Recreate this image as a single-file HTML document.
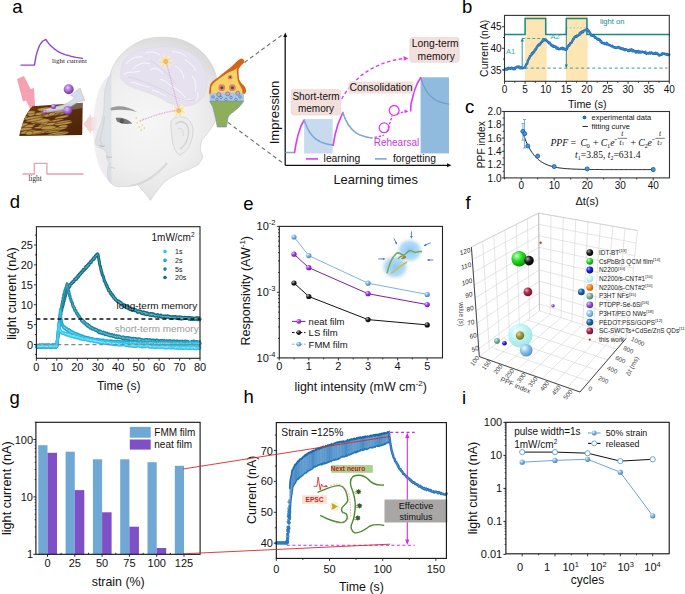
<!DOCTYPE html>
<html><head><meta charset="utf-8"><style>
html,body{margin:0;padding:0;background:#fff;}
body{width:685px;height:594px;overflow:hidden;}
svg{display:block;font-family:"Liberation Sans",sans-serif;}
</style></head><body>
<svg width="685" height="594" viewBox="0 0 685 594">

<defs>
<radialGradient id="gHead" gradientUnits="userSpaceOnUse" cx="148" cy="122" r="88">
 <stop offset="0" stop-color="#f6f6f6"/><stop offset="0.55" stop-color="#efefef"/><stop offset="0.8" stop-color="#e6e6e6"/><stop offset="1" stop-color="#d9d9d9"/>
</radialGradient>
<linearGradient id="gLens" x1="0" x2="1" y1="0" y2="0"><stop offset="0" stop-color="#f4eef0"/><stop offset="0.4" stop-color="#ebebf0"/><stop offset="1" stop-color="#dfe5ec"/></linearGradient>
<linearGradient id="gPinkFade" x1="0" x2="1"><stop offset="0" stop-color="#f3d6d6"/><stop offset="1" stop-color="#f3d6d6" stop-opacity="0"/></linearGradient>
<linearGradient id="gFilm" x1="0" x2="1" y1="0" y2="1"><stop offset="0" stop-color="#6a3a12"/><stop offset="0.6" stop-color="#5a2c0c"/><stop offset="1" stop-color="#4a2208"/></linearGradient>
<radialGradient id="gGlow"><stop offset="0" stop-color="#fff3c0"/><stop offset="0.5" stop-color="#fbe9a8" stop-opacity="0.6"/><stop offset="1" stop-color="#fff" stop-opacity="0"/></radialGradient>
<radialGradient id="gGlowBlue"><stop offset="0" stop-color="#8cc8f8"/><stop offset="0.65" stop-color="#a6d4fa" stop-opacity="0.85"/><stop offset="1" stop-color="#cfe6fa" stop-opacity="0"/></radialGradient>
<radialGradient id="gPurple" cx="0.4" cy="0.35" r="0.7"><stop offset="0" stop-color="#e6c8f5"/><stop offset="0.5" stop-color="#a468d0"/><stop offset="1" stop-color="#6a2e9a"/></radialGradient>
<radialGradient id="gBall1" cx="0.35" cy="0.32" r="0.75"><stop offset="0" stop-color="#e8f2fb"/><stop offset="0.45" stop-color="#7eb3df"/><stop offset="1" stop-color="#3f7fb8"/></radialGradient><radialGradient id="gBall2" cx="0.35" cy="0.32" r="0.75"><stop offset="0" stop-color="#f0d8ff"/><stop offset="0.45" stop-color="#a030f0"/><stop offset="1" stop-color="#6a10b0"/></radialGradient><radialGradient id="gBall3" cx="0.35" cy="0.32" r="0.75"><stop offset="0" stop-color="#bbbbbb"/><stop offset="0.45" stop-color="#222222"/><stop offset="1" stop-color="#000000"/></radialGradient><radialGradient id="gCyanBig" cx="0.35" cy="0.32" r="0.75"><stop offset="0" stop-color="#f4ffff"/><stop offset="0.45" stop-color="#aef2f2"/><stop offset="1" stop-color="#86dede"/></radialGradient><radialGradient id="gCyan" cx="0.35" cy="0.32" r="0.75"><stop offset="0" stop-color="#f4ffff"/><stop offset="0.45" stop-color="#bff5f7"/><stop offset="1" stop-color="#98e4e8"/></radialGradient><radialGradient id="gOlive" cx="0.35" cy="0.32" r="0.75"><stop offset="0" stop-color="#e0d890"/><stop offset="0.45" stop-color="#a39a3a"/><stop offset="1" stop-color="#6a6420"/></radialGradient><radialGradient id="gTeal" cx="0.35" cy="0.32" r="0.75"><stop offset="0" stop-color="#d8eee8"/><stop offset="0.45" stop-color="#7ab0a8"/><stop offset="1" stop-color="#3f7a72"/></radialGradient><radialGradient id="gBlue" cx="0.35" cy="0.32" r="0.75"><stop offset="0" stop-color="#a8a8ff"/><stop offset="0.45" stop-color="#1818e0"/><stop offset="1" stop-color="#0a0a90"/></radialGradient><radialGradient id="gLightBlue" cx="0.35" cy="0.32" r="0.75"><stop offset="0" stop-color="#f2faff"/><stop offset="0.45" stop-color="#8cc4ea"/><stop offset="1" stop-color="#4f8fbf"/></radialGradient><radialGradient id="gGreen" cx="0.35" cy="0.32" r="0.75"><stop offset="0" stop-color="#c8ffc8"/><stop offset="0.45" stop-color="#22dd22"/><stop offset="1" stop-color="#0a8a0a"/></radialGradient><radialGradient id="gBlack" cx="0.35" cy="0.32" r="0.75"><stop offset="0" stop-color="#aaaaaa"/><stop offset="0.45" stop-color="#1a1a1a"/><stop offset="1" stop-color="#000000"/></radialGradient><radialGradient id="gMaroon" cx="0.35" cy="0.32" r="0.75"><stop offset="0" stop-color="#f0a0b0"/><stop offset="0.45" stop-color="#a8284a"/><stop offset="1" stop-color="#6a1028"/></radialGradient><radialGradient id="gNavy" cx="0.35" cy="0.32" r="0.75"><stop offset="0" stop-color="#9ac8ee"/><stop offset="0.45" stop-color="#1f6aa8"/><stop offset="1" stop-color="#0a3a70"/></radialGradient><radialGradient id="gPurple2" cx="0.35" cy="0.32" r="0.75"><stop offset="0" stop-color="#e0c8f8"/><stop offset="0.45" stop-color="#8a58d0"/><stop offset="1" stop-color="#5a2a98"/></radialGradient><radialGradient id="gOrange" cx="0.35" cy="0.32" r="0.75"><stop offset="0" stop-color="#ffd0a0"/><stop offset="0.45" stop-color="#f88a20"/><stop offset="1" stop-color="#c05a00"/></radialGradient></defs>
<rect width="685" height="594" fill="#fff"/>
<text x="12.2" y="12.8" font-size="18.5" text-anchor="start" fill="#000" font-family="Liberation Sans" >a</text>
<polyline points="21,65.1 34.5,65.1 35.3,60 36.2,55.4 37.8,50 39.6,45.3 41.3,42.8 42.9,41 45.8,39.4 47.2,41.5 48.8,43.6 51,46 53.9,48.6 57,50.8 60.6,52.8 65,54.6 70.7,56.2 76,57.4 82.5,58.4" fill="none" stroke="#8e44d0" stroke-width="1.4" stroke-linejoin="round" stroke-linecap="round" />
<text x="52" y="62.8" font-size="7.1" text-anchor="start" fill="#222" font-family="Liberation Serif" >light current</text>
<polyline points="23,174 34.3,174 34.3,163.3 46.9,163.3 46.9,174 83,174" fill="none" stroke="#e6a0b0" stroke-width="1.3" stroke-linejoin="round" stroke-linecap="round" />
<text x="28.5" y="180.7" font-size="7.2" text-anchor="start" fill="#222" font-family="Liberation Serif" >light</text>
<polygon points="17,79 24,76 30.5,89 34,88 35.5,113 33,114 26,100.5 23,101.5" fill="#f38a9e" opacity="0.8"/>
<clipPath id="cFilm"><path d="M32.5,106.3 L82.7,102.8 L82.2,134.9 L19.1,136 C21,129 23,122 24.3,118.5 C26.5,113.5 29.5,109.5 32.5,106.3 Z"/></clipPath>
<path d="M32.5,106.3 L82.7,102.8 L82.2,134.9 L19.1,136 C21,129 23,122 24.3,118.5 C26.5,113.5 29.5,109.5 32.5,106.3 Z" fill="url(#gFilm)"/>
<g clip-path="url(#cFilm)" fill="#c29c4e" stroke="#4a260c" stroke-width="0.45" opacity="0.92"><ellipse cx="28.3" cy="125.9" rx="7.6" ry="1.6" transform="rotate(-9.8 28.3 125.9)"/><ellipse cx="55.9" cy="129" rx="6.8" ry="1.6" transform="rotate(-9.6 55.9 129)"/><ellipse cx="21.1" cy="117.6" rx="7.3" ry="1.1" transform="rotate(-4.1 21.1 117.6)"/><ellipse cx="31.2" cy="114.1" rx="3.8" ry="2.2" transform="rotate(-4.6 31.2 114.1)"/><ellipse cx="59.5" cy="124" rx="3.7" ry="1.4" transform="rotate(-7 59.5 124)"/><ellipse cx="26.1" cy="132.8" rx="5.9" ry="1.2" transform="rotate(-3.8 26.1 132.8)"/><ellipse cx="26.5" cy="132.1" rx="6.4" ry="1.7" transform="rotate(-8.6 26.5 132.1)"/><ellipse cx="42.3" cy="112.9" rx="3.7" ry="2" transform="rotate(-9.7 42.3 112.9)"/><ellipse cx="55.3" cy="113.4" rx="9.8" ry="2.1" transform="rotate(-4.5 55.3 113.4)"/><ellipse cx="54.6" cy="123.1" rx="8.2" ry="1.1" transform="rotate(-7.2 54.6 123.1)"/><ellipse cx="57.4" cy="113.2" rx="9.5" ry="2.1" transform="rotate(-7.9 57.4 113.2)"/><ellipse cx="37.1" cy="119.7" rx="6" ry="2.2" transform="rotate(-8.1 37.1 119.7)"/><ellipse cx="22.2" cy="110.4" rx="8.2" ry="2.2" transform="rotate(-7 22.2 110.4)"/><ellipse cx="42.6" cy="122.3" rx="8.4" ry="1.3" transform="rotate(-5.9 42.6 122.3)"/><ellipse cx="45.5" cy="124.2" rx="4.7" ry="1.2" transform="rotate(-8.5 45.5 124.2)"/><ellipse cx="61.8" cy="117" rx="7.4" ry="1.4" transform="rotate(-11 61.8 117)"/><ellipse cx="23.9" cy="129.2" rx="8.6" ry="1.4" transform="rotate(-5.2 23.9 129.2)"/><ellipse cx="50.7" cy="131.4" rx="9.7" ry="1.5" transform="rotate(-2.1 50.7 131.4)"/><ellipse cx="63.3" cy="123.4" rx="9.2" ry="1.6" transform="rotate(-8.2 63.3 123.4)"/><ellipse cx="31.9" cy="130.8" rx="4.6" ry="1.1" transform="rotate(-3.9 31.9 130.8)"/><ellipse cx="55.1" cy="120.6" rx="8.9" ry="1.1" transform="rotate(-9.4 55.1 120.6)"/><ellipse cx="33.8" cy="118.9" rx="4.6" ry="1.1" transform="rotate(-8.6 33.8 118.9)"/><ellipse cx="60.6" cy="133.6" rx="8.3" ry="1.6" transform="rotate(-9.5 60.6 133.6)"/><ellipse cx="63.2" cy="121.7" rx="8.2" ry="1" transform="rotate(-9.9 63.2 121.7)"/><ellipse cx="57.9" cy="128.7" rx="9.2" ry="1.7" transform="rotate(-7.7 57.9 128.7)"/><ellipse cx="46.6" cy="130.1" rx="5.5" ry="1.6" transform="rotate(-9.2 46.6 130.1)"/><ellipse cx="54.8" cy="108.3" rx="8" ry="2.1" transform="rotate(-11.8 54.8 108.3)"/><ellipse cx="47.1" cy="124.7" rx="9" ry="1.7" transform="rotate(-9.4 47.1 124.7)"/><ellipse cx="38.8" cy="132.9" rx="9.4" ry="1.2" transform="rotate(-11.1 38.8 132.9)"/><ellipse cx="25.1" cy="108.7" rx="6.4" ry="1.2" transform="rotate(-3.3 25.1 108.7)"/><ellipse cx="49.8" cy="111.3" rx="7" ry="1.4" transform="rotate(-7.1 49.8 111.3)"/><ellipse cx="30.7" cy="112.3" rx="4.7" ry="1.5" transform="rotate(-4.9 30.7 112.3)"/><ellipse cx="45.2" cy="109.2" rx="8.1" ry="2" transform="rotate(-4.3 45.2 109.2)"/><ellipse cx="55.8" cy="108.2" rx="6.5" ry="1.1" transform="rotate(-4.4 55.8 108.2)"/><ellipse cx="28.7" cy="126.5" rx="5.1" ry="1.8" transform="rotate(-8.9 28.7 126.5)"/><ellipse cx="22.8" cy="118.1" rx="5.5" ry="2.1" transform="rotate(-9 22.8 118.1)"/><ellipse cx="43.1" cy="122.3" rx="9.7" ry="1.1" transform="rotate(-6 43.1 122.3)"/><ellipse cx="43.4" cy="127.1" rx="9.8" ry="1.4" transform="rotate(-5 43.4 127.1)"/><ellipse cx="44.1" cy="122.6" rx="3.9" ry="2" transform="rotate(-2.2 44.1 122.6)"/><ellipse cx="36.6" cy="116.3" rx="10" ry="1.1" transform="rotate(-11.2 36.6 116.3)"/><ellipse cx="24.2" cy="129.2" rx="8.4" ry="1.5" transform="rotate(-5.8 24.2 129.2)"/><ellipse cx="21.9" cy="124.8" rx="6.4" ry="1.6" transform="rotate(-8.1 21.9 124.8)"/><ellipse cx="38.7" cy="113.9" rx="3.8" ry="1.5" transform="rotate(-9.5 38.7 113.9)"/><ellipse cx="52" cy="129.2" rx="8.2" ry="1.5" transform="rotate(-9.6 52 129.2)"/><ellipse cx="38" cy="120.7" rx="7.6" ry="2.2" transform="rotate(-11.1 38 120.7)"/><ellipse cx="42.1" cy="120.8" rx="8.2" ry="2.1" transform="rotate(-4.2 42.1 120.8)"/><ellipse cx="48.6" cy="127.7" rx="7.8" ry="2" transform="rotate(-5 48.6 127.7)"/><ellipse cx="51.1" cy="114.4" rx="9.5" ry="1.5" transform="rotate(-5.9 51.1 114.4)"/><ellipse cx="57.3" cy="133.1" rx="9.9" ry="1" transform="rotate(-8.9 57.3 133.1)"/><ellipse cx="34.7" cy="118.2" rx="4.4" ry="1.7" transform="rotate(-11.2 34.7 118.2)"/><ellipse cx="34.3" cy="132.5" rx="8.3" ry="1.6" transform="rotate(-10.9 34.3 132.5)"/><ellipse cx="63.1" cy="126.3" rx="4.8" ry="1.4" transform="rotate(-5.6 63.1 126.3)"/><ellipse cx="51" cy="114.8" rx="9.7" ry="1.4" transform="rotate(-9.5 51 114.8)"/><ellipse cx="58.2" cy="112" rx="7.9" ry="1.2" transform="rotate(-6 58.2 112)"/><ellipse cx="33.2" cy="117.9" rx="9.6" ry="1.6" transform="rotate(-7.6 33.2 117.9)"/><ellipse cx="48.2" cy="115.3" rx="4.6" ry="1.5" transform="rotate(-9.3 48.2 115.3)"/><ellipse cx="29.3" cy="133" rx="3.7" ry="2" transform="rotate(-2.7 29.3 133)"/><ellipse cx="52" cy="108.5" rx="6.8" ry="1" transform="rotate(-5.9 52 108.5)"/><ellipse cx="51.8" cy="114.2" rx="3.5" ry="1.7" transform="rotate(-11.1 51.8 114.2)"/><ellipse cx="34.6" cy="119.8" rx="9.3" ry="1.4" transform="rotate(-10.7 34.6 119.8)"/></g>
<path d="M44,112.5 C52,111.5 60,110.5 66,108.8 C71,107 75,104.5 78,101.5 L84.8,100.8 L80,88 L70.5,95.5 L75,97 C72.5,100.5 68,103 63,104.8 C57,106.5 50,108 44,109.5 Z" fill="#cfdcf0" stroke="#d9a585" stroke-width="0.5" opacity="0.95"/>
<path d="M44,112.5 C52,111.5 60,110.5 66,108.8 C71,107 75,104.5 78,101.5 L82.5,102.8 L82.5,108 C76,109 70,110 64,111 C57,112 50,112.5 44,112.5 Z" fill="#9aa0b0" opacity="0.45" clip-path="url(#cFilm)"/>
<circle cx="68.7" cy="89.2" r="5" fill="url(#gPurple)"/>
<circle cx="67.7" cy="110.4" r="4.4" fill="url(#gPurple)"/>
<circle cx="53.5" cy="106.4" r="2.5" fill="url(#gPurple)"/>
<circle cx="44.8" cy="111.8" r="2" fill="url(#gPurple)"/>
<line x1="45" y1="111.5" x2="67" y2="109.5" stroke="#b8a8c8" stroke-width="1.2" />
<ellipse cx="113" cy="128" rx="20" ry="53" fill="url(#gLens)"/>
<path d="M83.4,124 L91,114 L91,134 Z" fill="#f3d4d4"/>
<rect x="91" y="117" width="6" height="14" fill="url(#gPinkFade)"/>
<path d="M110.5,73.8 C114,60 124,48 143.8,39.6 C156,36 176,36 187.6,42.3 C200,48 212,60 216,75 C219,92 218,110 214.9,121.9 C212,128 209,131 207.3,133.7 C204,137 201.5,140 201.4,142.1 C200.5,146 200.4,148 200.4,150.5 C201,153 203,155 203,157.5 C201,161 199,163 198.6,164.5 C195,166.5 191,168.5 188.1,169.8 C182,172 176,174.5 172.3,176.8 C167,179.5 163,183 160,187.3 C156,192 153,196.5 150.4,200.4 C148.5,197 146,194 142.6,190.8 C140,187.5 139,185.5 137.3,184.7 C133,186 130,186.4 128.5,186.4 C124,186.6 120,186.6 116.3,186.4 C112,184.5 109.5,182.5 108.4,180.3 C107.5,177 107.3,174 107.2,172 C107.8,169.5 108,168 108.2,166.5 C108.6,165 109,163.5 109.2,162 C107.5,161.5 107,159 107,157.5 C107,155.5 106.8,154 106.5,152.5 C105.5,151 104.5,150 103.5,149.3 C101,148.3 99,147.5 97.5,146.5 C95.8,145.5 95.1,143.5 95.3,141.4 C95.8,138.5 96.8,136 97.6,133.4 C98,130.5 99.8,127.5 100.9,124.5 C102.3,120 103.4,115 103.8,110.4 C104,106 104.2,103 104.3,101 C104.4,96 104.6,92.5 105,90 C106.3,84 108,79 110.5,73.8 Z" fill="url(#gHead)" stroke="#d2d2d2" stroke-width="0.7"/>
<clipPath id="cHead"><path d="M110.5,73.8 C114,60 124,48 143.8,39.6 C156,36 176,36 187.6,42.3 C200,48 212,60 216,75 C219,92 218,110 214.9,121.9 C212,128 209,131 207.3,133.7 C204,137 201.5,140 201.4,142.1 C200.5,146 200.4,148 200.4,150.5 C201,153 203,155 203,157.5 C201,161 199,163 198.6,164.5 C195,166.5 191,168.5 188.1,169.8 C182,172 176,174.5 172.3,176.8 C167,179.5 163,183 160,187.3 C156,192 153,196.5 150.4,200.4 C148.5,197 146,194 142.6,190.8 C140,187.5 139,185.5 137.3,184.7 C133,186 130,186.4 128.5,186.4 C124,186.6 120,186.6 116.3,186.4 C112,184.5 109.5,182.5 108.4,180.3 C107.5,177 107.3,174 107.2,172 C107.8,169.5 108,168 108.2,166.5 C108.6,165 109,163.5 109.2,162 C107.5,161.5 107,159 107,157.5 C107,155.5 106.8,154 106.5,152.5 C105.5,151 104.5,150 103.5,149.3 C101,148.3 99,147.5 97.5,146.5 C95.8,145.5 95.1,143.5 95.3,141.4 C95.8,138.5 96.8,136 97.6,133.4 C98,130.5 99.8,127.5 100.9,124.5 C102.3,120 103.4,115 103.8,110.4 C104,106 104.2,103 104.3,101 C104.4,96 104.6,92.5 105,90 C106.3,84 108,79 110.5,73.8 Z"/></clipPath>
<rect x="90" y="68" width="21.5" height="130" fill="#c8d2de" opacity="0.45" clip-path="url(#cHead)"/>
<path d="M130,186 C137,185 145,182 152,177 C158,172.5 163,168 167,162.8" fill="none" stroke="#d0d0d0" stroke-width="2.2" opacity="0.7" clip-path="url(#cHead)"/>
<path d="M137.3,184.7 C141,189 146,195 150.4,200.4" fill="none" stroke="#d4d4d4" stroke-width="1.5" opacity="0.7" clip-path="url(#cHead)"/>
<path d="M121,70.3 C122,63 125,59 128,56.3 C134,51 140,49.5 143.8,49.3 C152,47 160,46.6 166.6,46.6 C176,47 183,49 187.6,51 C194,55 199,59 201.6,63.3 C205,69 207,74 206.9,79 C207,86 206,92 203.4,96.6 C199,102 195,104 191,105.3 C186,106.5 180,106 175.3,105.3 C169,103 165,101 161.3,98.3 C154,95 149,93 143.8,91.3 C137,89 131,87 126.3,84.3 C122,81 120,78 120.1,75.5 Z" fill="#e6e1ee" stroke="#ddd6e6" stroke-width="0.6"/>
<path d="M126,64 C131,58 137,56 142,57" fill="none" stroke="#faf8fc" stroke-width="1"/>
<path d="M133,69 C138,63 145,62 150,64" fill="none" stroke="#faf8fc" stroke-width="1"/>
<path d="M124,74 C130,71 134,73 140,71" fill="none" stroke="#faf8fc" stroke-width="1"/>
<path d="M145,53 C151,51 156,52 160,55" fill="none" stroke="#faf8fc" stroke-width="1"/>
<path d="M172,52 C177,51 182,53 186,57" fill="none" stroke="#faf8fc" stroke-width="1"/>
<path d="M185,60 C190,62 194,66 196,71" fill="none" stroke="#faf8fc" stroke-width="1"/>
<path d="M150,70 C156,67 160,69 163,74" fill="none" stroke="#faf8fc" stroke-width="1"/>
<path d="M175,66 C180,68 183,73 184,79" fill="none" stroke="#faf8fc" stroke-width="1"/>
<path d="M192,76 C196,80 197,86 195,91" fill="none" stroke="#faf8fc" stroke-width="1"/>
<path d="M131,82 C137,83 143,86 149,87" fill="none" stroke="#faf8fc" stroke-width="1"/>
<path d="M152,90 C157,91 161,94 166,96" fill="none" stroke="#faf8fc" stroke-width="1"/>
<path d="M170,85 C176,88 181,92 186,98" fill="none" stroke="#faf8fc" stroke-width="1"/>
<path d="M160,79 C164,80 168,83 171,86" fill="none" stroke="#faf8fc" stroke-width="1"/>
<path d="M197,92 C199,96 198,99 195,101" fill="none" stroke="#faf8fc" stroke-width="1"/>
<path d="M180,99 C184,100 188,100 191,99" fill="none" stroke="#faf8fc" stroke-width="1"/>
<path d="M128,77 C140,80 152,84 166,92 C176,98 186,102 196,100" fill="none" stroke="#d6cfe0" stroke-width="0.7"/>
<path d="M150,60 C160,66 168,74 176,84" fill="none" stroke="#d6cfe0" stroke-width="0.7"/>
<path d="M104.5,116 C104,124 102.5,131 100.5,137 C100,140 100.5,143 102.5,144.5" fill="none" stroke="#d2d2d2" stroke-width="1.4" opacity="0.8"/>
<path d="M99.5,145.2 C101,146.5 103,146.6 104.5,145.8" fill="none" stroke="#a8a8a8" stroke-width="0.9"/>
<path d="M106,156.6 C108,157.2 110,157.4 112,157" fill="none" stroke="#b8b8b8" stroke-width="0.8"/>
<path d="M108.5,168 C111,167 113,167.5 115,168.5" fill="none" stroke="#d6d6d6" stroke-width="1.2"/>
<path d="M110.5,108 C118,105 128,106 137,112 C128,109.5 120,109 111,110.5 Z" fill="#9a9a9a"/>
<path d="M115.6,118 C120,117 127,118 132.2,123.5 C126,124.5 121,124 117,121.5 Z" fill="#777"/>
<circle cx="122" cy="121" r="2.2" fill="#555"/>
<path d="M171,121 C178,113 193,116 193,131 C192.5,143 187,152 180,155 C175,153 173,146 172,138 C171.5,132 170.5,126 171,121 Z" fill="#ececec" stroke="#cfcfcf" stroke-width="0.8"/>
<path d="M175.5,124 C182,119 189,123 188.5,133 C188,141 184,147 180,149" fill="none" stroke="#d2d2d2" stroke-width="1.4"/>
<path d="M178,129 C181,127 184,130 183,136" fill="none" stroke="#d6d6d6" stroke-width="1"/>
<circle cx="165.7" cy="61.5" r="8" fill="url(#gGlow)"/>
<circle cx="165.7" cy="61.5" r="2.4" fill="#f2a23a"/>
<line x1="165.7" y1="61.5" x2="171.9" y2="63.4" stroke="#f5d470" stroke-width="0.6"/>
<line x1="165.7" y1="61.5" x2="168.1" y2="67.6" stroke="#f5d470" stroke-width="0.6"/>
<line x1="165.7" y1="61.5" x2="162.4" y2="67.1" stroke="#f5d470" stroke-width="0.6"/>
<line x1="165.7" y1="61.5" x2="159.3" y2="62.4" stroke="#f5d470" stroke-width="0.6"/>
<line x1="165.7" y1="61.5" x2="161" y2="57" stroke="#f5d470" stroke-width="0.6"/>
<line x1="165.7" y1="61.5" x2="166.3" y2="55" stroke="#f5d470" stroke-width="0.6"/>
<line x1="165.7" y1="61.5" x2="171.1" y2="57.9" stroke="#f5d470" stroke-width="0.6"/>
<circle cx="178.8" cy="110.6" r="8" fill="url(#gGlow)"/>
<circle cx="178.8" cy="110.6" r="2.4" fill="#f2a23a"/>
<line x1="178.8" y1="110.6" x2="185" y2="112.5" stroke="#f5d470" stroke-width="0.6"/>
<line x1="178.8" y1="110.6" x2="181.2" y2="116.7" stroke="#f5d470" stroke-width="0.6"/>
<line x1="178.8" y1="110.6" x2="175.5" y2="116.2" stroke="#f5d470" stroke-width="0.6"/>
<line x1="178.8" y1="110.6" x2="172.4" y2="111.5" stroke="#f5d470" stroke-width="0.6"/>
<line x1="178.8" y1="110.6" x2="174.1" y2="106.1" stroke="#f5d470" stroke-width="0.6"/>
<line x1="178.8" y1="110.6" x2="179.4" y2="104.1" stroke="#f5d470" stroke-width="0.6"/>
<line x1="178.8" y1="110.6" x2="184.2" y2="107" stroke="#f5d470" stroke-width="0.6"/>
<circle cx="140.3" cy="121.1" r="0.8" fill="#f2cf50"/>
<circle cx="137.3" cy="123.1" r="0.8" fill="#f2cf50"/>
<circle cx="142.3" cy="125.1" r="0.8" fill="#f2cf50"/>
<circle cx="139.3" cy="127.1" r="0.8" fill="#f2cf50"/>
<circle cx="143.3" cy="119.1" r="0.8" fill="#f2cf50"/>
<circle cx="136.3" cy="118.1" r="0.8" fill="#f2cf50"/>
<circle cx="141.3" cy="130.1" r="0.8" fill="#f2cf50"/>
<circle cx="144.3" cy="128.1" r="0.8" fill="#f2cf50"/>
<path d="M140,121 C150,117 160,113 178,110 M166,62 C170,75 174,92 178.8,110" fill="none" stroke="#dcaee0" stroke-width="1.3" stroke-dasharray="1 0.7"/>
<path d="M241.5,58.5 C243.5,58.8 245,60.5 244,62.7 C241,65.5 238.5,68 238.5,70.3 C238.6,74 238.8,77 239.2,79.4 C240.5,82.5 242.5,84 243.8,85.5 C245.5,87.5 246.3,89.5 246,91.5 C245.6,93 244.8,94 243.8,94.5 L209.5,94.5 C209,92 209,91 209.4,90 C209.6,87 210,85.5 210.5,83.9 C212.5,81 214.5,79.5 217.3,77.9 C221,75 224.5,72 227.9,69.5 C231,67 233.5,64.8 235.5,62.7 C237.5,60.8 239.5,58.5 241.5,58.5 Z" fill="#d2641e"/>
<path d="M240,65 C237,67.5 236,69 237,72.6 C237.3,77 237.5,80 238.5,82.4 C239.8,85.5 241.5,87.5 242.3,90 L242.5,94.5 L211,94.5 L211.2,87 C212,85 213,83.5 214.2,82.4 C218,79.5 221.5,77 224.8,74.8 C228,72.5 231,71.2 234,70.3 C236.5,68.5 238.5,66.5 240,65 Z" fill="#f8d262"/>
<circle cx="221.8" cy="87.7" r="3.4" fill="#e8806a"/><circle cx="221.8" cy="87.7" r="1.5" fill="#2a5a78"/>
<circle cx="232.4" cy="87.7" r="3.4" fill="#e8806a"/><circle cx="232.4" cy="87.7" r="1.5" fill="#2a5a78"/>
<circle cx="230.2" cy="77.3" r="2.3" fill="#e8806a"/><circle cx="230.2" cy="77.3" r="1.0" fill="#2a5a78"/>
<path d="M209.7,93.5 C216,92 238,92 244,93.5 L243.8,101.5 L209.7,101.5 Z" fill="#a9c8e8"/>
<circle cx="213" cy="97" r="1.3" fill="none" stroke="#3a6aa8" stroke-width="0.6"/>
<circle cx="217" cy="99.5" r="1.3" fill="none" stroke="#3a6aa8" stroke-width="0.6"/>
<circle cx="221" cy="97.5" r="1.3" fill="none" stroke="#3a6aa8" stroke-width="0.6"/>
<circle cx="226" cy="99.5" r="1.3" fill="none" stroke="#3a6aa8" stroke-width="0.6"/>
<circle cx="231" cy="97.5" r="1.3" fill="none" stroke="#3a6aa8" stroke-width="0.6"/>
<circle cx="236" cy="99.5" r="1.3" fill="none" stroke="#3a6aa8" stroke-width="0.6"/>
<circle cx="240" cy="97" r="1.3" fill="none" stroke="#3a6aa8" stroke-width="0.6"/>
<circle cx="218.8" cy="94.6" r="2" fill="#e8a0b8" stroke="#3a6aa8" stroke-width="0.6"/>
<circle cx="227.8" cy="93.9" r="2" fill="#e8a0b8" stroke="#3a6aa8" stroke-width="0.6"/>
<circle cx="237.7" cy="93.3" r="2" fill="#e8a0b8" stroke="#3a6aa8" stroke-width="0.6"/>
<path d="M209.7,101 L243.8,101 C241,106 236,110 230.5,114 C228.5,116 227.8,118 227.9,118.8 L226.4,127 L217.3,127 C216.8,124 216,121 215.8,118.8 C214.5,114 213.5,110 212.7,106.7 C211.5,104.5 210.5,103 209.7,101 Z" fill="#8fae5a" stroke="#6a8ec0" stroke-width="0.6"/>
<line x1="244.5" y1="62.5" x2="284" y2="33.5" stroke="#777" stroke-width="1.2" stroke-dasharray="4 3"/>
<line x1="228" y1="122.5" x2="283.5" y2="163.5" stroke="#777" stroke-width="1.2" stroke-dasharray="4 3"/>
<line x1="285.2" y1="165.3" x2="285.2" y2="36" stroke="#111" stroke-width="1.3" />
<polygon points="283.25,37 287.25,37 285.25,32.5" fill="#111"/>
<line x1="285.2" y1="165.3" x2="448" y2="165.3" stroke="#111" stroke-width="1.3" />
<polygon points="447,163.3 447,167.3 451.5,165.3" fill="#111"/>
<rect x="304.1" y="118.9" width="28.6" height="34.6" fill="#c8dbee" />
<rect x="420.6" y="77.3" width="28.4" height="76.1" fill="#91badf" />
<polyline points="286,152.5 294.5,152.5" fill="none" stroke="#78aad6" stroke-width="1.4" stroke-linejoin="round" stroke-linecap="round" />
<polyline points="294.5,152.5 296,144 298,135 301,126 304.1,120.2" fill="none" stroke="#d93cf0" stroke-width="1.6" stroke-linejoin="round" stroke-linecap="round" />
<polyline points="304.1,120.2 305.6,124.1 307,127.3 308.5,130.1 309.9,132.5 311.4,134.5 312.8,136.2 314.3,137.7 315.7,138.9 317.2,139.9 318.7,140.8 320.1,141.6 321.6,142.3 323,142.8 324.5,143.3 325.9,143.7 327.4,144.1 328.8,144.4 330.3,144.7 331.7,144.9 333.2,145.1" fill="none" stroke="#78aad6" stroke-width="1.6" stroke-linejoin="round" stroke-linecap="round" />
<polyline points="333.2,145.1 335,135 338,124 342.8,112.6" fill="none" stroke="#d93cf0" stroke-width="1.6" stroke-linejoin="round" stroke-linecap="round" />
<polyline points="342.8,112.6 344.3,116.5 345.7,119.9 347.2,122.7 348.6,125.1 350.1,127.1 351.6,128.9 353,130.3 354.5,131.6 355.9,132.7 357.4,133.6 358.9,134.4 360.3,135 361.8,135.6 363.2,136.1 364.7,136.5 366.2,136.9 367.6,137.2 369.1,137.5 370.5,137.7 372,137.9" fill="none" stroke="#78aad6" stroke-width="1.6" stroke-linejoin="round" stroke-linecap="round" />
<polyline points="420.6,77.7 422,81.8 423.4,85.2 424.9,88.2 426.3,90.7 427.7,92.8 429.1,94.6 430.5,96.1 432,97.4 433.4,98.6 434.8,99.5 436.2,100.3 437.6,101 439.1,101.6 440.5,102.1 441.9,102.5 443.3,102.9 444.7,103.3 446.2,103.5 447.6,103.8 449,104" fill="none" stroke="#6d9ccc" stroke-width="1.2" stroke-linejoin="round" stroke-linecap="round" />
<path d="M374.5,137.4 C378,136.8 381,136 383.8,135.4" fill="none" stroke="#d93cf0" stroke-width="1.4" stroke-dasharray="2.5 1.5"/>
<circle cx="384.1" cy="127.8" r="4.9" fill="none" stroke="#d93cf0" stroke-width="1.3"/>
<path d="M387,132 C389,126 391,120 392,115.5" fill="none" stroke="#d93cf0" stroke-width="1.4" stroke-dasharray="2.5 1.5"/>
<circle cx="394.2" cy="110.4" r="4.9" fill="none" stroke="#d93cf0" stroke-width="1.3"/>
<path d="M397,114 C400,113 403,112 407,111.4" fill="none" stroke="#d93cf0" stroke-width="1.4" stroke-dasharray="2.5 1.5"/>
<polygon points="404.5,109.6 408.5,111.3 404.8,113" fill="#d93cf0"/>
<polyline points="410.7,110.9 411,104 414,92 417,84 420.6,77.7" fill="none" stroke="#d93cf0" stroke-width="1.6" stroke-linejoin="round" stroke-linecap="round" />
<path d="M341.7,99 C352,80 372,62 405,58.4" fill="none" stroke="#d93cf0" stroke-width="1.4" stroke-dasharray="3.5 2.5"/>
<polygon points="403.5,56 408.5,58.4 403.8,60.8" fill="#d93cf0"/>
<rect x="291.1" y="89.4" width="49.7" height="25.7" rx="3" fill="#f3dfdc" stroke="#ead2d0" stroke-width="0.6"/>
<text x="316" y="99.6" font-size="10" text-anchor="middle" fill="#111" font-family="Liberation Sans" >Short-term</text>
<text x="316" y="111.7" font-size="10" text-anchor="middle" fill="#111" font-family="Liberation Sans" >memory</text>
<rect x="348.4" y="81.4" width="65.3" height="12.2" rx="2" fill="#f3dfdc"/>
<text x="381" y="90.5" font-size="10.4" text-anchor="middle" fill="#111" font-family="Liberation Sans" >Consolidation</text>
<rect x="409.9" y="37.4" width="49.3" height="24.9" rx="3" fill="#f3dfdc" stroke="#d8d4dc" stroke-width="0.6"/>
<text x="435.2" y="47.4" font-size="10.3" text-anchor="middle" fill="#111" font-family="Liberation Sans" >Long-term</text>
<text x="436.2" y="59.6" font-size="10.3" text-anchor="middle" fill="#111" font-family="Liberation Sans" >memory</text>
<text x="373.7" y="146.3" font-size="10" text-anchor="start" fill="#c43ad6" font-family="Liberation Sans" >Rehearsal</text>
<line x1="305.8" y1="158.9" x2="318.1" y2="158.9" stroke="#d93cf0" stroke-width="1.6" />
<text x="323.6" y="162" font-size="10.3" text-anchor="start" fill="#111" font-family="Liberation Sans" >learning</text>
<line x1="375" y1="158.9" x2="386.8" y2="158.9" stroke="#78aad6" stroke-width="1.6" />
<text x="393" y="162" font-size="10.3" text-anchor="start" fill="#111" font-family="Liberation Sans" >forgetting</text>
<text x="333.4" y="183.8" font-size="12.9" text-anchor="start" fill="#111" font-family="Liberation Sans" >Learning times</text>
<text x="0" y="0" font-size="13" text-anchor="middle" fill="#111" dominant-baseline="central" transform="translate(274.4,112.5) rotate(-90)" >Impression</text>
<text x="461.9" y="12.9" font-size="18.5" text-anchor="start" fill="#000" font-family="Liberation Sans" >b</text>
<rect x="524.9" y="15.4" width="21.8" height="65.9" fill="#fde6b4" />
<rect x="566" y="15.4" width="21.6" height="65.9" fill="#fde6b4" />
<line x1="525.1" y1="68.1" x2="667.3" y2="68.1" stroke="#5caea4" stroke-width="1.1" stroke-dasharray="3 2.6"/>
<line x1="522.2" y1="38.5" x2="545.7" y2="38.5" stroke="#3a9a9a" stroke-width="0.9" stroke-dasharray="3 2"/>
<line x1="566.3" y1="27.8" x2="586.9" y2="27.8" stroke="#7cc" stroke-width="0.9" stroke-dasharray="1.5 2"/>
<polyline points="504.5,34.5 525.1,34.5 525.1,18.6 545.7,18.6 545.7,34.5 566.3,34.5 566.3,18.6 586.9,18.6 586.9,34.5 669.3,34.5" fill="none" stroke="#15898c" stroke-width="1.5" stroke-linejoin="round" stroke-linecap="round" />
<line x1="522.2" y1="68" x2="522.2" y2="40.5" stroke="#15898c" stroke-width="0.9" />
<polygon points="520.6,41.5 523.8,41.5 522.2,37.8" fill="#15898c"/>
<line x1="566.3" y1="29" x2="566.3" y2="65.5" stroke="#15898c" stroke-width="0.9" />
<polygon points="564.7,64.5 567.9,64.5 566.3,68.2" fill="#15898c"/>
<polyline points="504.5,70.1 504.9,69.3 505.3,69.3 505.7,68.8 506.1,68.6 506.6,69.6 507,69.6 507.4,68.2 507.8,69.2 508.2,69.2 508.6,67.8 509,68.7 509.4,68 509.9,68.5 510.3,68.1 510.7,68.9 511.1,68 511.5,67.7 511.9,68.3 512.3,68 512.7,68.2 513.2,69.3 513.6,68.2 514,68.5 514.4,68.9 514.8,69.3 515.2,67.7 515.6,68.1 516,67.5 516.4,67 516.9,67 517.3,66.5 517.7,67.3 518.1,66.6 518.5,67.2 518.9,66.5 519.3,66.7 519.7,68.2 520.2,68.3 520.6,68.3 521,67.1 521.4,68.1 521.8,67.7 522.2,68.3 522.6,67.9 523,68 523.5,68 523.9,67.6 524.3,67.6 524.7,67.1 525.1,67.5 525.5,66.1 525.9,65.3 526.3,64.2 526.7,63.8 527.2,63.8 527.6,61.6 528,60.4 528.4,59.5 528.8,59.1 529.2,57.9 529.6,57.9 530,56 530.5,55.8 530.9,55.6 531.3,55.5 531.7,53.6 532.1,52.9 532.5,54.1 532.9,52.4 533.3,52.6 533.8,52.5 534.2,51.7 534.6,50.3 535,49.5 535.4,50.2 535.8,48.6 536.2,49 536.6,47.2 537,47.4 537.5,45.9 537.9,45.3 538.3,45.7 538.7,44.4 539.1,45.1 539.5,45.1 539.9,43.7 540.3,44.2 540.8,43.4 541.2,42.5 541.6,41.7 542,42 542.4,41.8 542.8,40.1 543.2,40.8 543.6,39.5 544.1,39.5 544.5,40.3 544.9,40 545.3,39.8 545.7,39.4 546.1,40.2 546.5,40.8 546.9,41.1 547.3,41 547.8,42 548.2,42.4 548.6,42.2 549,43.3 549.4,43.4 549.8,42.6 550.2,43.7 550.6,44 551.1,45.3 551.5,44.9 551.9,45 552.3,46.2 552.7,45.4 553.1,45.6 553.5,46.8 553.9,46 554.4,46.4 554.8,46.2 555.2,47 555.6,46.6 556,46.8 556.4,48.4 556.8,48.6 557.2,47.8 557.6,47.6 558.1,49.1 558.5,48.9 558.9,48.7 559.3,49.2 559.7,49 560.1,49 560.5,48.8 560.9,48.3 561.4,48.7 561.8,48.5 562.2,47.8 562.6,49.2 563,48.3 563.4,48.2 563.8,49.1 564.2,49.4 564.7,48.6 565.1,49.7 565.5,49.9 565.9,49.5 566.3,49.1 566.7,49.4 567.1,48.3 567.5,47.6 567.9,46.1 568.4,46.2 568.8,45 569.2,45.7 569.6,44.9 570,43.9 570.4,43 570.8,43.2 571.2,43 571.7,42.6 572.1,41.2 572.5,41.1 572.9,39.4 573.3,38.6 573.7,39.2 574.1,38.4 574.5,37 575,36.9 575.4,36.3 575.8,36.9 576.2,37 576.6,36.6 577,35.5 577.4,36.2 577.8,35.9 578.2,35.5 578.7,35.1 579.1,34.8 579.5,33.5 579.9,34.5 580.3,34.4 580.7,32.4 581.1,32.2 581.5,31.8 582,32.5 582.4,31.4 582.8,31.2 583.2,32.2 583.6,31 584,30.5 584.4,30.5 584.8,30.4 585.3,30.4 585.7,29.9 586.1,29.8 586.5,29.8 586.9,28.7 587.3,29.7 587.7,29.4 588.1,31.4 588.5,30.6 589,31.6 589.4,31.9 589.8,32.5 590.2,33.1 590.6,34.1 591,35.5 591.4,34.5 591.8,35.8 592.3,35.8 592.7,35.4 593.1,35.9 593.5,36.3 593.9,35.7 594.3,36.5 594.7,37.3 595.1,37.8 595.6,37.1 596,38.1 596.4,37.9 596.8,38.8 597.2,39.3 597.6,38.9 598,38.6 598.4,39.9 598.8,39.1 599.3,39.1 599.7,39.6 600.1,39.9 600.5,41.7 600.9,41.1 601.3,41.1 601.7,42.9 602.1,42.9 602.6,43.2 603,43 603.4,43.4 603.8,43.4 604.2,42.9 604.6,44.2 605,44.1 605.4,44 605.9,44 606.3,44.2 606.7,42.8 607.1,43.1 607.5,44.7 607.9,44.2 608.3,44.8 608.7,45 609.1,45.2 609.6,44.8 610,45.1 610.4,45.6 610.8,46 611.2,45.9 611.6,46.4 612,45.8 612.4,45.7 612.9,46.6 613.3,47.3 613.7,47.4 614.1,47.4 614.5,47.2 614.9,47.1 615.3,47.9 615.7,47.3 616.2,47.5 616.6,47.8 617,47.8 617.4,47.5 617.8,47 618.2,47.5 618.6,47 619,47.5 619.4,48 619.9,47.7 620.3,47.6 620.7,48.9 621.1,48.6 621.5,48.8 621.9,48.2 622.3,48.3 622.7,49.4 623.2,48.6 623.6,48.8 624,49.8 624.4,49.5 624.8,50.2 625.2,49.1 625.6,49.5 626,49.2 626.5,49.6 626.9,49.9 627.3,49.9 627.7,50.3 628.1,51.1 628.5,50.2 628.9,51.1 629.3,50.8 629.7,49.6 630.2,50.7 630.6,50.6 631,50.6 631.4,49.3 631.8,50.6 632.2,51.1 632.6,49.9 633,51.4 633.5,50.4 633.9,51 634.3,50.9 634.7,50.9 635.1,51.6 635.5,51.3 635.9,52.6 636.3,51.3 636.8,51.7 637.2,51.3 637.6,52.4 638,51.3 638.4,51 638.8,52.6 639.2,52.2 639.6,51.9 640,51.5 640.5,52.5 640.9,52.6 641.3,52.5 641.7,51.8 642.1,51.5 642.5,52 642.9,52 643.3,52 643.8,52.1 644.2,52.1 644.6,52.9 645,52.4 645.4,51.8 645.8,53.1 646.2,52.7 646.6,54 647.1,53.2 647.5,53.1 647.9,53.3 648.3,53.5 648.7,53.5 649.1,53.1 649.5,52.5 649.9,53.7 650.3,53.7 650.8,52.6 651.2,52.3 651.6,53 652,53.2 652.4,52.9 652.8,53.9 653.2,53.8 653.6,53.9 654.1,53.3 654.5,53.7 654.9,53.8 655.3,53 655.7,52.6 656.1,53.8 656.5,53.2 656.9,53.8 657.4,53.3 657.8,53.9 658.2,54.7 658.6,55 659,55.5 659.4,54.8 659.8,55 660.2,55.3 660.6,54.9 661.1,54.8 661.5,53.9 661.9,54.8 662.3,53.2 662.7,53.9 663.1,53.7 663.5,53.9 663.9,53.3 664.4,53.5 664.8,54.1 665.2,54.3 665.6,54.1 666,53.9 666.4,54.8 666.8,54.3 667.2,53.9 667.7,54.8 668.1,55.2 668.5,55.2 668.9,54.4 669.3,54.6" fill="none" stroke="#1f6fb6" stroke-width="2.3" stroke-linejoin="round" stroke-linecap="round" />
<polyline points="504.5,70.1 504.9,69.3 505.3,69.3 505.7,68.8 506.1,68.6 506.6,69.6 507,69.6 507.4,68.2 507.8,69.2 508.2,69.2 508.6,67.8 509,68.7 509.4,68 509.9,68.5 510.3,68.1 510.7,68.9 511.1,68 511.5,67.7 511.9,68.3 512.3,68 512.7,68.2 513.2,69.3 513.6,68.2 514,68.5 514.4,68.9 514.8,69.3 515.2,67.7 515.6,68.1 516,67.5 516.4,67 516.9,67 517.3,66.5 517.7,67.3 518.1,66.6 518.5,67.2 518.9,66.5 519.3,66.7 519.7,68.2 520.2,68.3 520.6,68.3 521,67.1 521.4,68.1 521.8,67.7 522.2,68.3 522.6,67.9 523,68 523.5,68 523.9,67.6 524.3,67.6 524.7,67.1 525.1,67.5 525.5,66.1 525.9,65.3 526.3,64.2 526.7,63.8 527.2,63.8 527.6,61.6 528,60.4 528.4,59.5 528.8,59.1 529.2,57.9 529.6,57.9 530,56 530.5,55.8 530.9,55.6 531.3,55.5 531.7,53.6 532.1,52.9 532.5,54.1 532.9,52.4 533.3,52.6 533.8,52.5 534.2,51.7 534.6,50.3 535,49.5 535.4,50.2 535.8,48.6 536.2,49 536.6,47.2 537,47.4 537.5,45.9 537.9,45.3 538.3,45.7 538.7,44.4 539.1,45.1 539.5,45.1 539.9,43.7 540.3,44.2 540.8,43.4 541.2,42.5 541.6,41.7 542,42 542.4,41.8 542.8,40.1 543.2,40.8 543.6,39.5 544.1,39.5 544.5,40.3 544.9,40 545.3,39.8 545.7,39.4 546.1,40.2 546.5,40.8 546.9,41.1 547.3,41 547.8,42 548.2,42.4 548.6,42.2 549,43.3 549.4,43.4 549.8,42.6 550.2,43.7 550.6,44 551.1,45.3 551.5,44.9 551.9,45 552.3,46.2 552.7,45.4 553.1,45.6 553.5,46.8 553.9,46 554.4,46.4 554.8,46.2 555.2,47 555.6,46.6 556,46.8 556.4,48.4 556.8,48.6 557.2,47.8 557.6,47.6 558.1,49.1 558.5,48.9 558.9,48.7 559.3,49.2 559.7,49 560.1,49 560.5,48.8 560.9,48.3 561.4,48.7 561.8,48.5 562.2,47.8 562.6,49.2 563,48.3 563.4,48.2 563.8,49.1 564.2,49.4 564.7,48.6 565.1,49.7 565.5,49.9 565.9,49.5 566.3,49.1 566.7,49.4 567.1,48.3 567.5,47.6 567.9,46.1 568.4,46.2 568.8,45 569.2,45.7 569.6,44.9 570,43.9 570.4,43 570.8,43.2 571.2,43 571.7,42.6 572.1,41.2 572.5,41.1 572.9,39.4 573.3,38.6 573.7,39.2 574.1,38.4 574.5,37 575,36.9 575.4,36.3 575.8,36.9 576.2,37 576.6,36.6 577,35.5 577.4,36.2 577.8,35.9 578.2,35.5 578.7,35.1 579.1,34.8 579.5,33.5 579.9,34.5 580.3,34.4 580.7,32.4 581.1,32.2 581.5,31.8 582,32.5 582.4,31.4 582.8,31.2 583.2,32.2 583.6,31 584,30.5 584.4,30.5 584.8,30.4 585.3,30.4 585.7,29.9 586.1,29.8 586.5,29.8 586.9,28.7 587.3,29.7 587.7,29.4 588.1,31.4 588.5,30.6 589,31.6 589.4,31.9 589.8,32.5 590.2,33.1 590.6,34.1 591,35.5 591.4,34.5 591.8,35.8 592.3,35.8 592.7,35.4 593.1,35.9 593.5,36.3 593.9,35.7 594.3,36.5 594.7,37.3 595.1,37.8 595.6,37.1 596,38.1 596.4,37.9 596.8,38.8 597.2,39.3 597.6,38.9 598,38.6 598.4,39.9 598.8,39.1 599.3,39.1 599.7,39.6 600.1,39.9 600.5,41.7 600.9,41.1 601.3,41.1 601.7,42.9 602.1,42.9 602.6,43.2 603,43 603.4,43.4 603.8,43.4 604.2,42.9 604.6,44.2 605,44.1 605.4,44 605.9,44 606.3,44.2 606.7,42.8 607.1,43.1 607.5,44.7 607.9,44.2 608.3,44.8 608.7,45 609.1,45.2 609.6,44.8 610,45.1 610.4,45.6 610.8,46 611.2,45.9 611.6,46.4 612,45.8 612.4,45.7 612.9,46.6 613.3,47.3 613.7,47.4 614.1,47.4 614.5,47.2 614.9,47.1 615.3,47.9 615.7,47.3 616.2,47.5 616.6,47.8 617,47.8 617.4,47.5 617.8,47 618.2,47.5 618.6,47 619,47.5 619.4,48 619.9,47.7 620.3,47.6 620.7,48.9 621.1,48.6 621.5,48.8 621.9,48.2 622.3,48.3 622.7,49.4 623.2,48.6 623.6,48.8 624,49.8 624.4,49.5 624.8,50.2 625.2,49.1 625.6,49.5 626,49.2 626.5,49.6 626.9,49.9 627.3,49.9 627.7,50.3 628.1,51.1 628.5,50.2 628.9,51.1 629.3,50.8 629.7,49.6 630.2,50.7 630.6,50.6 631,50.6 631.4,49.3 631.8,50.6 632.2,51.1 632.6,49.9 633,51.4 633.5,50.4 633.9,51 634.3,50.9 634.7,50.9 635.1,51.6 635.5,51.3 635.9,52.6 636.3,51.3 636.8,51.7 637.2,51.3 637.6,52.4 638,51.3 638.4,51 638.8,52.6 639.2,52.2 639.6,51.9 640,51.5 640.5,52.5 640.9,52.6 641.3,52.5 641.7,51.8 642.1,51.5 642.5,52 642.9,52 643.3,52 643.8,52.1 644.2,52.1 644.6,52.9 645,52.4 645.4,51.8 645.8,53.1 646.2,52.7 646.6,54 647.1,53.2 647.5,53.1 647.9,53.3 648.3,53.5 648.7,53.5 649.1,53.1 649.5,52.5 649.9,53.7 650.3,53.7 650.8,52.6 651.2,52.3 651.6,53 652,53.2 652.4,52.9 652.8,53.9 653.2,53.8 653.6,53.9 654.1,53.3 654.5,53.7 654.9,53.8 655.3,53 655.7,52.6 656.1,53.8 656.5,53.2 656.9,53.8 657.4,53.3 657.8,53.9 658.2,54.7 658.6,55 659,55.5 659.4,54.8 659.8,55 660.2,55.3 660.6,54.9 661.1,54.8 661.5,53.9 661.9,54.8 662.3,53.2 662.7,53.9 663.1,53.7 663.5,53.9 663.9,53.3 664.4,53.5 664.8,54.1 665.2,54.3 665.6,54.1 666,53.9 666.4,54.8 666.8,54.3 667.2,53.9 667.7,54.8 668.1,55.2 668.5,55.2 668.9,54.4 669.3,54.6" fill="none" stroke="#4a93d2" stroke-width="0.6" stroke-linejoin="round" stroke-linecap="round" />
<text x="600" y="24.4" font-size="7.6" text-anchor="start" fill="#15898c" font-family="Liberation Sans" >light on</text>
<text x="506" y="54" font-size="7.5" text-anchor="start" fill="#3aa8a8" font-family="Liberation Sans" >A1</text>
<text x="550.5" y="39.4" font-size="7.5" text-anchor="start" fill="#3aa8a8" font-family="Liberation Sans" >A2</text>
<rect x="504.5" y="15.4" width="164.8" height="65.9" fill="none" stroke="#333" stroke-width="1.1"/>
<line x1="504.5" y1="81.3" x2="504.5" y2="83.8" stroke="#222" stroke-width="0.9" />
<line x1="525.1" y1="81.3" x2="525.1" y2="83.8" stroke="#222" stroke-width="0.9" />
<line x1="545.7" y1="81.3" x2="545.7" y2="83.8" stroke="#222" stroke-width="0.9" />
<line x1="566.3" y1="81.3" x2="566.3" y2="83.8" stroke="#222" stroke-width="0.9" />
<line x1="586.9" y1="81.3" x2="586.9" y2="83.8" stroke="#222" stroke-width="0.9" />
<line x1="607.5" y1="81.3" x2="607.5" y2="83.8" stroke="#222" stroke-width="0.9" />
<line x1="628.1" y1="81.3" x2="628.1" y2="83.8" stroke="#222" stroke-width="0.9" />
<line x1="648.7" y1="81.3" x2="648.7" y2="83.8" stroke="#222" stroke-width="0.9" />
<line x1="669.3" y1="81.3" x2="669.3" y2="83.8" stroke="#222" stroke-width="0.9" />
<line x1="514.8" y1="81.3" x2="514.8" y2="82.8" stroke="#222" stroke-width="0.9" />
<line x1="535.4" y1="81.3" x2="535.4" y2="82.8" stroke="#222" stroke-width="0.9" />
<line x1="556" y1="81.3" x2="556" y2="82.8" stroke="#222" stroke-width="0.9" />
<line x1="576.6" y1="81.3" x2="576.6" y2="82.8" stroke="#222" stroke-width="0.9" />
<line x1="597.2" y1="81.3" x2="597.2" y2="82.8" stroke="#222" stroke-width="0.9" />
<line x1="617.8" y1="81.3" x2="617.8" y2="82.8" stroke="#222" stroke-width="0.9" />
<line x1="638.4" y1="81.3" x2="638.4" y2="82.8" stroke="#222" stroke-width="0.9" />
<line x1="659" y1="81.3" x2="659" y2="82.8" stroke="#222" stroke-width="0.9" />
<line x1="504.5" y1="69.9" x2="502" y2="69.9" stroke="#222" stroke-width="0.9" />
<line x1="504.5" y1="48.3" x2="502" y2="48.3" stroke="#222" stroke-width="0.9" />
<line x1="504.5" y1="26.7" x2="502" y2="26.7" stroke="#222" stroke-width="0.9" />
<line x1="504.5" y1="59.1" x2="503" y2="59.1" stroke="#222" stroke-width="0.9" />
<line x1="504.5" y1="37.5" x2="503" y2="37.5" stroke="#222" stroke-width="0.9" />
<text x="504.5" y="92.5" font-size="10" text-anchor="middle" fill="#111" font-family="Liberation Sans" >0</text>
<text x="525.1" y="92.5" font-size="10" text-anchor="middle" fill="#111" font-family="Liberation Sans" >5</text>
<text x="545.7" y="92.5" font-size="10" text-anchor="middle" fill="#111" font-family="Liberation Sans" >10</text>
<text x="566.3" y="92.5" font-size="10" text-anchor="middle" fill="#111" font-family="Liberation Sans" >15</text>
<text x="586.9" y="92.5" font-size="10" text-anchor="middle" fill="#111" font-family="Liberation Sans" >20</text>
<text x="607.5" y="92.5" font-size="10" text-anchor="middle" fill="#111" font-family="Liberation Sans" >25</text>
<text x="628.1" y="92.5" font-size="10" text-anchor="middle" fill="#111" font-family="Liberation Sans" >30</text>
<text x="648.7" y="92.5" font-size="10" text-anchor="middle" fill="#111" font-family="Liberation Sans" >35</text>
<text x="669.3" y="92.5" font-size="10" text-anchor="middle" fill="#111" font-family="Liberation Sans" >40</text>
<text x="501.5" y="73.5" font-size="10" text-anchor="end" fill="#111" font-family="Liberation Sans" >35</text>
<text x="501.5" y="51.9" font-size="10" text-anchor="end" fill="#111" font-family="Liberation Sans" >40</text>
<text x="501.5" y="30.3" font-size="10" text-anchor="end" fill="#111" font-family="Liberation Sans" >45</text>
<text x="587.3" y="107.8" font-size="10.7" text-anchor="middle" fill="#111" font-family="Liberation Sans" >Time (s)</text>
<text x="0" y="0" font-size="10.4" text-anchor="middle" fill="#111" dominant-baseline="central" transform="translate(484.2,48.3) rotate(-90)" >Current (nA)</text>
<text x="464.9" y="113" font-size="18.5" text-anchor="start" fill="#000" font-family="Liberation Sans" >c</text>
<polyline points="522.9,132.6 523.7,135.1 524.5,137.4 525.3,139.6 526.2,141.6 527,143.5 527.8,145.2 528.6,146.9 529.5,148.4 530.3,149.8 531.1,151.1 531.9,152.4 532.8,153.5 533.6,154.6 534.4,155.6 535.2,156.5 536.1,157.4 536.9,158.2 537.7,159 538.5,159.7 539.4,160.4 540.2,161 541,161.6 541.8,162.1 542.7,162.6 543.5,163.1 544.3,163.5 545.1,163.9 546,164.3 546.8,164.7 547.6,165 548.4,165.3 549.2,165.6 550.1,165.9 550.9,166.1 551.7,166.3 552.6,166.6 553.4,166.8 554.2,167 555,167.1 555.9,167.3 556.7,167.5 557.5,167.6 558.3,167.7 559.2,167.9 560,168 560.8,168.1 561.6,168.2 562.5,168.3 563.3,168.4 564.1,168.5 564.9,168.5 565.8,168.6 566.6,168.7 567.4,168.7 568.2,168.8 569.1,168.8 569.9,168.9 570.7,168.9 571.5,169 572.4,169 573.2,169.1 574,169.1 574.8,169.1 575.7,169.2 576.5,169.2 577.3,169.2 578.1,169.2 579,169.3 579.8,169.3 580.6,169.3 581.4,169.3 582.2,169.4 583.1,169.4 583.9,169.4 584.7,169.4 585.6,169.4 586.4,169.4 587.2,169.4 588,169.4 588.9,169.5 589.7,169.5 590.5,169.5 591.3,169.5 592.2,169.5 593,169.5 593.8,169.5 594.6,169.5 595.5,169.5 596.3,169.5 597.1,169.5 597.9,169.5 598.8,169.5 599.6,169.5 600.4,169.5 601.2,169.5 602.1,169.6 602.9,169.6 603.7,169.6 604.5,169.6 605.4,169.6 606.2,169.6 607,169.6 607.8,169.6 608.7,169.6 609.5,169.6 610.3,169.6 611.1,169.6 612,169.6 612.8,169.6 613.6,169.6 614.4,169.6 615.2,169.6 616.1,169.6 616.9,169.6 617.7,169.6 618.6,169.6 619.4,169.6 620.2,169.6 621,169.6 621.9,169.6 622.7,169.6 623.5,169.6 624.3,169.6 625.2,169.6 626,169.6 626.8,169.6 627.6,169.6 628.5,169.6 629.3,169.6 630.1,169.6 630.9,169.6 631.8,169.6 632.6,169.6 633.4,169.6 634.2,169.6 635.1,169.6 635.9,169.6 636.7,169.6 637.5,169.6 638.4,169.6 639.2,169.6 640,169.6 640.8,169.6 641.7,169.6 642.5,169.6 643.3,169.6 644.1,169.6 645,169.6 645.8,169.6 646.6,169.6 647.4,169.6 648.2,169.6 649.1,169.6 649.9,169.6 650.7,169.6 651.6,169.6 652.4,169.6 653.2,169.6" fill="none" stroke="#111" stroke-width="1.0" stroke-linejoin="round" stroke-linecap="round" />
<line x1="522.9" y1="140.1" x2="522.9" y2="123.5" stroke="#5b9bd5" stroke-width="0.8" />
<line x1="521.4" y1="140.1" x2="524.4" y2="140.1" stroke="#5b9bd5" stroke-width="0.8" />
<line x1="521.4" y1="123.5" x2="524.4" y2="123.5" stroke="#5b9bd5" stroke-width="0.8" />
<line x1="524.5" y1="148" x2="524.5" y2="119.5" stroke="#5b9bd5" stroke-width="0.8" />
<line x1="523" y1="148" x2="526" y2="148" stroke="#5b9bd5" stroke-width="0.8" />
<line x1="523" y1="119.5" x2="526" y2="119.5" stroke="#5b9bd5" stroke-width="0.8" />
<line x1="653.2" y1="171.3" x2="653.2" y2="167.9" stroke="#5b9bd5" stroke-width="0.8" />
<line x1="651.7" y1="171.3" x2="654.7" y2="171.3" stroke="#5b9bd5" stroke-width="0.8" />
<line x1="651.7" y1="167.9" x2="654.7" y2="167.9" stroke="#5b9bd5" stroke-width="0.8" />
<circle cx="522.9" cy="131.4" r="2.0" fill="#4f95d3" stroke="#1762a8" stroke-width="0.9"/>
<circle cx="524.7" cy="133.7" r="2.0" fill="#4f95d3" stroke="#1762a8" stroke-width="0.9"/>
<circle cx="527.8" cy="146" r="2.0" fill="#4f95d3" stroke="#1762a8" stroke-width="0.9"/>
<circle cx="537.7" cy="156" r="2.0" fill="#4f95d3" stroke="#1762a8" stroke-width="0.9"/>
<circle cx="554.2" cy="166.6" r="2.0" fill="#4f95d3" stroke="#1762a8" stroke-width="0.9"/>
<circle cx="587.2" cy="168.9" r="2.0" fill="#4f95d3" stroke="#1762a8" stroke-width="0.9"/>
<circle cx="653.2" cy="169.6" r="2.0" fill="#4f95d3" stroke="#1762a8" stroke-width="0.9"/>
<rect x="504.2" y="111.5" width="165.3" height="66.4" fill="none" stroke="#333" stroke-width="1.1"/>
<line x1="521.2" y1="177.9" x2="521.2" y2="180.4" stroke="#222" stroke-width="0.9" />
<line x1="554.2" y1="177.9" x2="554.2" y2="180.4" stroke="#222" stroke-width="0.9" />
<line x1="587.2" y1="177.9" x2="587.2" y2="180.4" stroke="#222" stroke-width="0.9" />
<line x1="620.2" y1="177.9" x2="620.2" y2="180.4" stroke="#222" stroke-width="0.9" />
<line x1="653.2" y1="177.9" x2="653.2" y2="180.4" stroke="#222" stroke-width="0.9" />
<line x1="504.7" y1="177.9" x2="504.7" y2="179.4" stroke="#222" stroke-width="0.9" />
<line x1="537.7" y1="177.9" x2="537.7" y2="179.4" stroke="#222" stroke-width="0.9" />
<line x1="570.7" y1="177.9" x2="570.7" y2="179.4" stroke="#222" stroke-width="0.9" />
<line x1="603.7" y1="177.9" x2="603.7" y2="179.4" stroke="#222" stroke-width="0.9" />
<line x1="636.7" y1="177.9" x2="636.7" y2="179.4" stroke="#222" stroke-width="0.9" />
<line x1="504.2" y1="177.9" x2="501.7" y2="177.9" stroke="#222" stroke-width="0.9" />
<line x1="504.2" y1="164.6" x2="501.7" y2="164.6" stroke="#222" stroke-width="0.9" />
<line x1="504.2" y1="151.3" x2="501.7" y2="151.3" stroke="#222" stroke-width="0.9" />
<line x1="504.2" y1="138.1" x2="501.7" y2="138.1" stroke="#222" stroke-width="0.9" />
<line x1="504.2" y1="124.8" x2="501.7" y2="124.8" stroke="#222" stroke-width="0.9" />
<line x1="504.2" y1="111.5" x2="501.7" y2="111.5" stroke="#222" stroke-width="0.9" />
<line x1="504.2" y1="171.3" x2="502.7" y2="171.3" stroke="#222" stroke-width="0.9" />
<line x1="504.2" y1="158" x2="502.7" y2="158" stroke="#222" stroke-width="0.9" />
<line x1="504.2" y1="144.7" x2="502.7" y2="144.7" stroke="#222" stroke-width="0.9" />
<line x1="504.2" y1="131.4" x2="502.7" y2="131.4" stroke="#222" stroke-width="0.9" />
<line x1="504.2" y1="118.1" x2="502.7" y2="118.1" stroke="#222" stroke-width="0.9" />
<text x="521.2" y="188.6" font-size="10" text-anchor="middle" fill="#111" font-family="Liberation Sans" >0</text>
<text x="554.2" y="188.6" font-size="10" text-anchor="middle" fill="#111" font-family="Liberation Sans" >10</text>
<text x="587.2" y="188.6" font-size="10" text-anchor="middle" fill="#111" font-family="Liberation Sans" >20</text>
<text x="620.2" y="188.6" font-size="10" text-anchor="middle" fill="#111" font-family="Liberation Sans" >30</text>
<text x="653.2" y="188.6" font-size="10" text-anchor="middle" fill="#111" font-family="Liberation Sans" >40</text>
<text x="501.5" y="181.5" font-size="10" text-anchor="end" fill="#111" font-family="Liberation Sans" >1.0</text>
<text x="501.5" y="168.2" font-size="10" text-anchor="end" fill="#111" font-family="Liberation Sans" >1.2</text>
<text x="501.5" y="154.9" font-size="10" text-anchor="end" fill="#111" font-family="Liberation Sans" >1.4</text>
<text x="501.5" y="141.7" font-size="10" text-anchor="end" fill="#111" font-family="Liberation Sans" >1.6</text>
<text x="501.5" y="128.4" font-size="10" text-anchor="end" fill="#111" font-family="Liberation Sans" >1.8</text>
<text x="501.5" y="115.1" font-size="10" text-anchor="end" fill="#111" font-family="Liberation Sans" >2.0</text>
<text x="0" y="0" font-size="10.2" text-anchor="middle" fill="#111" dominant-baseline="central" transform="translate(481.2,144.7) rotate(-90)" >PPF index</text>
<circle cx="584.5" cy="117.4" r="1.9" fill="#1e6fb5"/>
<text x="591.6" y="120.2" font-size="7.5" text-anchor="start" fill="#111" font-family="Liberation Sans" >experimental data</text>
<line x1="582.5" y1="126.5" x2="587.8" y2="126.5" stroke="#111" stroke-width="0.9" />
<text x="591.6" y="129" font-size="7.5" text-anchor="start" fill="#111" font-family="Liberation Sans" >fitting curve</text>
<text x="550.4" y="146.3" font-family="Liberation Serif" font-style="italic" font-size="9.8" fill="#111" text-anchor="start">PPF</text>
<text x="570.5" y="146.3" font-family="Liberation Serif" font-style="normal" font-size="10" fill="#111" text-anchor="start">=</text>
<text x="580.4" y="146.3" font-family="Liberation Serif" font-style="italic" font-size="9.8" fill="#111" text-anchor="start">C</text>
<text x="586.6" y="148.1" font-family="Liberation Serif" font-style="normal" font-size="6.5" fill="#111" text-anchor="start">0</text>
<text x="592.8" y="146.3" font-family="Liberation Serif" font-style="normal" font-size="10.5" fill="#111" text-anchor="start">+</text>
<text x="600.7" y="146.3" font-family="Liberation Serif" font-style="italic" font-size="9.8" fill="#111" text-anchor="start">C</text>
<text x="606.9" y="148.1" font-family="Liberation Serif" font-style="normal" font-size="6.5" fill="#111" text-anchor="start">1</text>
<text x="610.2" y="146.3" font-family="Liberation Serif" font-style="italic" font-size="9.8" fill="#111" text-anchor="start">e</text>
<text x="630.3" y="146.3" font-family="Liberation Serif" font-style="normal" font-size="10.5" fill="#111" text-anchor="start">+</text>
<text x="638.3" y="146.3" font-family="Liberation Serif" font-style="italic" font-size="9.8" fill="#111" text-anchor="start">C</text>
<text x="644.5" y="148.1" font-family="Liberation Serif" font-style="normal" font-size="6.5" fill="#111" text-anchor="start">2</text>
<text x="647.6" y="146.3" font-family="Liberation Serif" font-style="italic" font-size="9.8" fill="#111" text-anchor="start">e</text>
<line x1="614.6" y1="139.6" x2="616.9" y2="139.6" stroke="#111" stroke-width="0.55" />
<line x1="617.6" y1="138.3" x2="627.1" y2="138.3" stroke="#111" stroke-width="0.55" />
<text x="622.4" y="136.4" font-family="Liberation Serif" font-style="italic" font-size="7.5" fill="#111" text-anchor="middle">t</text>
<text x="621.9" y="144.6" font-family="Liberation Serif" font-style="italic" font-size="7.5" fill="#111" text-anchor="middle">t<tspan font-size="5" dy="0.8" font-style="normal">1</tspan></text>
<line x1="652.3" y1="139.6" x2="654.6" y2="139.6" stroke="#111" stroke-width="0.55" />
<line x1="655.3" y1="138.3" x2="664.8" y2="138.3" stroke="#111" stroke-width="0.55" />
<text x="660.1" y="136.4" font-family="Liberation Serif" font-style="italic" font-size="7.5" fill="#111" text-anchor="middle">t</text>
<text x="659.6" y="144.6" font-family="Liberation Serif" font-style="italic" font-size="7.5" fill="#111" text-anchor="middle">t<tspan font-size="5" dy="0.8" font-style="normal">2</tspan></text>
<text x="575.1" y="157.9" font-family="Liberation Serif" font-size="9.6" fill="#111"><tspan font-style="italic">t</tspan><tspan font-size="6" dy="1.8">1</tspan><tspan dy="-1.8">=3.85, </tspan><tspan font-style="italic">t</tspan><tspan font-size="6" dy="1.8">2</tspan><tspan dy="-1.8">=631.4</tspan></text>
<text x="9.7" y="208.3" font-size="18.5" text-anchor="start" fill="#000" font-family="Liberation Sans" >d</text>
<polyline points="36.4,346.2 36.6,346 36.8,345.2 37,346.2 37.2,346.1 37.4,345.9 37.6,346.8 37.8,346.1 38,345.8 38.2,345.5 38.4,347 38.6,346.5 38.9,347 39.1,345.4 39.3,345.7 39.5,347.1 39.7,345 39.9,345.1 40.1,345.8 40.3,345.8 40.5,346.8 40.7,347.2 40.9,346 41.1,347.1 41.3,346.8 41.5,346.7 41.7,347.1 41.9,346.2 42.1,346.2 42.3,345.3 42.5,346.1 42.7,345.8 42.9,346.1 43.1,345.7 43.4,346.2 43.6,346.6 43.8,345 44,345 44.2,345.3 44.4,345.6 44.6,346.5 44.8,346.7 45,346.6 45.2,347 45.4,345.5 45.6,346.3 45.8,345.3 46,346.3 46.2,345.1 46.4,345.3 46.6,347.2 46.8,346.7 47,345.2 47.2,346.2 47.4,345 47.6,346.3 47.9,347 48.1,345.8 48.3,345.5 48.5,346.6 48.7,347 48.9,346.5 49.1,345.1 49.3,345.5 49.5,346.9 49.7,346.6 49.9,347 50.1,347.1 50.3,345.4 50.5,346.8 50.7,346 50.9,346.2 51.1,346.8 51.3,345.6 51.5,346.9 51.7,345.8 51.9,346.9 52.1,346.3 52.4,346.7 52.6,346.6 52.8,345.1 53,345.4 53.2,346.5 53.4,345.2 53.6,346.7 53.8,346.3 54,345.3 54.2,345.8 54.4,347 54.6,345 54.8,346.7 55,346.6 55.2,345.5 55.4,346.5 55.6,346.5 55.8,347 56,347 56.2,345.9 56.4,346.7 56.6,345.9 56.8,344.8 57.1,343 57.3,340.3 57.5,339.8 57.7,338 57.9,335.7 58.1,335.6 58.3,334.1 58.5,330.9 58.7,329.5 58.9,329.1 59.1,327.7 59.3,324.9 59.5,322.8 59.7,322.9 59.9,319.6 60.1,318.2 60.3,317.2 60.5,316 60.7,315.1 60.9,313.7 61.1,310.9 61.3,311.6 61.6,309.8 61.8,310 62,308 62.2,307.7 62.4,307.5 62.6,307 62.8,305 63,305.6 63.2,304.5 63.4,303 63.6,301.5 63.8,301.3 64,301.2 64.2,299 64.4,299.8 64.6,299.4 64.8,298 65,296.9 65.2,296.9 65.4,295.9 65.6,294.6 65.8,293.4 66.1,293.6 66.3,292.3 66.5,290.3 66.7,289.3 66.9,289.2 67.1,288.4 67.3,288.4 67.5,289.1 67.7,289.1 67.9,288.9 68.1,286.7 68.3,287 68.5,286.2 68.7,288 68.9,286.4 69.1,286.5 69.3,285.7 69.5,286.4 69.7,284.7 69.9,286.5 70.1,285.2 70.3,284.6 70.6,284 70.8,284.1 71,283.9 71.2,283.5 71.4,283 71.6,284 71.8,283.1 72,282.4 72.2,282.2 72.4,283 72.6,281.9 72.8,281.5 73,281.9 73.2,281.6 73.4,281.9 73.6,281.2 73.8,280.9 74,281.9 74.2,280.4 74.4,279.4 74.6,279.4 74.8,279.5 75.1,280 75.3,279 75.5,279.1 75.7,279.2 75.9,278.1 76.1,279.5 76.3,277.8 76.5,279.2 76.7,277.7 76.9,277.7 77.1,278.1 77.3,276.8 77.5,277 77.7,276.5 77.9,275.6 78.1,276.8 78.3,277.2 78.5,276.3 78.7,275.2 78.9,276 79.1,275.9 79.3,274 79.5,274.3 79.8,274.6 80,273.4 80.2,274.4 80.4,273.4 80.6,274.2 80.8,273.5 81,272.4 81.2,271.9 81.4,271.8 81.6,272.6 81.8,272 82,272.3 82.2,272.5 82.4,271.5 82.6,270.5 82.8,270.2 83,270.3 83.2,269.6 83.4,270.8 83.6,270.8 83.8,270 84,270.1 84.3,270 84.5,269.3 84.7,268.7 84.9,268.7 85.1,268.9 85.3,267.5 85.5,266.9 85.7,267.9 85.9,268.5 86.1,268.3 86.3,266.3 86.5,267.9 86.7,266.2 86.9,266.2 87.1,266.6 87.3,265.3 87.5,266.7 87.7,266.3 87.9,265.3 88.1,266 88.3,264.1 88.5,265.1 88.8,265.1 89,265.1 89.2,263.6 89.4,263.7 89.6,263.1 89.8,262.8 90,262.3 90.2,261.7 90.4,262.1 90.6,262.9 90.8,262.1 91,262.5 91.2,262.6 91.4,261.4 91.6,260.6 91.8,261.6 92,261.1 92.2,260.7 92.4,259.7 92.6,259.9 92.8,259.4 93,258.9 93.3,259.5 93.5,258.4 93.7,257.9 93.9,259.4 94.1,257.4 94.3,257.6 94.5,258.7 94.7,257.7 94.9,257.1 95.1,256.3 95.3,257.2 95.5,256.5 95.7,255.6 95.9,255.6 96.1,255 96.3,255.8 96.5,255.2 96.7,256 96.9,254.6 97.1,254.1 97.3,254.3 97.5,253.9 97.8,254.8 98,254.4 98.2,255.4 98.4,256.4 98.6,258.5 98.8,258.9 99,261 99.2,260.7 99.4,261.8 99.6,263.8 99.8,265.3 100,265.4 100.2,266.1 100.4,266.4 100.6,267.9 100.8,269.7 101,268.8 101.2,271.2 101.4,270.4 101.6,272.5 101.8,272.9 102,272.6 102.2,274.7 102.5,275.4 102.7,275.2 102.9,275.5 103.1,275.8 103.3,276.8 103.5,276.8 103.7,278.4 103.9,278 104.1,280.5 104.3,280.8 104.5,280.6 104.7,281.7 104.9,281.3 105.1,282 105.3,282.7 105.5,282.5 105.7,283.6 105.9,284.7 106.1,285 106.3,284.4 106.5,284.7 106.7,286.7 107,285.7 107.2,285.9 107.4,287.3 107.6,287.6 107.8,288.8 108,288.4 108.2,288.9 108.4,289.1 108.6,290.7 108.8,289 109,290.3 109.2,290.9 109.4,290.4 109.6,291.3 109.8,291.7 110,291.6 110.2,293.3 110.4,292.6 110.6,293.2 110.8,292.3 111,292.7 111.2,294.4 111.5,294.2 111.7,295.3 111.9,294.9 112.1,294.3 112.3,294.4 112.5,295.6 112.7,296.2 112.9,296.7 113.1,296 113.3,295.6 113.5,297.6 113.7,296.4 113.9,298.3 114.1,298.2 114.3,298.3 114.5,297.5 114.7,298.5 114.9,298.7 115.1,298.3 115.3,299.7 115.5,298.5 115.7,300 116,299.4 116.2,300.1 116.4,300.5 116.6,299.9 116.8,300.3 117,300.6 117.2,300.7 117.4,300.7 117.6,301.7 117.8,301.7 118,301 118.2,301.1 118.4,301.5 118.6,301 118.8,301.7 119,301.3 119.2,302.8 119.4,301.9 119.6,301.9 119.8,301.8 120,303.3 120.2,303.4 120.4,302.3 120.7,303.9 120.9,302.4 121.1,302.8 121.3,304.6 121.5,304.5 121.7,303.5 121.9,304.7 122.1,305.2 122.3,303.7 122.5,304.7 122.7,304.1 122.9,305.6 123.1,305.2 123.3,304.7 123.5,306.3 123.7,306 123.9,305 124.1,304.7 124.3,304.7 124.5,306.6 124.7,305.9 124.9,305.5 125.2,306.1 125.4,305.8 125.6,307 125.8,307.4 126,307.4 126.2,307.7 126.4,306.7 126.6,306.9 126.8,306.9 127,307.9 127.2,307.9 127.4,308 127.6,306.7 127.8,306.4 128,306.7 128.2,308.6 128.4,308.8 128.6,306.9 128.8,308.1 129,307.5 129.2,308.6 129.4,308.3 129.7,308.3 129.9,308.6 130.1,308.3 130.3,309.7 130.5,308.3 130.7,308 130.9,309.6 131.1,309.1 131.3,308.5 131.5,309.3 131.7,309.9 131.9,310 132.1,309.3 132.3,310.5 132.5,308.7 132.7,308.9 132.9,309.2 133.1,309 133.3,309.6 133.5,310.1 133.7,309.8 133.9,310.1 134.2,309.1 134.4,309.5 134.6,310.8 134.8,309.5 135,309.9 135.2,309.9 135.4,309.9 135.6,310.8 135.8,309.8 136,309.9 136.2,310.4 136.4,310.3 136.6,310.4 136.8,311.2 137,310.6 137.2,312.1 137.4,311.6 137.6,311.4 137.8,312.4 138,311.7 138.2,311.2 138.4,311.3 138.7,312.2 138.9,310.7 139.1,311.4 139.3,312.1 139.5,311.5 139.7,311.8 139.9,311.9 140.1,312.3 140.3,311 140.5,311.8 140.7,311.8 140.9,311.7 141.1,311.3 141.3,313.4 141.5,312.2 141.7,311.9 141.9,313.1 142.1,312.8 142.3,313.6 142.5,313.4 142.7,313 142.9,313.7 143.1,313.4 143.4,312 143.6,312.8 143.8,313 144,312 144.2,312.9 144.4,312.1 144.6,312.9 144.8,312.6 145,314.2 145.2,313.1 145.4,312.8 145.6,314.4 145.8,312.5 146,314.3 146.2,313.6 146.4,314.3 146.6,313.7 146.8,313.5 147,314.7 147.2,312.8 147.4,314 147.6,313.8 147.9,313.7 148.1,314.3 148.3,314.5 148.5,313.7 148.7,314 148.9,314.6 149.1,313.7 149.3,314.7 149.5,315.3 149.7,314.8 149.9,315.3 150.1,315.1 150.3,313.9 150.5,314.7 150.7,313.6 150.9,314 151.1,315.5 151.3,313.5 151.5,313.7 151.7,315.6 151.9,313.8 152.1,314.9 152.4,314.8 152.6,313.8 152.8,315.4 153,314.8 153.2,314 153.4,314.5 153.6,315.1 153.8,314 154,314.4 154.2,314.9 154.4,316 154.6,314.9 154.8,315.3 155,315.9 155.2,316.2 155.4,315.2 155.6,316.2 155.8,315.5 156,315 156.2,315.5 156.4,316 156.6,315.3 156.9,315.7 157.1,314.9 157.3,315.5 157.5,314.5 157.7,314.7 157.9,315.2 158.1,316.3 158.3,316.6 158.5,314.9 158.7,315.2 158.9,315.5 159.1,316.2 159.3,316.4 159.5,315.5 159.7,315.8 159.9,315.8 160.1,315.7 160.3,315.5 160.5,316.7 160.7,316.6 160.9,315 161.1,315.2 161.3,315.3 161.6,317.2 161.8,317.2 162,316.7 162.2,316.4 162.4,316 162.6,317.2 162.8,316.2 163,317.3 163.2,317.3 163.4,316 163.6,316.3 163.8,316.2 164,316.8 164.2,316.5 164.4,317.2 164.6,316.9 164.8,316 165,315.9 165.2,317.5 165.4,317.5 165.6,316 165.8,316.4 166.1,316.1 166.3,317.4 166.5,316.9 166.7,317.3 166.9,316.1 167.1,317.1 167.3,316.5 167.5,315.8 167.7,317.3 167.9,316.8 168.1,316.4 168.3,316 168.5,317.1 168.7,317.3 168.9,317.9 169.1,316.2 169.3,318 169.5,318 169.7,316.9 169.9,317.1 170.1,316.7 170.3,317.6 170.6,316.6 170.8,318.1 171,317.8 171.2,316.9 171.4,318.2 171.6,317.7 171.8,316.8 172,316.9 172.2,317.8 172.4,318.1 172.6,317.7 172.8,316.9 173,317.7 173.2,318.2 173.4,317 173.6,317.3 173.8,316.5 174,316.5 174.2,316.6 174.4,317.6 174.6,316.9 174.8,318 175.1,317.9 175.3,317.8 175.5,316.6 175.7,316.7 175.9,318.2 176.1,317.9 176.3,317.9 176.5,318 176.7,317.9 176.9,317.9 177.1,318.4 177.3,317.6 177.5,317.1 177.7,317.7 177.9,317 178.1,317.6 178.3,318.5 178.5,317.2 178.7,317 178.9,318.3 179.1,318.9 179.3,317.8 179.6,317.8 179.8,317.7 180,316.9 180.2,317.6 180.4,317.3 180.6,318.9 180.8,317.9 181,317.3 181.2,318.9 181.4,318.9 181.6,317.5 181.8,317.2 182,318.9 182.2,317.8 182.4,318.8 182.6,317.5 182.8,317.8 183,318.7 183.2,318.7 183.4,317.5 183.6,318.1 183.8,317.6 184,318.4 184.3,318.5 184.5,317.2 184.7,317.8 184.9,318.2 185.1,318.1 185.3,317.7 185.5,317.8 185.7,317.3 185.9,318.5 186.1,317.6 186.3,317.9 186.5,317.5 186.7,317.6 186.9,317.6 187.1,317.5 187.3,317.3 187.5,318 187.7,318.3 187.9,317.9 188.1,317.7 188.3,318.6 188.5,318.6 188.8,319.2 189,317.9 189.2,317.4 189.4,318.7 189.6,319.2 189.8,319.1 190,318.6 190.2,318.9 190.4,317.5 190.6,319.5 190.8,318.9 191,319.4 191.2,318.2 191.4,317.9 191.6,319.3 191.8,319.5 192,318.7 192.2,318.4 192.4,317.7 192.6,319.6 192.8,319.5 193,319.3 193.3,319.2 193.5,319.2 193.7,318.2 193.9,318.4 194.1,319.3 194.3,319.4 194.5,319.1 194.7,319.4 194.9,318.1 195.1,319.1 195.3,318.6 195.5,318 195.7,318.8 195.9,319.3 196.1,317.9 196.3,317.8 196.5,319.1 196.7,318.7 196.9,317.8 197.1,318.8 197.3,319.4 197.5,319.8 197.8,317.8 198,318.1 198.2,319.1 198.4,318.8 198.6,318.8 198.8,319.3 199,317.8 199.2,318.5 199.4,319.4 199.6,319.9 199.8,318.9 200,319.2" fill="none" stroke="#0f6d84" stroke-width="3.0" stroke-linejoin="round" stroke-linecap="round" />
<polyline points="36.4,346.2 36.6,346 36.8,345.2 37,346.2 37.2,346.1 37.4,345.9 37.6,346.8 37.8,346.1 38,345.8 38.2,345.5 38.4,347 38.6,346.5 38.9,347 39.1,345.4 39.3,345.7 39.5,347.1 39.7,345 39.9,345.1 40.1,345.8 40.3,345.8 40.5,346.8 40.7,347.2 40.9,346 41.1,347.1 41.3,346.8 41.5,346.7 41.7,347.1 41.9,346.2 42.1,346.2 42.3,345.3 42.5,346.1 42.7,345.8 42.9,346.1 43.1,345.7 43.4,346.2 43.6,346.6 43.8,345 44,345 44.2,345.3 44.4,345.6 44.6,346.5 44.8,346.7 45,346.6 45.2,347 45.4,345.5 45.6,346.3 45.8,345.3 46,346.3 46.2,345.1 46.4,345.3 46.6,347.2 46.8,346.7 47,345.2 47.2,346.2 47.4,345 47.6,346.3 47.9,347 48.1,345.8 48.3,345.5 48.5,346.6 48.7,347 48.9,346.5 49.1,345.1 49.3,345.5 49.5,346.9 49.7,346.6 49.9,347 50.1,347.1 50.3,345.4 50.5,346.8 50.7,346 50.9,346.2 51.1,346.8 51.3,345.6 51.5,346.9 51.7,345.8 51.9,346.9 52.1,346.3 52.4,346.7 52.6,346.6 52.8,345.1 53,345.4 53.2,346.5 53.4,345.2 53.6,346.7 53.8,346.3 54,345.3 54.2,345.8 54.4,347 54.6,345 54.8,346.7 55,346.6 55.2,345.5 55.4,346.5 55.6,346.5 55.8,347 56,347 56.2,345.9 56.4,346.7 56.6,345.9 56.8,344.8 57.1,343 57.3,340.3 57.5,339.8 57.7,338 57.9,335.7 58.1,335.6 58.3,334.1 58.5,330.9 58.7,329.5 58.9,329.1 59.1,327.7 59.3,324.9 59.5,322.8 59.7,322.9 59.9,319.6 60.1,318.2 60.3,317.2 60.5,316 60.7,315.1 60.9,313.7 61.1,310.9 61.3,311.6 61.6,309.8 61.8,310 62,308 62.2,307.7 62.4,307.5 62.6,307 62.8,305 63,305.6 63.2,304.5 63.4,303 63.6,301.5 63.8,301.3 64,301.2 64.2,299 64.4,299.8 64.6,299.4 64.8,298 65,296.9 65.2,296.9 65.4,295.9 65.6,294.6 65.8,293.4 66.1,293.6 66.3,292.3 66.5,290.3 66.7,289.3 66.9,289.2 67.1,288.4 67.3,288.4 67.5,289.1 67.7,289.1 67.9,288.9 68.1,286.7 68.3,287 68.5,286.2 68.7,288 68.9,286.4 69.1,286.5 69.3,285.7 69.5,286.4 69.7,284.7 69.9,286.5 70.1,285.2 70.3,284.6 70.6,284 70.8,284.1 71,283.9 71.2,283.5 71.4,283 71.6,284 71.8,283.1 72,282.4 72.2,282.2 72.4,283 72.6,281.9 72.8,281.5 73,281.9 73.2,281.6 73.4,281.9 73.6,281.2 73.8,280.9 74,281.9 74.2,280.4 74.4,279.4 74.6,279.4 74.8,279.5 75.1,280 75.3,279 75.5,279.1 75.7,279.2 75.9,278.1 76.1,279.5 76.3,277.8 76.5,279.2 76.7,277.7 76.9,277.7 77.1,278.1 77.3,276.8 77.5,277 77.7,276.5 77.9,275.6 78.1,276.8 78.3,277.2 78.5,276.3 78.7,275.2 78.9,276 79.1,275.9 79.3,274 79.5,274.3 79.8,274.6 80,273.4 80.2,274.4 80.4,273.4 80.6,274.2 80.8,273.5 81,272.4 81.2,271.9 81.4,271.8 81.6,272.6 81.8,272 82,272.3 82.2,272.5 82.4,271.5 82.6,270.5 82.8,270.2 83,270.3 83.2,269.6 83.4,270.8 83.6,270.8 83.8,270 84,270.1 84.3,270 84.5,269.3 84.7,268.7 84.9,268.7 85.1,268.9 85.3,267.5 85.5,266.9 85.7,267.9 85.9,268.5 86.1,268.3 86.3,266.3 86.5,267.9 86.7,266.2 86.9,266.2 87.1,266.6 87.3,265.3 87.5,266.7 87.7,266.3 87.9,265.3 88.1,266 88.3,264.1 88.5,265.1 88.8,265.1 89,265.1 89.2,263.6 89.4,263.7 89.6,263.1 89.8,262.8 90,262.3 90.2,261.7 90.4,262.1 90.6,262.9 90.8,262.1 91,262.5 91.2,262.6 91.4,261.4 91.6,260.6 91.8,261.6 92,261.1 92.2,260.7 92.4,259.7 92.6,259.9 92.8,259.4 93,258.9 93.3,259.5 93.5,258.4 93.7,257.9 93.9,259.4 94.1,257.4 94.3,257.6 94.5,258.7 94.7,257.7 94.9,257.1 95.1,256.3 95.3,257.2 95.5,256.5 95.7,255.6 95.9,255.6 96.1,255 96.3,255.8 96.5,255.2 96.7,256 96.9,254.6 97.1,254.1 97.3,254.3 97.5,253.9 97.8,254.8 98,254.4 98.2,255.4 98.4,256.4 98.6,258.5 98.8,258.9 99,261 99.2,260.7 99.4,261.8 99.6,263.8 99.8,265.3 100,265.4 100.2,266.1 100.4,266.4 100.6,267.9 100.8,269.7 101,268.8 101.2,271.2 101.4,270.4 101.6,272.5 101.8,272.9 102,272.6 102.2,274.7 102.5,275.4 102.7,275.2 102.9,275.5 103.1,275.8 103.3,276.8 103.5,276.8 103.7,278.4 103.9,278 104.1,280.5 104.3,280.8 104.5,280.6 104.7,281.7 104.9,281.3 105.1,282 105.3,282.7 105.5,282.5 105.7,283.6 105.9,284.7 106.1,285 106.3,284.4 106.5,284.7 106.7,286.7 107,285.7 107.2,285.9 107.4,287.3 107.6,287.6 107.8,288.8 108,288.4 108.2,288.9 108.4,289.1 108.6,290.7 108.8,289 109,290.3 109.2,290.9 109.4,290.4 109.6,291.3 109.8,291.7 110,291.6 110.2,293.3 110.4,292.6 110.6,293.2 110.8,292.3 111,292.7 111.2,294.4 111.5,294.2 111.7,295.3 111.9,294.9 112.1,294.3 112.3,294.4 112.5,295.6 112.7,296.2 112.9,296.7 113.1,296 113.3,295.6 113.5,297.6 113.7,296.4 113.9,298.3 114.1,298.2 114.3,298.3 114.5,297.5 114.7,298.5 114.9,298.7 115.1,298.3 115.3,299.7 115.5,298.5 115.7,300 116,299.4 116.2,300.1 116.4,300.5 116.6,299.9 116.8,300.3 117,300.6 117.2,300.7 117.4,300.7 117.6,301.7 117.8,301.7 118,301 118.2,301.1 118.4,301.5 118.6,301 118.8,301.7 119,301.3 119.2,302.8 119.4,301.9 119.6,301.9 119.8,301.8 120,303.3 120.2,303.4 120.4,302.3 120.7,303.9 120.9,302.4 121.1,302.8 121.3,304.6 121.5,304.5 121.7,303.5 121.9,304.7 122.1,305.2 122.3,303.7 122.5,304.7 122.7,304.1 122.9,305.6 123.1,305.2 123.3,304.7 123.5,306.3 123.7,306 123.9,305 124.1,304.7 124.3,304.7 124.5,306.6 124.7,305.9 124.9,305.5 125.2,306.1 125.4,305.8 125.6,307 125.8,307.4 126,307.4 126.2,307.7 126.4,306.7 126.6,306.9 126.8,306.9 127,307.9 127.2,307.9 127.4,308 127.6,306.7 127.8,306.4 128,306.7 128.2,308.6 128.4,308.8 128.6,306.9 128.8,308.1 129,307.5 129.2,308.6 129.4,308.3 129.7,308.3 129.9,308.6 130.1,308.3 130.3,309.7 130.5,308.3 130.7,308 130.9,309.6 131.1,309.1 131.3,308.5 131.5,309.3 131.7,309.9 131.9,310 132.1,309.3 132.3,310.5 132.5,308.7 132.7,308.9 132.9,309.2 133.1,309 133.3,309.6 133.5,310.1 133.7,309.8 133.9,310.1 134.2,309.1 134.4,309.5 134.6,310.8 134.8,309.5 135,309.9 135.2,309.9 135.4,309.9 135.6,310.8 135.8,309.8 136,309.9 136.2,310.4 136.4,310.3 136.6,310.4 136.8,311.2 137,310.6 137.2,312.1 137.4,311.6 137.6,311.4 137.8,312.4 138,311.7 138.2,311.2 138.4,311.3 138.7,312.2 138.9,310.7 139.1,311.4 139.3,312.1 139.5,311.5 139.7,311.8 139.9,311.9 140.1,312.3 140.3,311 140.5,311.8 140.7,311.8 140.9,311.7 141.1,311.3 141.3,313.4 141.5,312.2 141.7,311.9 141.9,313.1 142.1,312.8 142.3,313.6 142.5,313.4 142.7,313 142.9,313.7 143.1,313.4 143.4,312 143.6,312.8 143.8,313 144,312 144.2,312.9 144.4,312.1 144.6,312.9 144.8,312.6 145,314.2 145.2,313.1 145.4,312.8 145.6,314.4 145.8,312.5 146,314.3 146.2,313.6 146.4,314.3 146.6,313.7 146.8,313.5 147,314.7 147.2,312.8 147.4,314 147.6,313.8 147.9,313.7 148.1,314.3 148.3,314.5 148.5,313.7 148.7,314 148.9,314.6 149.1,313.7 149.3,314.7 149.5,315.3 149.7,314.8 149.9,315.3 150.1,315.1 150.3,313.9 150.5,314.7 150.7,313.6 150.9,314 151.1,315.5 151.3,313.5 151.5,313.7 151.7,315.6 151.9,313.8 152.1,314.9 152.4,314.8 152.6,313.8 152.8,315.4 153,314.8 153.2,314 153.4,314.5 153.6,315.1 153.8,314 154,314.4 154.2,314.9 154.4,316 154.6,314.9 154.8,315.3 155,315.9 155.2,316.2 155.4,315.2 155.6,316.2 155.8,315.5 156,315 156.2,315.5 156.4,316 156.6,315.3 156.9,315.7 157.1,314.9 157.3,315.5 157.5,314.5 157.7,314.7 157.9,315.2 158.1,316.3 158.3,316.6 158.5,314.9 158.7,315.2 158.9,315.5 159.1,316.2 159.3,316.4 159.5,315.5 159.7,315.8 159.9,315.8 160.1,315.7 160.3,315.5 160.5,316.7 160.7,316.6 160.9,315 161.1,315.2 161.3,315.3 161.6,317.2 161.8,317.2 162,316.7 162.2,316.4 162.4,316 162.6,317.2 162.8,316.2 163,317.3 163.2,317.3 163.4,316 163.6,316.3 163.8,316.2 164,316.8 164.2,316.5 164.4,317.2 164.6,316.9 164.8,316 165,315.9 165.2,317.5 165.4,317.5 165.6,316 165.8,316.4 166.1,316.1 166.3,317.4 166.5,316.9 166.7,317.3 166.9,316.1 167.1,317.1 167.3,316.5 167.5,315.8 167.7,317.3 167.9,316.8 168.1,316.4 168.3,316 168.5,317.1 168.7,317.3 168.9,317.9 169.1,316.2 169.3,318 169.5,318 169.7,316.9 169.9,317.1 170.1,316.7 170.3,317.6 170.6,316.6 170.8,318.1 171,317.8 171.2,316.9 171.4,318.2 171.6,317.7 171.8,316.8 172,316.9 172.2,317.8 172.4,318.1 172.6,317.7 172.8,316.9 173,317.7 173.2,318.2 173.4,317 173.6,317.3 173.8,316.5 174,316.5 174.2,316.6 174.4,317.6 174.6,316.9 174.8,318 175.1,317.9 175.3,317.8 175.5,316.6 175.7,316.7 175.9,318.2 176.1,317.9 176.3,317.9 176.5,318 176.7,317.9 176.9,317.9 177.1,318.4 177.3,317.6 177.5,317.1 177.7,317.7 177.9,317 178.1,317.6 178.3,318.5 178.5,317.2 178.7,317 178.9,318.3 179.1,318.9 179.3,317.8 179.6,317.8 179.8,317.7 180,316.9 180.2,317.6 180.4,317.3 180.6,318.9 180.8,317.9 181,317.3 181.2,318.9 181.4,318.9 181.6,317.5 181.8,317.2 182,318.9 182.2,317.8 182.4,318.8 182.6,317.5 182.8,317.8 183,318.7 183.2,318.7 183.4,317.5 183.6,318.1 183.8,317.6 184,318.4 184.3,318.5 184.5,317.2 184.7,317.8 184.9,318.2 185.1,318.1 185.3,317.7 185.5,317.8 185.7,317.3 185.9,318.5 186.1,317.6 186.3,317.9 186.5,317.5 186.7,317.6 186.9,317.6 187.1,317.5 187.3,317.3 187.5,318 187.7,318.3 187.9,317.9 188.1,317.7 188.3,318.6 188.5,318.6 188.8,319.2 189,317.9 189.2,317.4 189.4,318.7 189.6,319.2 189.8,319.1 190,318.6 190.2,318.9 190.4,317.5 190.6,319.5 190.8,318.9 191,319.4 191.2,318.2 191.4,317.9 191.6,319.3 191.8,319.5 192,318.7 192.2,318.4 192.4,317.7 192.6,319.6 192.8,319.5 193,319.3 193.3,319.2 193.5,319.2 193.7,318.2 193.9,318.4 194.1,319.3 194.3,319.4 194.5,319.1 194.7,319.4 194.9,318.1 195.1,319.1 195.3,318.6 195.5,318 195.7,318.8 195.9,319.3 196.1,317.9 196.3,317.8 196.5,319.1 196.7,318.7 196.9,317.8 197.1,318.8 197.3,319.4 197.5,319.8 197.8,317.8 198,318.1 198.2,319.1 198.4,318.8 198.6,318.8 198.8,319.3 199,317.8 199.2,318.5 199.4,319.4 199.6,319.9 199.8,318.9 200,319.2" fill="none" stroke="#ffffff" stroke-width="0.6" stroke-linejoin="round" stroke-linecap="round" opacity="0.3"/>
<polyline points="36.4,346.1 36.6,345.7 36.8,345.7 37,346.9 37.2,347.2 37.4,346.4 37.6,346.6 37.8,345.4 38,345.7 38.2,345.9 38.4,346 38.6,345.7 38.9,346.9 39.1,346.2 39.3,346.8 39.5,345.2 39.7,347.1 39.9,345.4 40.1,347 40.3,345.7 40.5,346.4 40.7,346.3 40.9,345.3 41.1,347.1 41.3,347.1 41.5,345.2 41.7,346.1 41.9,347 42.1,345 42.3,345.1 42.5,346.9 42.7,346.3 42.9,346.9 43.1,346.5 43.4,345.8 43.6,346.8 43.8,345.7 44,347.1 44.2,346.8 44.4,345.4 44.6,346.3 44.8,346.3 45,345.9 45.2,346.1 45.4,346.3 45.6,347.1 45.8,345.6 46,345.1 46.2,345 46.4,345.7 46.6,346.4 46.8,346.4 47,345.7 47.2,345.7 47.4,346.9 47.6,346.7 47.9,346.4 48.1,346.1 48.3,345.4 48.5,346.1 48.7,347.1 48.9,345.4 49.1,346.2 49.3,346.1 49.5,346.7 49.7,346.3 49.9,346.3 50.1,345.5 50.3,347 50.5,346 50.7,346.8 50.9,345.7 51.1,347.1 51.3,346.6 51.5,346.4 51.7,345.8 51.9,347.1 52.1,346.2 52.4,346.7 52.6,346.6 52.8,346.1 53,345.1 53.2,346.1 53.4,345.1 53.6,346.8 53.8,345.2 54,346.4 54.2,346.8 54.4,345.5 54.6,345.2 54.8,347.2 55,346.6 55.2,345.5 55.4,346.4 55.6,346.7 55.8,347.2 56,347.1 56.2,345.8 56.4,345 56.6,345 56.8,346.1 57.1,344.8 57.3,341.9 57.5,338.7 57.7,336.4 57.9,334.8 58.1,333.7 58.3,331.1 58.5,329.3 58.7,327.1 58.9,326.2 59.1,322.9 59.3,321.4 59.5,321.4 59.7,319.5 59.9,316.7 60.1,316.5 60.3,313.6 60.5,313.1 60.7,311.4 60.9,310 61.1,309.8 61.3,308.4 61.6,307.3 61.8,305.2 62,304 62.2,304.2 62.4,301.4 62.6,301.4 62.8,300.8 63,299.4 63.2,297.3 63.4,297.3 63.6,296.2 63.8,294.7 64,293.8 64.2,293.4 64.4,293.4 64.6,292.2 64.8,290.8 65,290.3 65.2,290.1 65.4,289.9 65.6,289.2 65.8,287.8 66.1,287.5 66.3,288.1 66.5,286 66.7,285 66.9,284.7 67.1,283.9 67.3,284.9 67.5,286.6 67.7,287 67.9,288.8 68.1,290.3 68.3,290.6 68.5,291.5 68.7,290.9 68.9,292.3 69.1,293.4 69.3,293.9 69.5,295.8 69.7,295.6 69.9,296 70.1,297.3 70.3,298.3 70.6,298.6 70.8,299.5 71,299.3 71.2,301.1 71.4,301.8 71.6,301.9 71.8,301.7 72,302.1 72.2,302.9 72.4,302.8 72.6,304.6 72.8,305.9 73,305.4 73.2,306 73.4,307 73.6,306.5 73.8,307.6 74,308.3 74.2,308.6 74.4,307.7 74.6,310.2 74.8,309.8 75.1,310.4 75.3,311 75.5,310.9 75.7,311.7 75.9,310.6 76.1,311.9 76.3,311.8 76.5,313.3 76.7,313 76.9,313.1 77.1,312.9 77.3,314.5 77.5,314.4 77.7,313.9 77.9,314.2 78.1,315.9 78.3,315.5 78.5,315.3 78.7,316.4 78.9,316.1 79.1,316.4 79.3,316 79.5,317.2 79.8,317.2 80,318.2 80.2,317.6 80.4,318.7 80.6,318.6 80.8,319.2 81,319.5 81.2,320.1 81.4,320.2 81.6,319.7 81.8,320.6 82,321.3 82.2,319.8 82.4,321.2 82.6,320 82.8,320.9 83,321.6 83.2,320.7 83.4,320.9 83.6,322.3 83.8,323 84,322 84.3,321.8 84.5,322.5 84.7,322.3 84.9,323.3 85.1,323 85.3,324 85.5,323.8 85.7,324 85.9,324.2 86.1,324.3 86.3,323.6 86.5,325.2 86.7,325.3 86.9,325.3 87.1,323.9 87.3,325 87.5,326.2 87.7,324.6 87.9,324.7 88.1,325 88.3,326.1 88.5,325.5 88.8,326.5 89,327 89.2,325.6 89.4,325.8 89.6,327.3 89.8,326 90,328 90.2,327.5 90.4,328.2 90.6,328 90.8,328.2 91,327.1 91.2,328.1 91.4,328.5 91.6,328.6 91.8,328.4 92,327.4 92.2,328 92.4,329.3 92.6,328.1 92.8,328.5 93,328.8 93.3,328.8 93.5,328.6 93.7,328.4 93.9,329.1 94.1,329 94.3,329.4 94.5,329.2 94.7,329.8 94.9,329.8 95.1,329.7 95.3,329.4 95.5,330.4 95.7,329.1 95.9,330.2 96.1,329.5 96.3,329.9 96.5,329.4 96.7,330.1 96.9,330.8 97.1,330.9 97.3,330.6 97.5,330.3 97.8,330.2 98,331.9 98.2,332.1 98.4,332.1 98.6,332.2 98.8,332.4 99,332.6 99.2,332.1 99.4,332.5 99.6,331.3 99.8,331.6 100,330.9 100.2,331 100.4,331.5 100.6,331.1 100.8,333.2 101,332.9 101.2,331.4 101.4,332.5 101.6,333.1 101.8,332 102,332.8 102.2,332.6 102.5,333.2 102.7,333.4 102.9,333.8 103.1,332.8 103.3,332.1 103.5,332.1 103.7,332.6 103.9,332.3 104.1,333.7 104.3,333.9 104.5,332.6 104.7,333.3 104.9,333.2 105.1,334.7 105.3,334.3 105.5,333.8 105.7,333.4 105.9,333.2 106.1,333.4 106.3,334.4 106.5,334.4 106.7,333.4 107,333.2 107.2,334.3 107.4,335 107.6,334.1 107.8,334.4 108,334.8 108.2,335.2 108.4,334.9 108.6,334.5 108.8,335.6 109,334.7 109.2,333.9 109.4,334.4 109.6,335.5 109.8,335.2 110,336 110.2,334.6 110.4,334.9 110.6,336 110.8,335.2 111,335.1 111.2,335.2 111.5,335.7 111.7,335.9 111.9,335.9 112.1,334.5 112.3,336 112.5,335.7 112.7,335.8 112.9,336.5 113.1,336.1 113.3,336.5 113.5,336.3 113.7,336.3 113.9,336.4 114.1,335.1 114.3,336.6 114.5,336.5 114.7,335.9 114.9,336.5 115.1,336.3 115.3,336 115.5,337.3 115.7,336.1 116,337.4 116.2,337.1 116.4,335.9 116.6,335.5 116.8,336.3 117,337.4 117.2,336.9 117.4,337.3 117.6,336.1 117.8,337.5 118,337.6 118.2,336.6 118.4,336.7 118.6,336.8 118.8,337.1 119,336.1 119.2,337.2 119.4,336.2 119.6,337.5 119.8,337.3 120,337.6 120.2,336.9 120.4,336.8 120.7,338 120.9,337.4 121.1,337 121.3,337.5 121.5,337.2 121.7,337.3 121.9,337.2 122.1,338 122.3,338.1 122.5,338.8 122.7,336.9 122.9,337.2 123.1,338.1 123.3,336.8 123.5,337 123.7,338.7 123.9,337.2 124.1,338.2 124.3,338.4 124.5,338.6 124.7,338.3 124.9,339.1 125.2,339.1 125.4,339 125.6,338.7 125.8,339 126,339.1 126.2,337.6 126.4,338.6 126.6,338.4 126.8,338.2 127,337.5 127.2,339.2 127.4,339.1 127.6,337.7 127.8,337.7 128,337.6 128.2,338.6 128.4,338.9 128.6,339.4 128.8,337.8 129,338.2 129.2,338.6 129.4,338.2 129.7,339.3 129.9,338.8 130.1,338 130.3,339.8 130.5,338.7 130.7,339.6 130.9,338.2 131.1,338.3 131.3,338.7 131.5,339.2 131.7,340.1 131.9,339.1 132.1,339.4 132.3,339.4 132.5,340.1 132.7,338.3 132.9,339.2 133.1,339.1 133.3,338.5 133.5,338.4 133.7,339.2 133.9,339.3 134.2,338.6 134.4,339.7 134.6,338.5 134.8,340.5 135,338.8 135.2,339.4 135.4,339.2 135.6,338.5 135.8,340.2 136,339.8 136.2,338.9 136.4,339.1 136.6,339.6 136.8,339.1 137,339.3 137.2,338.9 137.4,339.4 137.6,340.1 137.8,340.2 138,340.7 138.2,340.6 138.4,340.8 138.7,338.8 138.9,340.7 139.1,339.7 139.3,340.7 139.5,338.9 139.7,339.9 139.9,340.7 140.1,339.3 140.3,339.2 140.5,339 140.7,340.7 140.9,340.3 141.1,339.7 141.3,340.6 141.5,340 141.7,339.7 141.9,339.6 142.1,339.5 142.3,339.7 142.5,340.7 142.7,339.7 142.9,340.4 143.1,341 143.4,341.3 143.6,340 143.8,340.6 144,341.2 144.2,340.4 144.4,340.6 144.6,340.8 144.8,340.3 145,340.3 145.2,340.4 145.4,339.4 145.6,339.6 145.8,340.9 146,339.7 146.2,340.9 146.4,339.6 146.6,341.5 146.8,341 147,339.6 147.2,340.2 147.4,340.2 147.6,341.3 147.9,341.5 148.1,339.7 148.3,341.6 148.5,341.4 148.7,340.9 148.9,340 149.1,340.3 149.3,339.7 149.5,340.2 149.7,340.9 149.9,339.9 150.1,341.2 150.3,341.8 150.5,339.8 150.7,340 150.9,340.5 151.1,340.9 151.3,341.5 151.5,341.5 151.7,341.9 151.9,341.8 152.1,341 152.4,340.1 152.6,340 152.8,341 153,340.6 153.2,341.1 153.4,340.4 153.6,340.6 153.8,340 154,340.3 154.2,340.7 154.4,340.9 154.6,341.8 154.8,341.2 155,341.2 155.2,341.9 155.4,341.8 155.6,341.3 155.8,341.9 156,340.9 156.2,341.6 156.4,340.1 156.6,340.8 156.9,341.2 157.1,341.4 157.3,341.5 157.5,341.9 157.7,340.3 157.9,340.4 158.1,341 158.3,341 158.5,342.1 158.7,341.2 158.9,342.1 159.1,341.7 159.3,341.2 159.5,342.1 159.7,342 159.9,340.9 160.1,341.4 160.3,340.6 160.5,342.2 160.7,342.3 160.9,340.5 161.1,341.2 161.3,341 161.6,341.3 161.8,342.2 162,340.4 162.2,341.5 162.4,340.6 162.6,342.3 162.8,342 163,341.4 163.2,342.1 163.4,340.8 163.6,342.1 163.8,342.5 164,342.3 164.2,342.1 164.4,340.6 164.6,340.8 164.8,341.2 165,341.8 165.2,342.6 165.4,340.9 165.6,342.5 165.8,342.3 166.1,341.8 166.3,340.9 166.5,342.4 166.7,342.6 166.9,340.8 167.1,342.8 167.3,341.2 167.5,342.5 167.7,342.2 167.9,342.4 168.1,341.9 168.3,340.8 168.5,341 168.7,341.7 168.9,342.7 169.1,342.5 169.3,342.2 169.5,341.2 169.7,340.9 169.9,342.8 170.1,342.2 170.3,340.8 170.6,342.6 170.8,342.8 171,342.4 171.2,341 171.4,342.4 171.6,341.4 171.8,342.7 172,341.5 172.2,342.6 172.4,341.7 172.6,341.4 172.8,341.1 173,342.1 173.2,340.9 173.4,342.1 173.6,340.9 173.8,341 174,340.9 174.2,342.8 174.4,342.5 174.6,341.5 174.8,341.1 175.1,342.5 175.3,341.4 175.5,342 175.7,343.1 175.9,342.9 176.1,343.1 176.3,342.6 176.5,341.1 176.7,341.6 176.9,341.2 177.1,341.1 177.3,342.3 177.5,341.6 177.7,341.7 177.9,341.6 178.1,343 178.3,341.2 178.5,342.8 178.7,342.2 178.9,341.7 179.1,341.6 179.3,341.4 179.6,342.5 179.8,342.6 180,341.6 180.2,343.1 180.4,341.3 180.6,342.5 180.8,342.4 181,342.6 181.2,341.7 181.4,342.9 181.6,343 181.8,343.1 182,343 182.2,341.9 182.4,341.1 182.6,343.3 182.8,342.3 183,342.5 183.2,342.6 183.4,342.5 183.6,343.1 183.8,342.4 184,342.7 184.3,343.2 184.5,343 184.7,341.3 184.9,341.8 185.1,341.2 185.3,341.6 185.5,341.7 185.7,342.8 185.9,343.1 186.1,341.2 186.3,341.9 186.5,341.8 186.7,343.1 186.9,341.6 187.1,342.2 187.3,343.2 187.5,342.9 187.7,341.3 187.9,342 188.1,343.2 188.3,343.2 188.5,341.8 188.8,342.6 189,342.4 189.2,343.1 189.4,343 189.6,342.3 189.8,342.5 190,343 190.2,343.1 190.4,342.5 190.6,343.2 190.8,343.3 191,342.4 191.2,343.3 191.4,341.8 191.6,341.8 191.8,341.9 192,341.4 192.2,343.1 192.4,342.6 192.6,342.6 192.8,343.3 193,341.6 193.3,343.4 193.5,341.3 193.7,342 193.9,341.3 194.1,343.4 194.3,341.5 194.5,341.4 194.7,341.8 194.9,342.2 195.1,342.1 195.3,342.5 195.5,341.7 195.7,342.3 195.9,342.3 196.1,342.6 196.3,342.2 196.5,342.3 196.7,341.5 196.9,341.9 197.1,342.8 197.3,342 197.5,343 197.8,342.5 198,342.4 198.2,342 198.4,343.4 198.6,343.2 198.8,343.2 199,342.2 199.2,343.2 199.4,342.4 199.6,341.7 199.8,342.7 200,343.1" fill="none" stroke="#16859f" stroke-width="3.0" stroke-linejoin="round" stroke-linecap="round" />
<polyline points="36.4,346.1 36.6,345.7 36.8,345.7 37,346.9 37.2,347.2 37.4,346.4 37.6,346.6 37.8,345.4 38,345.7 38.2,345.9 38.4,346 38.6,345.7 38.9,346.9 39.1,346.2 39.3,346.8 39.5,345.2 39.7,347.1 39.9,345.4 40.1,347 40.3,345.7 40.5,346.4 40.7,346.3 40.9,345.3 41.1,347.1 41.3,347.1 41.5,345.2 41.7,346.1 41.9,347 42.1,345 42.3,345.1 42.5,346.9 42.7,346.3 42.9,346.9 43.1,346.5 43.4,345.8 43.6,346.8 43.8,345.7 44,347.1 44.2,346.8 44.4,345.4 44.6,346.3 44.8,346.3 45,345.9 45.2,346.1 45.4,346.3 45.6,347.1 45.8,345.6 46,345.1 46.2,345 46.4,345.7 46.6,346.4 46.8,346.4 47,345.7 47.2,345.7 47.4,346.9 47.6,346.7 47.9,346.4 48.1,346.1 48.3,345.4 48.5,346.1 48.7,347.1 48.9,345.4 49.1,346.2 49.3,346.1 49.5,346.7 49.7,346.3 49.9,346.3 50.1,345.5 50.3,347 50.5,346 50.7,346.8 50.9,345.7 51.1,347.1 51.3,346.6 51.5,346.4 51.7,345.8 51.9,347.1 52.1,346.2 52.4,346.7 52.6,346.6 52.8,346.1 53,345.1 53.2,346.1 53.4,345.1 53.6,346.8 53.8,345.2 54,346.4 54.2,346.8 54.4,345.5 54.6,345.2 54.8,347.2 55,346.6 55.2,345.5 55.4,346.4 55.6,346.7 55.8,347.2 56,347.1 56.2,345.8 56.4,345 56.6,345 56.8,346.1 57.1,344.8 57.3,341.9 57.5,338.7 57.7,336.4 57.9,334.8 58.1,333.7 58.3,331.1 58.5,329.3 58.7,327.1 58.9,326.2 59.1,322.9 59.3,321.4 59.5,321.4 59.7,319.5 59.9,316.7 60.1,316.5 60.3,313.6 60.5,313.1 60.7,311.4 60.9,310 61.1,309.8 61.3,308.4 61.6,307.3 61.8,305.2 62,304 62.2,304.2 62.4,301.4 62.6,301.4 62.8,300.8 63,299.4 63.2,297.3 63.4,297.3 63.6,296.2 63.8,294.7 64,293.8 64.2,293.4 64.4,293.4 64.6,292.2 64.8,290.8 65,290.3 65.2,290.1 65.4,289.9 65.6,289.2 65.8,287.8 66.1,287.5 66.3,288.1 66.5,286 66.7,285 66.9,284.7 67.1,283.9 67.3,284.9 67.5,286.6 67.7,287 67.9,288.8 68.1,290.3 68.3,290.6 68.5,291.5 68.7,290.9 68.9,292.3 69.1,293.4 69.3,293.9 69.5,295.8 69.7,295.6 69.9,296 70.1,297.3 70.3,298.3 70.6,298.6 70.8,299.5 71,299.3 71.2,301.1 71.4,301.8 71.6,301.9 71.8,301.7 72,302.1 72.2,302.9 72.4,302.8 72.6,304.6 72.8,305.9 73,305.4 73.2,306 73.4,307 73.6,306.5 73.8,307.6 74,308.3 74.2,308.6 74.4,307.7 74.6,310.2 74.8,309.8 75.1,310.4 75.3,311 75.5,310.9 75.7,311.7 75.9,310.6 76.1,311.9 76.3,311.8 76.5,313.3 76.7,313 76.9,313.1 77.1,312.9 77.3,314.5 77.5,314.4 77.7,313.9 77.9,314.2 78.1,315.9 78.3,315.5 78.5,315.3 78.7,316.4 78.9,316.1 79.1,316.4 79.3,316 79.5,317.2 79.8,317.2 80,318.2 80.2,317.6 80.4,318.7 80.6,318.6 80.8,319.2 81,319.5 81.2,320.1 81.4,320.2 81.6,319.7 81.8,320.6 82,321.3 82.2,319.8 82.4,321.2 82.6,320 82.8,320.9 83,321.6 83.2,320.7 83.4,320.9 83.6,322.3 83.8,323 84,322 84.3,321.8 84.5,322.5 84.7,322.3 84.9,323.3 85.1,323 85.3,324 85.5,323.8 85.7,324 85.9,324.2 86.1,324.3 86.3,323.6 86.5,325.2 86.7,325.3 86.9,325.3 87.1,323.9 87.3,325 87.5,326.2 87.7,324.6 87.9,324.7 88.1,325 88.3,326.1 88.5,325.5 88.8,326.5 89,327 89.2,325.6 89.4,325.8 89.6,327.3 89.8,326 90,328 90.2,327.5 90.4,328.2 90.6,328 90.8,328.2 91,327.1 91.2,328.1 91.4,328.5 91.6,328.6 91.8,328.4 92,327.4 92.2,328 92.4,329.3 92.6,328.1 92.8,328.5 93,328.8 93.3,328.8 93.5,328.6 93.7,328.4 93.9,329.1 94.1,329 94.3,329.4 94.5,329.2 94.7,329.8 94.9,329.8 95.1,329.7 95.3,329.4 95.5,330.4 95.7,329.1 95.9,330.2 96.1,329.5 96.3,329.9 96.5,329.4 96.7,330.1 96.9,330.8 97.1,330.9 97.3,330.6 97.5,330.3 97.8,330.2 98,331.9 98.2,332.1 98.4,332.1 98.6,332.2 98.8,332.4 99,332.6 99.2,332.1 99.4,332.5 99.6,331.3 99.8,331.6 100,330.9 100.2,331 100.4,331.5 100.6,331.1 100.8,333.2 101,332.9 101.2,331.4 101.4,332.5 101.6,333.1 101.8,332 102,332.8 102.2,332.6 102.5,333.2 102.7,333.4 102.9,333.8 103.1,332.8 103.3,332.1 103.5,332.1 103.7,332.6 103.9,332.3 104.1,333.7 104.3,333.9 104.5,332.6 104.7,333.3 104.9,333.2 105.1,334.7 105.3,334.3 105.5,333.8 105.7,333.4 105.9,333.2 106.1,333.4 106.3,334.4 106.5,334.4 106.7,333.4 107,333.2 107.2,334.3 107.4,335 107.6,334.1 107.8,334.4 108,334.8 108.2,335.2 108.4,334.9 108.6,334.5 108.8,335.6 109,334.7 109.2,333.9 109.4,334.4 109.6,335.5 109.8,335.2 110,336 110.2,334.6 110.4,334.9 110.6,336 110.8,335.2 111,335.1 111.2,335.2 111.5,335.7 111.7,335.9 111.9,335.9 112.1,334.5 112.3,336 112.5,335.7 112.7,335.8 112.9,336.5 113.1,336.1 113.3,336.5 113.5,336.3 113.7,336.3 113.9,336.4 114.1,335.1 114.3,336.6 114.5,336.5 114.7,335.9 114.9,336.5 115.1,336.3 115.3,336 115.5,337.3 115.7,336.1 116,337.4 116.2,337.1 116.4,335.9 116.6,335.5 116.8,336.3 117,337.4 117.2,336.9 117.4,337.3 117.6,336.1 117.8,337.5 118,337.6 118.2,336.6 118.4,336.7 118.6,336.8 118.8,337.1 119,336.1 119.2,337.2 119.4,336.2 119.6,337.5 119.8,337.3 120,337.6 120.2,336.9 120.4,336.8 120.7,338 120.9,337.4 121.1,337 121.3,337.5 121.5,337.2 121.7,337.3 121.9,337.2 122.1,338 122.3,338.1 122.5,338.8 122.7,336.9 122.9,337.2 123.1,338.1 123.3,336.8 123.5,337 123.7,338.7 123.9,337.2 124.1,338.2 124.3,338.4 124.5,338.6 124.7,338.3 124.9,339.1 125.2,339.1 125.4,339 125.6,338.7 125.8,339 126,339.1 126.2,337.6 126.4,338.6 126.6,338.4 126.8,338.2 127,337.5 127.2,339.2 127.4,339.1 127.6,337.7 127.8,337.7 128,337.6 128.2,338.6 128.4,338.9 128.6,339.4 128.8,337.8 129,338.2 129.2,338.6 129.4,338.2 129.7,339.3 129.9,338.8 130.1,338 130.3,339.8 130.5,338.7 130.7,339.6 130.9,338.2 131.1,338.3 131.3,338.7 131.5,339.2 131.7,340.1 131.9,339.1 132.1,339.4 132.3,339.4 132.5,340.1 132.7,338.3 132.9,339.2 133.1,339.1 133.3,338.5 133.5,338.4 133.7,339.2 133.9,339.3 134.2,338.6 134.4,339.7 134.6,338.5 134.8,340.5 135,338.8 135.2,339.4 135.4,339.2 135.6,338.5 135.8,340.2 136,339.8 136.2,338.9 136.4,339.1 136.6,339.6 136.8,339.1 137,339.3 137.2,338.9 137.4,339.4 137.6,340.1 137.8,340.2 138,340.7 138.2,340.6 138.4,340.8 138.7,338.8 138.9,340.7 139.1,339.7 139.3,340.7 139.5,338.9 139.7,339.9 139.9,340.7 140.1,339.3 140.3,339.2 140.5,339 140.7,340.7 140.9,340.3 141.1,339.7 141.3,340.6 141.5,340 141.7,339.7 141.9,339.6 142.1,339.5 142.3,339.7 142.5,340.7 142.7,339.7 142.9,340.4 143.1,341 143.4,341.3 143.6,340 143.8,340.6 144,341.2 144.2,340.4 144.4,340.6 144.6,340.8 144.8,340.3 145,340.3 145.2,340.4 145.4,339.4 145.6,339.6 145.8,340.9 146,339.7 146.2,340.9 146.4,339.6 146.6,341.5 146.8,341 147,339.6 147.2,340.2 147.4,340.2 147.6,341.3 147.9,341.5 148.1,339.7 148.3,341.6 148.5,341.4 148.7,340.9 148.9,340 149.1,340.3 149.3,339.7 149.5,340.2 149.7,340.9 149.9,339.9 150.1,341.2 150.3,341.8 150.5,339.8 150.7,340 150.9,340.5 151.1,340.9 151.3,341.5 151.5,341.5 151.7,341.9 151.9,341.8 152.1,341 152.4,340.1 152.6,340 152.8,341 153,340.6 153.2,341.1 153.4,340.4 153.6,340.6 153.8,340 154,340.3 154.2,340.7 154.4,340.9 154.6,341.8 154.8,341.2 155,341.2 155.2,341.9 155.4,341.8 155.6,341.3 155.8,341.9 156,340.9 156.2,341.6 156.4,340.1 156.6,340.8 156.9,341.2 157.1,341.4 157.3,341.5 157.5,341.9 157.7,340.3 157.9,340.4 158.1,341 158.3,341 158.5,342.1 158.7,341.2 158.9,342.1 159.1,341.7 159.3,341.2 159.5,342.1 159.7,342 159.9,340.9 160.1,341.4 160.3,340.6 160.5,342.2 160.7,342.3 160.9,340.5 161.1,341.2 161.3,341 161.6,341.3 161.8,342.2 162,340.4 162.2,341.5 162.4,340.6 162.6,342.3 162.8,342 163,341.4 163.2,342.1 163.4,340.8 163.6,342.1 163.8,342.5 164,342.3 164.2,342.1 164.4,340.6 164.6,340.8 164.8,341.2 165,341.8 165.2,342.6 165.4,340.9 165.6,342.5 165.8,342.3 166.1,341.8 166.3,340.9 166.5,342.4 166.7,342.6 166.9,340.8 167.1,342.8 167.3,341.2 167.5,342.5 167.7,342.2 167.9,342.4 168.1,341.9 168.3,340.8 168.5,341 168.7,341.7 168.9,342.7 169.1,342.5 169.3,342.2 169.5,341.2 169.7,340.9 169.9,342.8 170.1,342.2 170.3,340.8 170.6,342.6 170.8,342.8 171,342.4 171.2,341 171.4,342.4 171.6,341.4 171.8,342.7 172,341.5 172.2,342.6 172.4,341.7 172.6,341.4 172.8,341.1 173,342.1 173.2,340.9 173.4,342.1 173.6,340.9 173.8,341 174,340.9 174.2,342.8 174.4,342.5 174.6,341.5 174.8,341.1 175.1,342.5 175.3,341.4 175.5,342 175.7,343.1 175.9,342.9 176.1,343.1 176.3,342.6 176.5,341.1 176.7,341.6 176.9,341.2 177.1,341.1 177.3,342.3 177.5,341.6 177.7,341.7 177.9,341.6 178.1,343 178.3,341.2 178.5,342.8 178.7,342.2 178.9,341.7 179.1,341.6 179.3,341.4 179.6,342.5 179.8,342.6 180,341.6 180.2,343.1 180.4,341.3 180.6,342.5 180.8,342.4 181,342.6 181.2,341.7 181.4,342.9 181.6,343 181.8,343.1 182,343 182.2,341.9 182.4,341.1 182.6,343.3 182.8,342.3 183,342.5 183.2,342.6 183.4,342.5 183.6,343.1 183.8,342.4 184,342.7 184.3,343.2 184.5,343 184.7,341.3 184.9,341.8 185.1,341.2 185.3,341.6 185.5,341.7 185.7,342.8 185.9,343.1 186.1,341.2 186.3,341.9 186.5,341.8 186.7,343.1 186.9,341.6 187.1,342.2 187.3,343.2 187.5,342.9 187.7,341.3 187.9,342 188.1,343.2 188.3,343.2 188.5,341.8 188.8,342.6 189,342.4 189.2,343.1 189.4,343 189.6,342.3 189.8,342.5 190,343 190.2,343.1 190.4,342.5 190.6,343.2 190.8,343.3 191,342.4 191.2,343.3 191.4,341.8 191.6,341.8 191.8,341.9 192,341.4 192.2,343.1 192.4,342.6 192.6,342.6 192.8,343.3 193,341.6 193.3,343.4 193.5,341.3 193.7,342 193.9,341.3 194.1,343.4 194.3,341.5 194.5,341.4 194.7,341.8 194.9,342.2 195.1,342.1 195.3,342.5 195.5,341.7 195.7,342.3 195.9,342.3 196.1,342.6 196.3,342.2 196.5,342.3 196.7,341.5 196.9,341.9 197.1,342.8 197.3,342 197.5,343 197.8,342.5 198,342.4 198.2,342 198.4,343.4 198.6,343.2 198.8,343.2 199,342.2 199.2,343.2 199.4,342.4 199.6,341.7 199.8,342.7 200,343.1" fill="none" stroke="#ffffff" stroke-width="0.6" stroke-linejoin="round" stroke-linecap="round" opacity="0.3"/>
<polyline points="36.4,346.6 36.6,345.7 36.8,345.7 37,345.3 37.2,346.8 37.4,346.7 37.6,346.9 37.8,346.7 38,345.6 38.2,346.9 38.4,346 38.6,346.7 38.9,346.5 39.1,346.2 39.3,345.4 39.5,345.9 39.7,347.2 39.9,346.6 40.1,346.9 40.3,345.3 40.5,345.4 40.7,345.4 40.9,345.4 41.1,345.6 41.3,345.1 41.5,345.4 41.7,346.6 41.9,345.3 42.1,346.1 42.3,345.5 42.5,346 42.7,346.2 42.9,346.4 43.1,346.2 43.4,346.5 43.6,346.9 43.8,345.4 44,345.4 44.2,345 44.4,345.7 44.6,346 44.8,345.5 45,346.9 45.2,345.7 45.4,346.2 45.6,346.8 45.8,346.7 46,346 46.2,346.6 46.4,346.2 46.6,345.9 46.8,346.3 47,346.9 47.2,346.1 47.4,346.7 47.6,346.7 47.9,346.8 48.1,346.4 48.3,347 48.5,345.8 48.7,345.1 48.9,346.3 49.1,345.6 49.3,345.1 49.5,347.1 49.7,346.9 49.9,345.4 50.1,345.4 50.3,345.8 50.5,346.8 50.7,346.3 50.9,345.3 51.1,345.2 51.3,345.4 51.5,346.7 51.7,345.3 51.9,346.4 52.1,345.6 52.4,346.9 52.6,345.1 52.8,345.9 53,345.6 53.2,346.7 53.4,345.8 53.6,345.9 53.8,345.9 54,346.4 54.2,345.6 54.4,346.4 54.6,346.5 54.8,346.8 55,345.7 55.2,346.9 55.4,346.7 55.6,347 55.8,345.8 56,346 56.2,346 56.4,347.1 56.6,346.2 56.8,346.4 57.1,345 57.3,343.2 57.5,339 57.7,338.9 57.9,336.5 58.1,334.5 58.3,331.8 58.5,330.9 58.7,328 58.9,326.3 59.1,323.2 59.3,323 59.5,320.3 59.7,317.9 59.9,314.9 60.1,313.9 60.3,311.9 60.5,309.5 60.7,314.5 60.9,318.2 61.1,319.4 61.3,320.2 61.6,321.8 61.8,323.8 62,323.6 62.2,323.8 62.4,325.5 62.6,325.2 62.8,326 63,326.6 63.2,326.7 63.4,327.1 63.6,327 63.8,327.9 64,327.3 64.2,328.1 64.4,326.8 64.6,327.4 64.8,328.8 65,327.3 65.2,328.7 65.4,328.3 65.6,328.3 65.8,328.9 66.1,329.2 66.3,329 66.5,329.8 66.7,328.3 66.9,330.1 67.1,328.7 67.3,330.2 67.5,330.1 67.7,330.1 67.9,331 68.1,330.9 68.3,330.6 68.5,330.5 68.7,329.7 68.9,329.6 69.1,331.8 69.3,330.8 69.5,331.9 69.7,330.5 69.9,331.7 70.1,330.6 70.3,331.4 70.6,332.5 70.8,332.9 71,332.4 71.2,331.2 71.4,332.9 71.6,332.3 71.8,332.6 72,332.8 72.2,331.9 72.4,333.3 72.6,332.3 72.8,332.5 73,332.1 73.2,333.1 73.4,332.3 73.6,333.5 73.8,333.3 74,333.3 74.2,332.9 74.4,332.9 74.6,334.7 74.8,334.7 75.1,333.9 75.3,333.4 75.5,334.1 75.7,334.7 75.9,333.4 76.1,334.9 76.3,335.5 76.5,335.6 76.7,335.8 76.9,334.3 77.1,335.8 77.3,334.5 77.5,334.3 77.7,334.1 77.9,334.6 78.1,335.5 78.3,335.2 78.5,334.8 78.7,335.1 78.9,336.1 79.1,335.2 79.3,336.7 79.5,336.3 79.8,334.9 80,336.1 80.2,336.6 80.4,335.6 80.6,336.4 80.8,337.4 81,337.5 81.2,337 81.4,336.9 81.6,335.7 81.8,337.3 82,336 82.2,336.1 82.4,337.1 82.6,335.9 82.8,336.5 83,337.1 83.2,337.7 83.4,337.3 83.6,336.4 83.8,337.3 84,338.1 84.3,337.7 84.5,337.6 84.7,338.3 84.9,337.5 85.1,338.7 85.3,337.1 85.5,338.5 85.7,338.7 85.9,337.7 86.1,338.4 86.3,337.2 86.5,338.1 86.7,338.1 86.9,337.5 87.1,338.9 87.3,337.8 87.5,338 87.7,338.6 87.9,337.5 88.1,339.6 88.3,337.8 88.5,339.4 88.8,337.9 89,339.5 89.2,339.7 89.4,338.8 89.6,337.9 89.8,339.4 90,339 90.2,338.7 90.4,339.6 90.6,339 90.8,340.2 91,339.3 91.2,338.6 91.4,339.6 91.6,339.9 91.8,340.3 92,338.9 92.2,339.6 92.4,338.5 92.6,339 92.8,340.4 93,338.7 93.3,338.7 93.5,338.9 93.7,338.9 93.9,339.3 94.1,339.3 94.3,339.4 94.5,339.6 94.7,340.4 94.9,340.7 95.1,339.4 95.3,339.7 95.5,341 95.7,339.7 95.9,339.8 96.1,340.1 96.3,339.5 96.5,339.3 96.7,340.5 96.9,339.5 97.1,340.3 97.3,340.1 97.5,340.5 97.8,339.4 98,340.5 98.2,339.4 98.4,340.8 98.6,340.1 98.8,339.6 99,340.1 99.2,340.8 99.4,341.5 99.6,340.7 99.8,340.8 100,340 100.2,340.1 100.4,339.7 100.6,340.9 100.8,341 101,340.7 101.2,340.3 101.4,341.8 101.6,341.5 101.8,341.7 102,341.3 102.2,341.4 102.5,339.9 102.7,341.6 102.9,340.1 103.1,341.5 103.3,341.7 103.5,340.1 103.7,342 103.9,342 104.1,342 104.3,342.1 104.5,341.5 104.7,341.9 104.9,342 105.1,342.3 105.3,340.9 105.5,342.3 105.7,341.9 105.9,341.2 106.1,340.5 106.3,341 106.5,341 106.7,341 107,340.8 107.2,340.7 107.4,342.2 107.6,342.5 107.8,341.3 108,341.5 108.2,341.5 108.4,341 108.6,342.3 108.8,341.2 109,341.8 109.2,341.8 109.4,342.2 109.6,342.2 109.8,341.5 110,341.6 110.2,340.8 110.4,342.2 110.6,341.3 110.8,342.7 111,341.5 111.2,342.6 111.5,341 111.7,340.8 111.9,342.4 112.1,341.2 112.3,342.5 112.5,342.3 112.7,342.8 112.9,342.1 113.1,342.8 113.3,341.5 113.5,341.8 113.7,342.2 113.9,341.5 114.1,342.6 114.3,342.4 114.5,342.3 114.7,343.1 114.9,341.2 115.1,343 115.3,343 115.5,341.4 115.7,341.4 116,342.2 116.2,342.3 116.4,342.9 116.6,343.3 116.8,342.1 117,342.7 117.2,343 117.4,341.3 117.6,343.3 117.8,342.5 118,341.7 118.2,341.7 118.4,343.1 118.6,341.7 118.8,342.1 119,342 119.2,341.3 119.4,341.7 119.6,342.1 119.8,341.7 120,342.4 120.2,342.2 120.4,341.7 120.7,342.1 120.9,342.7 121.1,343.4 121.3,341.8 121.5,342.8 121.7,342.6 121.9,342.9 122.1,342.3 122.3,342.7 122.5,341.7 122.7,342.3 122.9,342.3 123.1,341.9 123.3,342.6 123.5,342.4 123.7,342 123.9,342 124.1,342 124.3,341.7 124.5,342.4 124.7,342.4 124.9,343.2 125.2,343.1 125.4,342.7 125.6,342.6 125.8,341.7 126,343.6 126.2,342.9 126.4,342.1 126.6,342.7 126.8,341.9 127,343.4 127.2,342 127.4,342.8 127.6,342.5 127.8,343.6 128,342.9 128.2,342 128.4,342.2 128.6,342.5 128.8,342.9 129,343.7 129.2,342.3 129.4,342.8 129.7,342.2 129.9,342.5 130.1,342.9 130.3,341.9 130.5,343.5 130.7,341.7 130.9,343.7 131.1,341.7 131.3,342.6 131.5,342.9 131.7,341.8 131.9,342.8 132.1,342.8 132.3,343.8 132.5,342.1 132.7,342.5 132.9,343.4 133.1,343.7 133.3,343 133.5,341.9 133.7,342 133.9,342.9 134.2,343.9 134.4,342.1 134.6,343.5 134.8,342.3 135,342.9 135.2,341.8 135.4,343.6 135.6,342.2 135.8,342.4 136,343.9 136.2,342.7 136.4,343.3 136.6,342.5 136.8,341.9 137,342.5 137.2,342.9 137.4,342.7 137.6,343.5 137.8,343 138,343.8 138.2,342.4 138.4,343.9 138.7,342.9 138.9,343.6 139.1,342.8 139.3,343.9 139.5,344 139.7,342.7 139.9,342.5 140.1,342.1 140.3,342.6 140.5,341.9 140.7,343.7 140.9,342.7 141.1,342.7 141.3,343.7 141.5,343.8 141.7,343.6 141.9,342.9 142.1,342.4 142.3,342.5 142.5,342.8 142.7,343.9 142.9,342.5 143.1,343 143.4,343.7 143.6,342.8 143.8,343.6 144,343.4 144.2,343.1 144.4,342.5 144.6,343.9 144.8,343.2 145,343.6 145.2,342.7 145.4,342.3 145.6,343.6 145.8,342.6 146,343.1 146.2,343.7 146.4,343.5 146.6,343 146.8,342.4 147,342.8 147.2,344.2 147.4,342.4 147.6,342.9 147.9,343.2 148.1,343.6 148.3,343.2 148.5,342.7 148.7,343.6 148.9,343.9 149.1,342.3 149.3,343.2 149.5,344 149.7,342.2 149.9,343.9 150.1,343.4 150.3,342.8 150.5,342.7 150.7,342.2 150.9,343.8 151.1,343 151.3,342.3 151.5,343.2 151.7,342.6 151.9,343.2 152.1,342.6 152.4,342.1 152.6,343.5 152.8,342.6 153,343.5 153.2,342.3 153.4,342.5 153.6,342.3 153.8,342.3 154,342.9 154.2,342.1 154.4,343.9 154.6,343 154.8,344.1 155,343 155.2,342.7 155.4,343.6 155.6,342.5 155.8,343.3 156,343.8 156.2,343.8 156.4,343 156.6,343.4 156.9,344.1 157.1,343.6 157.3,342.1 157.5,343.2 157.7,342.8 157.9,343.3 158.1,344.1 158.3,342.9 158.5,343.8 158.7,344 158.9,342.9 159.1,342.8 159.3,344.2 159.5,342.2 159.7,344.2 159.9,343.9 160.1,343.6 160.3,342.5 160.5,342.7 160.7,342.7 160.9,343.3 161.1,342.3 161.3,344 161.6,342.2 161.8,344.2 162,343.9 162.2,342.6 162.4,342.6 162.6,342.8 162.8,343.7 163,342.4 163.2,343.2 163.4,343.8 163.6,344.1 163.8,342.1 164,344.2 164.2,343.8 164.4,343.5 164.6,342.3 164.8,342.5 165,342.5 165.2,342.9 165.4,344.3 165.6,342.7 165.8,343.9 166.1,342.2 166.3,342.2 166.5,344.2 166.7,342.7 166.9,343.8 167.1,344.1 167.3,342.4 167.5,343.3 167.7,343.7 167.9,343.1 168.1,344.2 168.3,343.4 168.5,342.9 168.7,342.4 168.9,344.1 169.1,342.4 169.3,344.1 169.5,343.9 169.7,343.6 169.9,344 170.1,344.1 170.3,342.9 170.6,343.5 170.8,343.9 171,343.2 171.2,344.1 171.4,342.8 171.6,342.2 171.8,343.3 172,343.4 172.2,343.5 172.4,343.5 172.6,343.4 172.8,343.9 173,343.7 173.2,342.8 173.4,343.3 173.6,344.2 173.8,344 174,342.5 174.2,343.6 174.4,342.5 174.6,343 174.8,343 175.1,343.6 175.3,343.1 175.5,343.4 175.7,343.2 175.9,342.3 176.1,344.1 176.3,343.9 176.5,342.4 176.7,342.3 176.9,342.6 177.1,342.5 177.3,344.1 177.5,342.8 177.7,344.1 177.9,342.5 178.1,343.5 178.3,343.3 178.5,343.2 178.7,343.9 178.9,343.1 179.1,342.5 179.3,343.4 179.6,343.4 179.8,343.6 180,343.9 180.2,343.7 180.4,342.5 180.6,342.2 180.8,343.5 181,343.7 181.2,343.6 181.4,342.5 181.6,343.8 181.8,344 182,343.7 182.2,344.2 182.4,344 182.6,343.9 182.8,342.9 183,342.3 183.2,343.8 183.4,343.7 183.6,343.1 183.8,344.3 184,344.2 184.3,343.1 184.5,343.3 184.7,343.6 184.9,343.5 185.1,344.3 185.3,343.8 185.5,344 185.7,343.8 185.9,344.2 186.1,342.6 186.3,344.3 186.5,343.5 186.7,344 186.9,343.9 187.1,342.7 187.3,342.3 187.5,342.3 187.7,343.6 187.9,343.2 188.1,343.4 188.3,344.2 188.5,343.4 188.8,343 189,343.5 189.2,342.7 189.4,343.4 189.6,343.7 189.8,342.4 190,343.1 190.2,343.8 190.4,342.4 190.6,343.3 190.8,343.1 191,343.3 191.2,342.5 191.4,342.8 191.6,343.4 191.8,343.6 192,342.7 192.2,342.5 192.4,343.1 192.6,342.5 192.8,343.2 193,343.5 193.3,343.7 193.5,343.8 193.7,344 193.9,342.4 194.1,343.2 194.3,344.2 194.5,343.9 194.7,343.4 194.9,342.6 195.1,342.5 195.3,342.7 195.5,343.7 195.7,343.4 195.9,342.3 196.1,343.5 196.3,343 196.5,344.3 196.7,343.3 196.9,343.3 197.1,342.4 197.3,342.3 197.5,342.7 197.8,343.7 198,342.5 198.2,342.4 198.4,344.2 198.6,343.5 198.8,343.2 199,343.7 199.2,343.9 199.4,342.7 199.6,343.9 199.8,343.2 200,344.3" fill="none" stroke="#1ba8cd" stroke-width="3.0" stroke-linejoin="round" stroke-linecap="round" />
<polyline points="36.4,346.6 36.6,345.7 36.8,345.7 37,345.3 37.2,346.8 37.4,346.7 37.6,346.9 37.8,346.7 38,345.6 38.2,346.9 38.4,346 38.6,346.7 38.9,346.5 39.1,346.2 39.3,345.4 39.5,345.9 39.7,347.2 39.9,346.6 40.1,346.9 40.3,345.3 40.5,345.4 40.7,345.4 40.9,345.4 41.1,345.6 41.3,345.1 41.5,345.4 41.7,346.6 41.9,345.3 42.1,346.1 42.3,345.5 42.5,346 42.7,346.2 42.9,346.4 43.1,346.2 43.4,346.5 43.6,346.9 43.8,345.4 44,345.4 44.2,345 44.4,345.7 44.6,346 44.8,345.5 45,346.9 45.2,345.7 45.4,346.2 45.6,346.8 45.8,346.7 46,346 46.2,346.6 46.4,346.2 46.6,345.9 46.8,346.3 47,346.9 47.2,346.1 47.4,346.7 47.6,346.7 47.9,346.8 48.1,346.4 48.3,347 48.5,345.8 48.7,345.1 48.9,346.3 49.1,345.6 49.3,345.1 49.5,347.1 49.7,346.9 49.9,345.4 50.1,345.4 50.3,345.8 50.5,346.8 50.7,346.3 50.9,345.3 51.1,345.2 51.3,345.4 51.5,346.7 51.7,345.3 51.9,346.4 52.1,345.6 52.4,346.9 52.6,345.1 52.8,345.9 53,345.6 53.2,346.7 53.4,345.8 53.6,345.9 53.8,345.9 54,346.4 54.2,345.6 54.4,346.4 54.6,346.5 54.8,346.8 55,345.7 55.2,346.9 55.4,346.7 55.6,347 55.8,345.8 56,346 56.2,346 56.4,347.1 56.6,346.2 56.8,346.4 57.1,345 57.3,343.2 57.5,339 57.7,338.9 57.9,336.5 58.1,334.5 58.3,331.8 58.5,330.9 58.7,328 58.9,326.3 59.1,323.2 59.3,323 59.5,320.3 59.7,317.9 59.9,314.9 60.1,313.9 60.3,311.9 60.5,309.5 60.7,314.5 60.9,318.2 61.1,319.4 61.3,320.2 61.6,321.8 61.8,323.8 62,323.6 62.2,323.8 62.4,325.5 62.6,325.2 62.8,326 63,326.6 63.2,326.7 63.4,327.1 63.6,327 63.8,327.9 64,327.3 64.2,328.1 64.4,326.8 64.6,327.4 64.8,328.8 65,327.3 65.2,328.7 65.4,328.3 65.6,328.3 65.8,328.9 66.1,329.2 66.3,329 66.5,329.8 66.7,328.3 66.9,330.1 67.1,328.7 67.3,330.2 67.5,330.1 67.7,330.1 67.9,331 68.1,330.9 68.3,330.6 68.5,330.5 68.7,329.7 68.9,329.6 69.1,331.8 69.3,330.8 69.5,331.9 69.7,330.5 69.9,331.7 70.1,330.6 70.3,331.4 70.6,332.5 70.8,332.9 71,332.4 71.2,331.2 71.4,332.9 71.6,332.3 71.8,332.6 72,332.8 72.2,331.9 72.4,333.3 72.6,332.3 72.8,332.5 73,332.1 73.2,333.1 73.4,332.3 73.6,333.5 73.8,333.3 74,333.3 74.2,332.9 74.4,332.9 74.6,334.7 74.8,334.7 75.1,333.9 75.3,333.4 75.5,334.1 75.7,334.7 75.9,333.4 76.1,334.9 76.3,335.5 76.5,335.6 76.7,335.8 76.9,334.3 77.1,335.8 77.3,334.5 77.5,334.3 77.7,334.1 77.9,334.6 78.1,335.5 78.3,335.2 78.5,334.8 78.7,335.1 78.9,336.1 79.1,335.2 79.3,336.7 79.5,336.3 79.8,334.9 80,336.1 80.2,336.6 80.4,335.6 80.6,336.4 80.8,337.4 81,337.5 81.2,337 81.4,336.9 81.6,335.7 81.8,337.3 82,336 82.2,336.1 82.4,337.1 82.6,335.9 82.8,336.5 83,337.1 83.2,337.7 83.4,337.3 83.6,336.4 83.8,337.3 84,338.1 84.3,337.7 84.5,337.6 84.7,338.3 84.9,337.5 85.1,338.7 85.3,337.1 85.5,338.5 85.7,338.7 85.9,337.7 86.1,338.4 86.3,337.2 86.5,338.1 86.7,338.1 86.9,337.5 87.1,338.9 87.3,337.8 87.5,338 87.7,338.6 87.9,337.5 88.1,339.6 88.3,337.8 88.5,339.4 88.8,337.9 89,339.5 89.2,339.7 89.4,338.8 89.6,337.9 89.8,339.4 90,339 90.2,338.7 90.4,339.6 90.6,339 90.8,340.2 91,339.3 91.2,338.6 91.4,339.6 91.6,339.9 91.8,340.3 92,338.9 92.2,339.6 92.4,338.5 92.6,339 92.8,340.4 93,338.7 93.3,338.7 93.5,338.9 93.7,338.9 93.9,339.3 94.1,339.3 94.3,339.4 94.5,339.6 94.7,340.4 94.9,340.7 95.1,339.4 95.3,339.7 95.5,341 95.7,339.7 95.9,339.8 96.1,340.1 96.3,339.5 96.5,339.3 96.7,340.5 96.9,339.5 97.1,340.3 97.3,340.1 97.5,340.5 97.8,339.4 98,340.5 98.2,339.4 98.4,340.8 98.6,340.1 98.8,339.6 99,340.1 99.2,340.8 99.4,341.5 99.6,340.7 99.8,340.8 100,340 100.2,340.1 100.4,339.7 100.6,340.9 100.8,341 101,340.7 101.2,340.3 101.4,341.8 101.6,341.5 101.8,341.7 102,341.3 102.2,341.4 102.5,339.9 102.7,341.6 102.9,340.1 103.1,341.5 103.3,341.7 103.5,340.1 103.7,342 103.9,342 104.1,342 104.3,342.1 104.5,341.5 104.7,341.9 104.9,342 105.1,342.3 105.3,340.9 105.5,342.3 105.7,341.9 105.9,341.2 106.1,340.5 106.3,341 106.5,341 106.7,341 107,340.8 107.2,340.7 107.4,342.2 107.6,342.5 107.8,341.3 108,341.5 108.2,341.5 108.4,341 108.6,342.3 108.8,341.2 109,341.8 109.2,341.8 109.4,342.2 109.6,342.2 109.8,341.5 110,341.6 110.2,340.8 110.4,342.2 110.6,341.3 110.8,342.7 111,341.5 111.2,342.6 111.5,341 111.7,340.8 111.9,342.4 112.1,341.2 112.3,342.5 112.5,342.3 112.7,342.8 112.9,342.1 113.1,342.8 113.3,341.5 113.5,341.8 113.7,342.2 113.9,341.5 114.1,342.6 114.3,342.4 114.5,342.3 114.7,343.1 114.9,341.2 115.1,343 115.3,343 115.5,341.4 115.7,341.4 116,342.2 116.2,342.3 116.4,342.9 116.6,343.3 116.8,342.1 117,342.7 117.2,343 117.4,341.3 117.6,343.3 117.8,342.5 118,341.7 118.2,341.7 118.4,343.1 118.6,341.7 118.8,342.1 119,342 119.2,341.3 119.4,341.7 119.6,342.1 119.8,341.7 120,342.4 120.2,342.2 120.4,341.7 120.7,342.1 120.9,342.7 121.1,343.4 121.3,341.8 121.5,342.8 121.7,342.6 121.9,342.9 122.1,342.3 122.3,342.7 122.5,341.7 122.7,342.3 122.9,342.3 123.1,341.9 123.3,342.6 123.5,342.4 123.7,342 123.9,342 124.1,342 124.3,341.7 124.5,342.4 124.7,342.4 124.9,343.2 125.2,343.1 125.4,342.7 125.6,342.6 125.8,341.7 126,343.6 126.2,342.9 126.4,342.1 126.6,342.7 126.8,341.9 127,343.4 127.2,342 127.4,342.8 127.6,342.5 127.8,343.6 128,342.9 128.2,342 128.4,342.2 128.6,342.5 128.8,342.9 129,343.7 129.2,342.3 129.4,342.8 129.7,342.2 129.9,342.5 130.1,342.9 130.3,341.9 130.5,343.5 130.7,341.7 130.9,343.7 131.1,341.7 131.3,342.6 131.5,342.9 131.7,341.8 131.9,342.8 132.1,342.8 132.3,343.8 132.5,342.1 132.7,342.5 132.9,343.4 133.1,343.7 133.3,343 133.5,341.9 133.7,342 133.9,342.9 134.2,343.9 134.4,342.1 134.6,343.5 134.8,342.3 135,342.9 135.2,341.8 135.4,343.6 135.6,342.2 135.8,342.4 136,343.9 136.2,342.7 136.4,343.3 136.6,342.5 136.8,341.9 137,342.5 137.2,342.9 137.4,342.7 137.6,343.5 137.8,343 138,343.8 138.2,342.4 138.4,343.9 138.7,342.9 138.9,343.6 139.1,342.8 139.3,343.9 139.5,344 139.7,342.7 139.9,342.5 140.1,342.1 140.3,342.6 140.5,341.9 140.7,343.7 140.9,342.7 141.1,342.7 141.3,343.7 141.5,343.8 141.7,343.6 141.9,342.9 142.1,342.4 142.3,342.5 142.5,342.8 142.7,343.9 142.9,342.5 143.1,343 143.4,343.7 143.6,342.8 143.8,343.6 144,343.4 144.2,343.1 144.4,342.5 144.6,343.9 144.8,343.2 145,343.6 145.2,342.7 145.4,342.3 145.6,343.6 145.8,342.6 146,343.1 146.2,343.7 146.4,343.5 146.6,343 146.8,342.4 147,342.8 147.2,344.2 147.4,342.4 147.6,342.9 147.9,343.2 148.1,343.6 148.3,343.2 148.5,342.7 148.7,343.6 148.9,343.9 149.1,342.3 149.3,343.2 149.5,344 149.7,342.2 149.9,343.9 150.1,343.4 150.3,342.8 150.5,342.7 150.7,342.2 150.9,343.8 151.1,343 151.3,342.3 151.5,343.2 151.7,342.6 151.9,343.2 152.1,342.6 152.4,342.1 152.6,343.5 152.8,342.6 153,343.5 153.2,342.3 153.4,342.5 153.6,342.3 153.8,342.3 154,342.9 154.2,342.1 154.4,343.9 154.6,343 154.8,344.1 155,343 155.2,342.7 155.4,343.6 155.6,342.5 155.8,343.3 156,343.8 156.2,343.8 156.4,343 156.6,343.4 156.9,344.1 157.1,343.6 157.3,342.1 157.5,343.2 157.7,342.8 157.9,343.3 158.1,344.1 158.3,342.9 158.5,343.8 158.7,344 158.9,342.9 159.1,342.8 159.3,344.2 159.5,342.2 159.7,344.2 159.9,343.9 160.1,343.6 160.3,342.5 160.5,342.7 160.7,342.7 160.9,343.3 161.1,342.3 161.3,344 161.6,342.2 161.8,344.2 162,343.9 162.2,342.6 162.4,342.6 162.6,342.8 162.8,343.7 163,342.4 163.2,343.2 163.4,343.8 163.6,344.1 163.8,342.1 164,344.2 164.2,343.8 164.4,343.5 164.6,342.3 164.8,342.5 165,342.5 165.2,342.9 165.4,344.3 165.6,342.7 165.8,343.9 166.1,342.2 166.3,342.2 166.5,344.2 166.7,342.7 166.9,343.8 167.1,344.1 167.3,342.4 167.5,343.3 167.7,343.7 167.9,343.1 168.1,344.2 168.3,343.4 168.5,342.9 168.7,342.4 168.9,344.1 169.1,342.4 169.3,344.1 169.5,343.9 169.7,343.6 169.9,344 170.1,344.1 170.3,342.9 170.6,343.5 170.8,343.9 171,343.2 171.2,344.1 171.4,342.8 171.6,342.2 171.8,343.3 172,343.4 172.2,343.5 172.4,343.5 172.6,343.4 172.8,343.9 173,343.7 173.2,342.8 173.4,343.3 173.6,344.2 173.8,344 174,342.5 174.2,343.6 174.4,342.5 174.6,343 174.8,343 175.1,343.6 175.3,343.1 175.5,343.4 175.7,343.2 175.9,342.3 176.1,344.1 176.3,343.9 176.5,342.4 176.7,342.3 176.9,342.6 177.1,342.5 177.3,344.1 177.5,342.8 177.7,344.1 177.9,342.5 178.1,343.5 178.3,343.3 178.5,343.2 178.7,343.9 178.9,343.1 179.1,342.5 179.3,343.4 179.6,343.4 179.8,343.6 180,343.9 180.2,343.7 180.4,342.5 180.6,342.2 180.8,343.5 181,343.7 181.2,343.6 181.4,342.5 181.6,343.8 181.8,344 182,343.7 182.2,344.2 182.4,344 182.6,343.9 182.8,342.9 183,342.3 183.2,343.8 183.4,343.7 183.6,343.1 183.8,344.3 184,344.2 184.3,343.1 184.5,343.3 184.7,343.6 184.9,343.5 185.1,344.3 185.3,343.8 185.5,344 185.7,343.8 185.9,344.2 186.1,342.6 186.3,344.3 186.5,343.5 186.7,344 186.9,343.9 187.1,342.7 187.3,342.3 187.5,342.3 187.7,343.6 187.9,343.2 188.1,343.4 188.3,344.2 188.5,343.4 188.8,343 189,343.5 189.2,342.7 189.4,343.4 189.6,343.7 189.8,342.4 190,343.1 190.2,343.8 190.4,342.4 190.6,343.3 190.8,343.1 191,343.3 191.2,342.5 191.4,342.8 191.6,343.4 191.8,343.6 192,342.7 192.2,342.5 192.4,343.1 192.6,342.5 192.8,343.2 193,343.5 193.3,343.7 193.5,343.8 193.7,344 193.9,342.4 194.1,343.2 194.3,344.2 194.5,343.9 194.7,343.4 194.9,342.6 195.1,342.5 195.3,342.7 195.5,343.7 195.7,343.4 195.9,342.3 196.1,343.5 196.3,343 196.5,344.3 196.7,343.3 196.9,343.3 197.1,342.4 197.3,342.3 197.5,342.7 197.8,343.7 198,342.5 198.2,342.4 198.4,344.2 198.6,343.5 198.8,343.2 199,343.7 199.2,343.9 199.4,342.7 199.6,343.9 199.8,343.2 200,344.3" fill="none" stroke="#ffffff" stroke-width="0.6" stroke-linejoin="round" stroke-linecap="round" opacity="0.3"/>
<polyline points="36.4,347 36.6,345.6 36.8,345.8 37,345.1 37.2,346.6 37.4,346.6 37.6,345.6 37.8,345.7 38,346.5 38.2,345.7 38.4,346.3 38.6,345.5 38.9,346.9 39.1,346.7 39.3,345.2 39.5,346.4 39.7,346.6 39.9,345.4 40.1,345.8 40.3,346.9 40.5,346 40.7,345.7 40.9,346.8 41.1,345.8 41.3,346.9 41.5,346.4 41.7,347 41.9,346.7 42.1,345 42.3,346.3 42.5,345 42.7,346.2 42.9,345.9 43.1,345.3 43.4,345.7 43.6,346.9 43.8,345.9 44,345.8 44.2,346.8 44.4,347 44.6,345.3 44.8,346.1 45,346.8 45.2,346.2 45.4,346.7 45.6,345.4 45.8,346.1 46,347 46.2,345.4 46.4,347 46.6,346.6 46.8,347.1 47,345.6 47.2,346.9 47.4,346 47.6,347 47.9,346.1 48.1,345.7 48.3,346 48.5,346.2 48.7,346.1 48.9,346.2 49.1,345.9 49.3,347 49.5,346.1 49.7,346.7 49.9,345.3 50.1,345.1 50.3,347 50.5,346.9 50.7,345.6 50.9,345.9 51.1,347.1 51.3,345.6 51.5,345.1 51.7,346.3 51.9,346.4 52.1,345.9 52.4,345.1 52.6,346.6 52.8,346.5 53,346.8 53.2,345.8 53.4,346.2 53.6,346.6 53.8,346.3 54,347.1 54.2,346.5 54.4,345 54.6,345.9 54.8,346.6 55,345.1 55.2,346.4 55.4,346.6 55.6,347.1 55.8,346.9 56,346.8 56.2,346.7 56.4,345.3 56.6,346.6 56.8,346.6 57.1,343.6 57.3,340.6 57.5,339.7 57.7,336.4 57.9,335 58.1,332.3 58.3,330 58.5,327 58.7,325.1 58.9,323.4 59.1,325.3 59.3,328.2 59.5,329.4 59.7,329 59.9,330.5 60.1,330.4 60.3,331.8 60.5,330.7 60.7,331.5 60.9,332.5 61.1,331.1 61.3,332.2 61.6,332.6 61.8,332.9 62,333.3 62.2,333.2 62.4,332.2 62.6,333.5 62.8,333.3 63,332.9 63.2,332.8 63.4,333.2 63.6,332.4 63.8,333.6 64,333.5 64.2,333.4 64.4,334.1 64.6,334 64.8,334.2 65,333 65.2,334.4 65.4,333.3 65.6,334.4 65.8,333.5 66.1,333.5 66.3,334.3 66.5,333.1 66.7,333.7 66.9,334 67.1,335.2 67.3,334.5 67.5,334.9 67.7,334.5 67.9,333.5 68.1,333.8 68.3,335.6 68.5,334.3 68.7,333.8 68.9,334.7 69.1,335.8 69.3,334.1 69.5,335.2 69.7,334 69.9,334.3 70.1,334.5 70.3,334.3 70.6,336.3 70.8,334.7 71,335.9 71.2,336.3 71.4,335.8 71.6,335.4 71.8,336.8 72,335.8 72.2,335.2 72.4,335.9 72.6,335.8 72.8,336.4 73,335 73.2,336.6 73.4,335.7 73.6,335.9 73.8,337.3 74,335.2 74.2,336.9 74.4,335.4 74.6,335.5 74.8,335.7 75.1,335.8 75.3,336.9 75.5,336.8 75.7,337.1 75.9,335.9 76.1,337.9 76.3,337.7 76.5,336 76.7,336.4 76.9,336.6 77.1,336.1 77.3,337.1 77.5,336.5 77.7,337.4 77.9,336.5 78.1,338.3 78.3,337.6 78.5,337.3 78.7,336.9 78.9,337.8 79.1,337.3 79.3,336.7 79.5,337.9 79.8,338.5 80,338.9 80.2,337.1 80.4,338 80.6,338.2 80.8,338 81,338.9 81.2,338.8 81.4,338.8 81.6,338.8 81.8,337.5 82,338.9 82.2,339.3 82.4,337.6 82.6,338.4 82.8,339.6 83,338.2 83.2,338.2 83.4,338.3 83.6,338.1 83.8,338.9 84,339.4 84.3,338.3 84.5,338.6 84.7,338.5 84.9,339.7 85.1,339.3 85.3,338.7 85.5,339.4 85.7,338.9 85.9,339.3 86.1,338.7 86.3,339.6 86.5,339.3 86.7,338.7 86.9,339.8 87.1,340.2 87.3,339.2 87.5,340.3 87.7,338.8 87.9,340.1 88.1,338.8 88.3,339.6 88.5,340.5 88.8,339.7 89,339.4 89.2,339.9 89.4,339.6 89.6,340.2 89.8,339 90,340.7 90.2,339.4 90.4,341.2 90.6,340.1 90.8,341.1 91,341 91.2,340.1 91.4,339.4 91.6,340.8 91.8,340.6 92,340.5 92.2,340.2 92.4,340.8 92.6,340.9 92.8,339.8 93,340.5 93.3,341 93.5,340 93.7,339.6 93.9,340.9 94.1,341.8 94.3,341.2 94.5,340 94.7,341.6 94.9,341.6 95.1,340.3 95.3,341.8 95.5,340.3 95.7,341.7 95.9,341.3 96.1,340.9 96.3,342 96.5,340.6 96.7,341.4 96.9,340.7 97.1,340.7 97.3,342.3 97.5,340.7 97.8,340.7 98,342 98.2,341.3 98.4,342.1 98.6,341.5 98.8,341 99,341.9 99.2,341.6 99.4,342.5 99.6,340.9 99.8,341.5 100,341 100.2,342.7 100.4,341.3 100.6,342.7 100.8,341.8 101,342.5 101.2,341.1 101.4,342.8 101.6,342.1 101.8,342.1 102,342.3 102.2,343 102.5,341.8 102.7,341.1 102.9,342.5 103.1,341.3 103.3,342.6 103.5,342.8 103.7,342.4 103.9,341.3 104.1,341.7 104.3,342.1 104.5,343.4 104.7,342.6 104.9,343.5 105.1,343.5 105.3,342.8 105.5,343.1 105.7,343.4 105.9,342.6 106.1,342 106.3,341.7 106.5,341.8 106.7,342.9 107,343.5 107.2,341.8 107.4,343 107.6,343.2 107.8,342.1 108,342.8 108.2,341.9 108.4,342.5 108.6,342 108.8,343.7 109,342 109.2,342.9 109.4,342.6 109.6,343.5 109.8,343.7 110,343.6 110.2,343.9 110.4,342.2 110.6,344 110.8,343.8 111,343 111.2,343.9 111.5,343.9 111.7,343.9 111.9,343.9 112.1,344.5 112.3,342.9 112.5,343.1 112.7,343.9 112.9,342.6 113.1,343.4 113.3,344.1 113.5,342.5 113.7,344.2 113.9,342.9 114.1,342.9 114.3,344.7 114.5,342.9 114.7,343.9 114.9,343.7 115.1,342.7 115.3,343.9 115.5,344.3 115.7,344.8 116,343 116.2,343.9 116.4,343.4 116.6,343.6 116.8,342.8 117,343 117.2,343 117.4,344 117.6,343.1 117.8,344.4 118,344.8 118.2,343.7 118.4,345.1 118.6,343.1 118.8,344.5 119,344.3 119.2,344.6 119.4,344.6 119.6,344.1 119.8,343.5 120,345.3 120.2,344.6 120.4,344.8 120.7,343.3 120.9,344.4 121.1,344.4 121.3,343.4 121.5,344.6 121.7,344.6 121.9,344.6 122.1,345 122.3,344 122.5,344.9 122.7,344.5 122.9,344.3 123.1,343.9 123.3,344 123.5,344.6 123.7,343.6 123.9,343.6 124.1,343.6 124.3,344.2 124.5,344.7 124.7,345 124.9,343.9 125.2,344.8 125.4,344.2 125.6,345 125.8,345 126,345.8 126.2,344.3 126.4,345.3 126.6,344.8 126.8,344.3 127,344.1 127.2,343.9 127.4,344.5 127.6,345.5 127.8,344 128,345.9 128.2,345.1 128.4,344 128.6,344.2 128.8,344.8 129,344.2 129.2,345.7 129.4,346.1 129.7,345.5 129.9,344.1 130.1,346.1 130.3,345.5 130.5,345.1 130.7,345.8 130.9,344.3 131.1,346 131.3,346.1 131.5,344.1 131.7,346.3 131.9,345.8 132.1,345.5 132.3,344.4 132.5,345.6 132.7,345.1 132.9,344.6 133.1,345.1 133.3,344.6 133.5,346.4 133.7,345.3 133.9,346.4 134.2,344.6 134.4,346.5 134.6,346.3 134.8,345.6 135,345.2 135.2,346.5 135.4,345.2 135.6,346.4 135.8,345.9 136,346.5 136.2,345 136.4,344.8 136.6,345 136.8,346 137,346.1 137.2,344.6 137.4,344.9 137.6,344.6 137.8,345.8 138,344.8 138.2,345.3 138.4,345.1 138.7,345.7 138.9,345.1 139.1,345.7 139.3,346.2 139.5,345.8 139.7,346.8 139.9,345.4 140.1,346.2 140.3,346.5 140.5,345.2 140.7,345.8 140.9,346.2 141.1,344.9 141.3,344.9 141.5,346 141.7,345.8 141.9,347 142.1,346.2 142.3,344.9 142.5,345.9 142.7,344.9 142.9,347 143.1,347 143.4,346.9 143.6,346.9 143.8,345.4 144,345 144.2,345.5 144.4,345.8 144.6,346.3 144.8,346.3 145,346.9 145.2,346.3 145.4,346.9 145.6,345.4 145.8,346 146,346.4 146.2,345.4 146.4,346.6 146.6,345.3 146.8,345.7 147,345.9 147.2,346 147.4,345.9 147.6,345.3 147.9,345.1 148.1,346.1 148.3,345.2 148.5,346.8 148.7,345.3 148.9,345.4 149.1,346 149.3,347.2 149.5,345.5 149.7,346.6 149.9,346.7 150.1,345.4 150.3,347.3 150.5,346 150.7,347 150.9,345.6 151.1,347 151.3,347.3 151.5,346.4 151.7,346.5 151.9,345.9 152.1,346.9 152.4,346.9 152.6,346.9 152.8,346.4 153,347.3 153.2,346.4 153.4,345.8 153.6,346.1 153.8,347 154,346.6 154.2,347.4 154.4,346.6 154.6,346 154.8,347.7 155,346.2 155.2,345.7 155.4,347.1 155.6,347 155.8,346.2 156,347.4 156.2,347.1 156.4,346.4 156.6,346.6 156.9,347.4 157.1,347.3 157.3,346.7 157.5,345.9 157.7,347.3 157.9,346.3 158.1,346.6 158.3,347.2 158.5,346.9 158.7,346 158.9,347.6 159.1,346.6 159.3,346.8 159.5,347.6 159.7,347 159.9,347.5 160.1,347 160.3,347.8 160.5,346.6 160.7,346.1 160.9,346 161.1,345.9 161.3,347.4 161.6,346.2 161.8,347.2 162,346.4 162.2,346.9 162.4,346.3 162.6,347.1 162.8,345.9 163,347 163.2,346.2 163.4,347.6 163.6,346.4 163.8,347.5 164,347.1 164.2,347.2 164.4,346.6 164.6,346.8 164.8,347.4 165,346 165.2,348 165.4,347 165.6,347.8 165.8,347.8 166.1,347.6 166.3,346 166.5,348.1 166.7,346.5 166.9,346.9 167.1,346.3 167.3,346.3 167.5,347.9 167.7,346.1 167.9,347.8 168.1,347.9 168.3,347.6 168.5,346.6 168.7,346.9 168.9,346.7 169.1,347.7 169.3,347.2 169.5,347.5 169.7,346.1 169.9,347 170.1,346.7 170.3,347.2 170.6,348 170.8,348 171,347.8 171.2,346.6 171.4,347.8 171.6,347.2 171.8,347.5 172,348 172.2,347.5 172.4,347.2 172.6,346.3 172.8,346.6 173,347.4 173.2,347.7 173.4,347.8 173.6,347.6 173.8,347.2 174,346.2 174.2,348.2 174.4,347.9 174.6,347.5 174.8,347.1 175.1,348.2 175.3,348.3 175.5,347.2 175.7,348.3 175.9,346.6 176.1,346.9 176.3,347.4 176.5,346.2 176.7,347.4 176.9,346.3 177.1,347.9 177.3,348.3 177.5,347.5 177.7,347.3 177.9,347 178.1,348.2 178.3,346.9 178.5,347.8 178.7,346.4 178.9,346.7 179.1,346.8 179.3,348.4 179.6,348.4 179.8,348.4 180,347.5 180.2,348.4 180.4,348.2 180.6,348.4 180.8,346.3 181,347.5 181.2,348 181.4,348.2 181.6,347.9 181.8,348.3 182,346.8 182.2,346.5 182.4,346.8 182.6,348.4 182.8,347.2 183,346.7 183.2,347.7 183.4,346.9 183.6,348.6 183.8,347.4 184,347 184.3,347.7 184.5,348.4 184.7,346.5 184.9,346.8 185.1,348 185.3,347 185.5,348.3 185.7,347.3 185.9,347.1 186.1,347.3 186.3,347.7 186.5,346.8 186.7,347.7 186.9,348.5 187.1,348.3 187.3,348.3 187.5,347 187.7,348.5 187.9,346.6 188.1,347.4 188.3,348.5 188.5,346.6 188.8,346.5 189,348.2 189.2,347.5 189.4,348.2 189.6,348.4 189.8,348.5 190,346.8 190.2,348.2 190.4,348.3 190.6,348.3 190.8,348.1 191,346.7 191.2,348.3 191.4,348.3 191.6,348.6 191.8,347.2 192,348.5 192.2,347 192.4,346.7 192.6,348.2 192.8,347.7 193,347 193.3,347.7 193.5,348.1 193.7,346.8 193.9,346.6 194.1,348.3 194.3,346.9 194.5,348.7 194.7,347 194.9,348.1 195.1,346.6 195.3,348.8 195.5,348.4 195.7,347.9 195.9,347.7 196.1,347.1 196.3,348.5 196.5,348.7 196.7,348.3 196.9,348.6 197.1,346.8 197.3,347.7 197.5,348.4 197.8,348.1 198,348.3 198.2,347.9 198.4,348.2 198.6,347.5 198.8,348.4 199,347.4 199.2,346.9 199.4,347.2 199.6,348.7 199.8,347.8 200,347.1" fill="none" stroke="#2cc3ec" stroke-width="3.0" stroke-linejoin="round" stroke-linecap="round" />
<polyline points="36.4,347 36.6,345.6 36.8,345.8 37,345.1 37.2,346.6 37.4,346.6 37.6,345.6 37.8,345.7 38,346.5 38.2,345.7 38.4,346.3 38.6,345.5 38.9,346.9 39.1,346.7 39.3,345.2 39.5,346.4 39.7,346.6 39.9,345.4 40.1,345.8 40.3,346.9 40.5,346 40.7,345.7 40.9,346.8 41.1,345.8 41.3,346.9 41.5,346.4 41.7,347 41.9,346.7 42.1,345 42.3,346.3 42.5,345 42.7,346.2 42.9,345.9 43.1,345.3 43.4,345.7 43.6,346.9 43.8,345.9 44,345.8 44.2,346.8 44.4,347 44.6,345.3 44.8,346.1 45,346.8 45.2,346.2 45.4,346.7 45.6,345.4 45.8,346.1 46,347 46.2,345.4 46.4,347 46.6,346.6 46.8,347.1 47,345.6 47.2,346.9 47.4,346 47.6,347 47.9,346.1 48.1,345.7 48.3,346 48.5,346.2 48.7,346.1 48.9,346.2 49.1,345.9 49.3,347 49.5,346.1 49.7,346.7 49.9,345.3 50.1,345.1 50.3,347 50.5,346.9 50.7,345.6 50.9,345.9 51.1,347.1 51.3,345.6 51.5,345.1 51.7,346.3 51.9,346.4 52.1,345.9 52.4,345.1 52.6,346.6 52.8,346.5 53,346.8 53.2,345.8 53.4,346.2 53.6,346.6 53.8,346.3 54,347.1 54.2,346.5 54.4,345 54.6,345.9 54.8,346.6 55,345.1 55.2,346.4 55.4,346.6 55.6,347.1 55.8,346.9 56,346.8 56.2,346.7 56.4,345.3 56.6,346.6 56.8,346.6 57.1,343.6 57.3,340.6 57.5,339.7 57.7,336.4 57.9,335 58.1,332.3 58.3,330 58.5,327 58.7,325.1 58.9,323.4 59.1,325.3 59.3,328.2 59.5,329.4 59.7,329 59.9,330.5 60.1,330.4 60.3,331.8 60.5,330.7 60.7,331.5 60.9,332.5 61.1,331.1 61.3,332.2 61.6,332.6 61.8,332.9 62,333.3 62.2,333.2 62.4,332.2 62.6,333.5 62.8,333.3 63,332.9 63.2,332.8 63.4,333.2 63.6,332.4 63.8,333.6 64,333.5 64.2,333.4 64.4,334.1 64.6,334 64.8,334.2 65,333 65.2,334.4 65.4,333.3 65.6,334.4 65.8,333.5 66.1,333.5 66.3,334.3 66.5,333.1 66.7,333.7 66.9,334 67.1,335.2 67.3,334.5 67.5,334.9 67.7,334.5 67.9,333.5 68.1,333.8 68.3,335.6 68.5,334.3 68.7,333.8 68.9,334.7 69.1,335.8 69.3,334.1 69.5,335.2 69.7,334 69.9,334.3 70.1,334.5 70.3,334.3 70.6,336.3 70.8,334.7 71,335.9 71.2,336.3 71.4,335.8 71.6,335.4 71.8,336.8 72,335.8 72.2,335.2 72.4,335.9 72.6,335.8 72.8,336.4 73,335 73.2,336.6 73.4,335.7 73.6,335.9 73.8,337.3 74,335.2 74.2,336.9 74.4,335.4 74.6,335.5 74.8,335.7 75.1,335.8 75.3,336.9 75.5,336.8 75.7,337.1 75.9,335.9 76.1,337.9 76.3,337.7 76.5,336 76.7,336.4 76.9,336.6 77.1,336.1 77.3,337.1 77.5,336.5 77.7,337.4 77.9,336.5 78.1,338.3 78.3,337.6 78.5,337.3 78.7,336.9 78.9,337.8 79.1,337.3 79.3,336.7 79.5,337.9 79.8,338.5 80,338.9 80.2,337.1 80.4,338 80.6,338.2 80.8,338 81,338.9 81.2,338.8 81.4,338.8 81.6,338.8 81.8,337.5 82,338.9 82.2,339.3 82.4,337.6 82.6,338.4 82.8,339.6 83,338.2 83.2,338.2 83.4,338.3 83.6,338.1 83.8,338.9 84,339.4 84.3,338.3 84.5,338.6 84.7,338.5 84.9,339.7 85.1,339.3 85.3,338.7 85.5,339.4 85.7,338.9 85.9,339.3 86.1,338.7 86.3,339.6 86.5,339.3 86.7,338.7 86.9,339.8 87.1,340.2 87.3,339.2 87.5,340.3 87.7,338.8 87.9,340.1 88.1,338.8 88.3,339.6 88.5,340.5 88.8,339.7 89,339.4 89.2,339.9 89.4,339.6 89.6,340.2 89.8,339 90,340.7 90.2,339.4 90.4,341.2 90.6,340.1 90.8,341.1 91,341 91.2,340.1 91.4,339.4 91.6,340.8 91.8,340.6 92,340.5 92.2,340.2 92.4,340.8 92.6,340.9 92.8,339.8 93,340.5 93.3,341 93.5,340 93.7,339.6 93.9,340.9 94.1,341.8 94.3,341.2 94.5,340 94.7,341.6 94.9,341.6 95.1,340.3 95.3,341.8 95.5,340.3 95.7,341.7 95.9,341.3 96.1,340.9 96.3,342 96.5,340.6 96.7,341.4 96.9,340.7 97.1,340.7 97.3,342.3 97.5,340.7 97.8,340.7 98,342 98.2,341.3 98.4,342.1 98.6,341.5 98.8,341 99,341.9 99.2,341.6 99.4,342.5 99.6,340.9 99.8,341.5 100,341 100.2,342.7 100.4,341.3 100.6,342.7 100.8,341.8 101,342.5 101.2,341.1 101.4,342.8 101.6,342.1 101.8,342.1 102,342.3 102.2,343 102.5,341.8 102.7,341.1 102.9,342.5 103.1,341.3 103.3,342.6 103.5,342.8 103.7,342.4 103.9,341.3 104.1,341.7 104.3,342.1 104.5,343.4 104.7,342.6 104.9,343.5 105.1,343.5 105.3,342.8 105.5,343.1 105.7,343.4 105.9,342.6 106.1,342 106.3,341.7 106.5,341.8 106.7,342.9 107,343.5 107.2,341.8 107.4,343 107.6,343.2 107.8,342.1 108,342.8 108.2,341.9 108.4,342.5 108.6,342 108.8,343.7 109,342 109.2,342.9 109.4,342.6 109.6,343.5 109.8,343.7 110,343.6 110.2,343.9 110.4,342.2 110.6,344 110.8,343.8 111,343 111.2,343.9 111.5,343.9 111.7,343.9 111.9,343.9 112.1,344.5 112.3,342.9 112.5,343.1 112.7,343.9 112.9,342.6 113.1,343.4 113.3,344.1 113.5,342.5 113.7,344.2 113.9,342.9 114.1,342.9 114.3,344.7 114.5,342.9 114.7,343.9 114.9,343.7 115.1,342.7 115.3,343.9 115.5,344.3 115.7,344.8 116,343 116.2,343.9 116.4,343.4 116.6,343.6 116.8,342.8 117,343 117.2,343 117.4,344 117.6,343.1 117.8,344.4 118,344.8 118.2,343.7 118.4,345.1 118.6,343.1 118.8,344.5 119,344.3 119.2,344.6 119.4,344.6 119.6,344.1 119.8,343.5 120,345.3 120.2,344.6 120.4,344.8 120.7,343.3 120.9,344.4 121.1,344.4 121.3,343.4 121.5,344.6 121.7,344.6 121.9,344.6 122.1,345 122.3,344 122.5,344.9 122.7,344.5 122.9,344.3 123.1,343.9 123.3,344 123.5,344.6 123.7,343.6 123.9,343.6 124.1,343.6 124.3,344.2 124.5,344.7 124.7,345 124.9,343.9 125.2,344.8 125.4,344.2 125.6,345 125.8,345 126,345.8 126.2,344.3 126.4,345.3 126.6,344.8 126.8,344.3 127,344.1 127.2,343.9 127.4,344.5 127.6,345.5 127.8,344 128,345.9 128.2,345.1 128.4,344 128.6,344.2 128.8,344.8 129,344.2 129.2,345.7 129.4,346.1 129.7,345.5 129.9,344.1 130.1,346.1 130.3,345.5 130.5,345.1 130.7,345.8 130.9,344.3 131.1,346 131.3,346.1 131.5,344.1 131.7,346.3 131.9,345.8 132.1,345.5 132.3,344.4 132.5,345.6 132.7,345.1 132.9,344.6 133.1,345.1 133.3,344.6 133.5,346.4 133.7,345.3 133.9,346.4 134.2,344.6 134.4,346.5 134.6,346.3 134.8,345.6 135,345.2 135.2,346.5 135.4,345.2 135.6,346.4 135.8,345.9 136,346.5 136.2,345 136.4,344.8 136.6,345 136.8,346 137,346.1 137.2,344.6 137.4,344.9 137.6,344.6 137.8,345.8 138,344.8 138.2,345.3 138.4,345.1 138.7,345.7 138.9,345.1 139.1,345.7 139.3,346.2 139.5,345.8 139.7,346.8 139.9,345.4 140.1,346.2 140.3,346.5 140.5,345.2 140.7,345.8 140.9,346.2 141.1,344.9 141.3,344.9 141.5,346 141.7,345.8 141.9,347 142.1,346.2 142.3,344.9 142.5,345.9 142.7,344.9 142.9,347 143.1,347 143.4,346.9 143.6,346.9 143.8,345.4 144,345 144.2,345.5 144.4,345.8 144.6,346.3 144.8,346.3 145,346.9 145.2,346.3 145.4,346.9 145.6,345.4 145.8,346 146,346.4 146.2,345.4 146.4,346.6 146.6,345.3 146.8,345.7 147,345.9 147.2,346 147.4,345.9 147.6,345.3 147.9,345.1 148.1,346.1 148.3,345.2 148.5,346.8 148.7,345.3 148.9,345.4 149.1,346 149.3,347.2 149.5,345.5 149.7,346.6 149.9,346.7 150.1,345.4 150.3,347.3 150.5,346 150.7,347 150.9,345.6 151.1,347 151.3,347.3 151.5,346.4 151.7,346.5 151.9,345.9 152.1,346.9 152.4,346.9 152.6,346.9 152.8,346.4 153,347.3 153.2,346.4 153.4,345.8 153.6,346.1 153.8,347 154,346.6 154.2,347.4 154.4,346.6 154.6,346 154.8,347.7 155,346.2 155.2,345.7 155.4,347.1 155.6,347 155.8,346.2 156,347.4 156.2,347.1 156.4,346.4 156.6,346.6 156.9,347.4 157.1,347.3 157.3,346.7 157.5,345.9 157.7,347.3 157.9,346.3 158.1,346.6 158.3,347.2 158.5,346.9 158.7,346 158.9,347.6 159.1,346.6 159.3,346.8 159.5,347.6 159.7,347 159.9,347.5 160.1,347 160.3,347.8 160.5,346.6 160.7,346.1 160.9,346 161.1,345.9 161.3,347.4 161.6,346.2 161.8,347.2 162,346.4 162.2,346.9 162.4,346.3 162.6,347.1 162.8,345.9 163,347 163.2,346.2 163.4,347.6 163.6,346.4 163.8,347.5 164,347.1 164.2,347.2 164.4,346.6 164.6,346.8 164.8,347.4 165,346 165.2,348 165.4,347 165.6,347.8 165.8,347.8 166.1,347.6 166.3,346 166.5,348.1 166.7,346.5 166.9,346.9 167.1,346.3 167.3,346.3 167.5,347.9 167.7,346.1 167.9,347.8 168.1,347.9 168.3,347.6 168.5,346.6 168.7,346.9 168.9,346.7 169.1,347.7 169.3,347.2 169.5,347.5 169.7,346.1 169.9,347 170.1,346.7 170.3,347.2 170.6,348 170.8,348 171,347.8 171.2,346.6 171.4,347.8 171.6,347.2 171.8,347.5 172,348 172.2,347.5 172.4,347.2 172.6,346.3 172.8,346.6 173,347.4 173.2,347.7 173.4,347.8 173.6,347.6 173.8,347.2 174,346.2 174.2,348.2 174.4,347.9 174.6,347.5 174.8,347.1 175.1,348.2 175.3,348.3 175.5,347.2 175.7,348.3 175.9,346.6 176.1,346.9 176.3,347.4 176.5,346.2 176.7,347.4 176.9,346.3 177.1,347.9 177.3,348.3 177.5,347.5 177.7,347.3 177.9,347 178.1,348.2 178.3,346.9 178.5,347.8 178.7,346.4 178.9,346.7 179.1,346.8 179.3,348.4 179.6,348.4 179.8,348.4 180,347.5 180.2,348.4 180.4,348.2 180.6,348.4 180.8,346.3 181,347.5 181.2,348 181.4,348.2 181.6,347.9 181.8,348.3 182,346.8 182.2,346.5 182.4,346.8 182.6,348.4 182.8,347.2 183,346.7 183.2,347.7 183.4,346.9 183.6,348.6 183.8,347.4 184,347 184.3,347.7 184.5,348.4 184.7,346.5 184.9,346.8 185.1,348 185.3,347 185.5,348.3 185.7,347.3 185.9,347.1 186.1,347.3 186.3,347.7 186.5,346.8 186.7,347.7 186.9,348.5 187.1,348.3 187.3,348.3 187.5,347 187.7,348.5 187.9,346.6 188.1,347.4 188.3,348.5 188.5,346.6 188.8,346.5 189,348.2 189.2,347.5 189.4,348.2 189.6,348.4 189.8,348.5 190,346.8 190.2,348.2 190.4,348.3 190.6,348.3 190.8,348.1 191,346.7 191.2,348.3 191.4,348.3 191.6,348.6 191.8,347.2 192,348.5 192.2,347 192.4,346.7 192.6,348.2 192.8,347.7 193,347 193.3,347.7 193.5,348.1 193.7,346.8 193.9,346.6 194.1,348.3 194.3,346.9 194.5,348.7 194.7,347 194.9,348.1 195.1,346.6 195.3,348.8 195.5,348.4 195.7,347.9 195.9,347.7 196.1,347.1 196.3,348.5 196.5,348.7 196.7,348.3 196.9,348.6 197.1,346.8 197.3,347.7 197.5,348.4 197.8,348.1 198,348.3 198.2,347.9 198.4,348.2 198.6,347.5 198.8,348.4 199,347.4 199.2,346.9 199.4,347.2 199.6,348.7 199.8,347.8 200,347.1" fill="none" stroke="#ffffff" stroke-width="0.6" stroke-linejoin="round" stroke-linecap="round" opacity="0.3"/>
<line x1="36.4" y1="319" x2="200" y2="319" stroke="#111" stroke-width="1.6" stroke-dasharray="4 3"/>
<line x1="36.4" y1="344.6" x2="200" y2="344.6" stroke="#888" stroke-width="1.4" stroke-dasharray="4 3"/>
<text x="116.5" y="308.5" font-size="9.95" text-anchor="start" fill="#111" font-family="Liberation Sans" >long-term memory</text>
<text x="114.7" y="332.4" font-size="9.95" text-anchor="start" fill="#999" font-family="Liberation Sans" >short-term memory</text>
<text x="151.5" y="241.2" font-size="10" fill="#111">1mW/cm<tspan font-size="6.5" dy="-4">2</tspan></text>
<circle cx="165" cy="251.6" r="1.8" fill="#2cc3ec"/>
<text x="175" y="254.1" font-size="7" text-anchor="start" fill="#111" font-family="Liberation Sans" >1s</text>
<circle cx="165" cy="260.4" r="1.8" fill="#1ba8cd"/>
<text x="175" y="262.9" font-size="7" text-anchor="start" fill="#111" font-family="Liberation Sans" >2s</text>
<circle cx="165" cy="269.1" r="1.8" fill="#16859f"/>
<text x="175" y="271.6" font-size="7" text-anchor="start" fill="#111" font-family="Liberation Sans" >5s</text>
<circle cx="165" cy="277.5" r="1.8" fill="#0f6d84"/>
<text x="175" y="280" font-size="7" text-anchor="start" fill="#111" font-family="Liberation Sans" >20s</text>
<rect x="36.4" y="226.7" width="163.6" height="131.6" fill="none" stroke="#222" stroke-width="1.1"/>
<line x1="36.4" y1="358.3" x2="36.4" y2="360.8" stroke="#222" stroke-width="0.9" />
<line x1="56.8" y1="358.3" x2="56.8" y2="360.8" stroke="#222" stroke-width="0.9" />
<line x1="77.3" y1="358.3" x2="77.3" y2="360.8" stroke="#222" stroke-width="0.9" />
<line x1="97.8" y1="358.3" x2="97.8" y2="360.8" stroke="#222" stroke-width="0.9" />
<line x1="118.2" y1="358.3" x2="118.2" y2="360.8" stroke="#222" stroke-width="0.9" />
<line x1="138.7" y1="358.3" x2="138.7" y2="360.8" stroke="#222" stroke-width="0.9" />
<line x1="159.1" y1="358.3" x2="159.1" y2="360.8" stroke="#222" stroke-width="0.9" />
<line x1="179.6" y1="358.3" x2="179.6" y2="360.8" stroke="#222" stroke-width="0.9" />
<line x1="200" y1="358.3" x2="200" y2="360.8" stroke="#222" stroke-width="0.9" />
<line x1="46.6" y1="358.3" x2="46.6" y2="359.8" stroke="#222" stroke-width="0.9" />
<line x1="67.1" y1="358.3" x2="67.1" y2="359.8" stroke="#222" stroke-width="0.9" />
<line x1="87.5" y1="358.3" x2="87.5" y2="359.8" stroke="#222" stroke-width="0.9" />
<line x1="108" y1="358.3" x2="108" y2="359.8" stroke="#222" stroke-width="0.9" />
<line x1="128.4" y1="358.3" x2="128.4" y2="359.8" stroke="#222" stroke-width="0.9" />
<line x1="148.9" y1="358.3" x2="148.9" y2="359.8" stroke="#222" stroke-width="0.9" />
<line x1="169.3" y1="358.3" x2="169.3" y2="359.8" stroke="#222" stroke-width="0.9" />
<line x1="189.8" y1="358.3" x2="189.8" y2="359.8" stroke="#222" stroke-width="0.9" />
<line x1="36.4" y1="344.5" x2="33.9" y2="344.5" stroke="#222" stroke-width="0.9" />
<line x1="36.4" y1="324.6" x2="33.9" y2="324.6" stroke="#222" stroke-width="0.9" />
<line x1="36.4" y1="304.7" x2="33.9" y2="304.7" stroke="#222" stroke-width="0.9" />
<line x1="36.4" y1="284.8" x2="33.9" y2="284.8" stroke="#222" stroke-width="0.9" />
<line x1="36.4" y1="264.9" x2="33.9" y2="264.9" stroke="#222" stroke-width="0.9" />
<line x1="36.4" y1="245" x2="33.9" y2="245" stroke="#222" stroke-width="0.9" />
<line x1="36.4" y1="354.4" x2="34.9" y2="354.4" stroke="#222" stroke-width="0.9" />
<line x1="36.4" y1="334.6" x2="34.9" y2="334.6" stroke="#222" stroke-width="0.9" />
<line x1="36.4" y1="314.6" x2="34.9" y2="314.6" stroke="#222" stroke-width="0.9" />
<line x1="36.4" y1="294.8" x2="34.9" y2="294.8" stroke="#222" stroke-width="0.9" />
<line x1="36.4" y1="274.9" x2="34.9" y2="274.9" stroke="#222" stroke-width="0.9" />
<line x1="36.4" y1="254.9" x2="34.9" y2="254.9" stroke="#222" stroke-width="0.9" />
<line x1="36.4" y1="235.1" x2="34.9" y2="235.1" stroke="#222" stroke-width="0.9" />
<text x="36.4" y="371.3" font-size="11" text-anchor="middle" fill="#111" font-family="Liberation Sans" >0</text>
<text x="56.8" y="371.3" font-size="11" text-anchor="middle" fill="#111" font-family="Liberation Sans" >10</text>
<text x="77.3" y="371.3" font-size="11" text-anchor="middle" fill="#111" font-family="Liberation Sans" >20</text>
<text x="97.8" y="371.3" font-size="11" text-anchor="middle" fill="#111" font-family="Liberation Sans" >30</text>
<text x="118.2" y="371.3" font-size="11" text-anchor="middle" fill="#111" font-family="Liberation Sans" >40</text>
<text x="138.7" y="371.3" font-size="11" text-anchor="middle" fill="#111" font-family="Liberation Sans" >50</text>
<text x="159.1" y="371.3" font-size="11" text-anchor="middle" fill="#111" font-family="Liberation Sans" >60</text>
<text x="179.6" y="371.3" font-size="11" text-anchor="middle" fill="#111" font-family="Liberation Sans" >70</text>
<text x="200" y="371.3" font-size="11" text-anchor="middle" fill="#111" font-family="Liberation Sans" >80</text>
<text x="33" y="348.5" font-size="11" text-anchor="end" fill="#111" font-family="Liberation Sans" >0</text>
<text x="33" y="328.6" font-size="11" text-anchor="end" fill="#111" font-family="Liberation Sans" >5</text>
<text x="33" y="308.7" font-size="11" text-anchor="end" fill="#111" font-family="Liberation Sans" >10</text>
<text x="33" y="288.8" font-size="11" text-anchor="end" fill="#111" font-family="Liberation Sans" >15</text>
<text x="33" y="268.9" font-size="11" text-anchor="end" fill="#111" font-family="Liberation Sans" >20</text>
<text x="33" y="249" font-size="11" text-anchor="end" fill="#111" font-family="Liberation Sans" >25</text>
<text x="118.7" y="389.8" font-size="12" text-anchor="middle" fill="#111" font-family="Liberation Sans" >Time (s)</text>
<text x="0" y="0" font-size="12.5" text-anchor="middle" fill="#111" dominant-baseline="central" transform="translate(12.3,293.5) rotate(-90)" >light current (nA)</text>
<text x="243.3" y="209.6" font-size="18.5" text-anchor="start" fill="#000" font-family="Liberation Sans" >e</text>
<ellipse cx="409.7" cy="250.6" rx="14" ry="13" fill="url(#gGlowBlue)"/>
<ellipse cx="395" cy="267" rx="14.5" ry="13" fill="url(#gGlowBlue)"/>
<path d="M386.9,273.4 C389,265 392,257 396.5,253.3 C399,251.5 401,255 403.6,255 C406,255 408,250 410.6,250.6 C413,251 414,253 415.8,252.4 C418,251.5 420,251.3 422,251.5" fill="none" stroke="#78a850" stroke-width="1.5"/>
<path d="M391.3,273.4 C396,269 401,265.5 407,262" fill="none" stroke="#c8c050" stroke-width="1.5"/>
<path d="M398,259 C400,256 403,255 405,256.5 L402,258.5 C404,259 405,258 406,257" fill="none" stroke="#9a8a30" stroke-width="1.2"/>
<line x1="393.9" y1="238.4" x2="396.5" y2="243.6" stroke="#3a7cc8" stroke-width="0.9" />
<polygon points="397,244.7 394.8,242.8 396.9,241.7" fill="#3a7cc8"/>
<line x1="411.4" y1="231.4" x2="411.4" y2="237.5" stroke="#3a7cc8" stroke-width="0.9" />
<polygon points="411.4,238.7 410.2,236 412.6,236" fill="#3a7cc8"/>
<line x1="430.7" y1="242.8" x2="424.6" y2="245.4" stroke="#3a7cc8" stroke-width="0.9" />
<polygon points="423.5,245.9 425.5,243.7 426.5,245.9" fill="#3a7cc8"/>
<line x1="433.3" y1="260" x2="428" y2="260" stroke="#3a7cc8" stroke-width="0.9" />
<polygon points="426.8,260 429.5,258.8 429.5,261.2" fill="#3a7cc8"/>
<line x1="378.2" y1="258.9" x2="384.3" y2="258.9" stroke="#3a7cc8" stroke-width="0.9" />
<polygon points="385.5,258.9 382.8,260.1 382.8,257.7" fill="#3a7cc8"/>
<polyline points="294,237 308.8,255.6 368,283.2 427.2,294.4" fill="none" stroke="#7eb3df" stroke-width="1.0" stroke-linejoin="round" stroke-linecap="round" />
<circle cx="294" cy="237" r="2.6" fill="url(#gBall1)"/>
<circle cx="308.8" cy="255.6" r="2.6" fill="url(#gBall1)"/>
<circle cx="368" cy="283.2" r="2.6" fill="url(#gBall1)"/>
<circle cx="427.2" cy="294.4" r="2.6" fill="url(#gBall1)"/>
<polyline points="294,254.2 308.8,267.7 368,293.7 427.2,304.6" fill="none" stroke="#7a1fa2" stroke-width="1.0" stroke-linejoin="round" stroke-linecap="round" />
<circle cx="294" cy="254.2" r="2.6" fill="url(#gBall2)"/>
<circle cx="308.8" cy="267.7" r="2.6" fill="url(#gBall2)"/>
<circle cx="368" cy="293.7" r="2.6" fill="url(#gBall2)"/>
<circle cx="427.2" cy="304.6" r="2.6" fill="url(#gBall2)"/>
<polyline points="294,283 308.8,296.5 368,319.6 427.2,324.9" fill="none" stroke="#111" stroke-width="1.0" stroke-linejoin="round" stroke-linecap="round" />
<circle cx="294" cy="283" r="2.6" fill="url(#gBall3)"/>
<circle cx="308.8" cy="296.5" r="2.6" fill="url(#gBall3)"/>
<circle cx="368" cy="319.6" r="2.6" fill="url(#gBall3)"/>
<circle cx="427.2" cy="324.9" r="2.6" fill="url(#gBall3)"/>
<line x1="292" y1="321.4" x2="305.5" y2="321.4" stroke="#7a1fa2" stroke-width="1" />
<circle cx="298.8" cy="321.4" r="2.4" fill="url(#gBall2)"/>
<text x="308.6" y="324.7" font-size="9.5" text-anchor="start" fill="#111" font-family="Liberation Sans" >neat film</text>
<line x1="292" y1="332.6" x2="305.5" y2="332.6" stroke="#111" stroke-width="1" stroke-dasharray="2.5 1.5"/>
<circle cx="298.8" cy="332.6" r="2.4" fill="url(#gBall3)"/>
<text x="308.6" y="335.9" font-size="9.5" text-anchor="start" fill="#111" font-family="Liberation Sans" >LS film</text>
<line x1="292" y1="344.2" x2="305.5" y2="344.2" stroke="#7eb3df" stroke-width="1" stroke-dasharray="2.5 1.5"/>
<circle cx="298.8" cy="344.2" r="2.4" fill="url(#gBall1)"/>
<text x="308.6" y="347.5" font-size="9.5" text-anchor="start" fill="#111" font-family="Liberation Sans" >FMM film</text>
<rect x="279.3" y="226.4" width="163.2" height="131.5" fill="none" stroke="#222" stroke-width="1.1"/>
<line x1="279.2" y1="357.9" x2="279.2" y2="360.4" stroke="#222" stroke-width="0.9" />
<line x1="308.8" y1="357.9" x2="308.8" y2="360.4" stroke="#222" stroke-width="0.9" />
<line x1="338.4" y1="357.9" x2="338.4" y2="360.4" stroke="#222" stroke-width="0.9" />
<line x1="368" y1="357.9" x2="368" y2="360.4" stroke="#222" stroke-width="0.9" />
<line x1="397.6" y1="357.9" x2="397.6" y2="360.4" stroke="#222" stroke-width="0.9" />
<line x1="427.2" y1="357.9" x2="427.2" y2="360.4" stroke="#222" stroke-width="0.9" />
<line x1="294" y1="357.9" x2="294" y2="359.4" stroke="#222" stroke-width="0.9" />
<line x1="323.6" y1="357.9" x2="323.6" y2="359.4" stroke="#222" stroke-width="0.9" />
<line x1="353.2" y1="357.9" x2="353.2" y2="359.4" stroke="#222" stroke-width="0.9" />
<line x1="382.8" y1="357.9" x2="382.8" y2="359.4" stroke="#222" stroke-width="0.9" />
<line x1="412.4" y1="357.9" x2="412.4" y2="359.4" stroke="#222" stroke-width="0.9" />
<line x1="279.3" y1="338.4" x2="278" y2="338.4" stroke="#222" stroke-width="0.8" />
<line x1="279.3" y1="326.8" x2="278" y2="326.8" stroke="#222" stroke-width="0.8" />
<line x1="279.3" y1="318.5" x2="278" y2="318.5" stroke="#222" stroke-width="0.8" />
<line x1="279.3" y1="312.1" x2="278" y2="312.1" stroke="#222" stroke-width="0.8" />
<line x1="279.3" y1="306.9" x2="278" y2="306.9" stroke="#222" stroke-width="0.8" />
<line x1="279.3" y1="302.5" x2="278" y2="302.5" stroke="#222" stroke-width="0.8" />
<line x1="279.3" y1="298.7" x2="278" y2="298.7" stroke="#222" stroke-width="0.8" />
<line x1="279.3" y1="295.3" x2="278" y2="295.3" stroke="#222" stroke-width="0.8" />
<line x1="279.3" y1="272.5" x2="278" y2="272.5" stroke="#222" stroke-width="0.8" />
<line x1="279.3" y1="260.9" x2="278" y2="260.9" stroke="#222" stroke-width="0.8" />
<line x1="279.3" y1="252.6" x2="278" y2="252.6" stroke="#222" stroke-width="0.8" />
<line x1="279.3" y1="246.2" x2="278" y2="246.2" stroke="#222" stroke-width="0.8" />
<line x1="279.3" y1="241" x2="278" y2="241" stroke="#222" stroke-width="0.8" />
<line x1="279.3" y1="236.6" x2="278" y2="236.6" stroke="#222" stroke-width="0.8" />
<line x1="279.3" y1="232.8" x2="278" y2="232.8" stroke="#222" stroke-width="0.8" />
<line x1="279.3" y1="229.4" x2="278" y2="229.4" stroke="#222" stroke-width="0.8" />
<line x1="279.3" y1="226.4" x2="276.8" y2="226.4" stroke="#222" stroke-width="0.9" />
<line x1="279.3" y1="292.3" x2="276.8" y2="292.3" stroke="#222" stroke-width="0.9" />
<line x1="279.3" y1="357.9" x2="276.8" y2="357.9" stroke="#222" stroke-width="0.9" />
<text x="279.2" y="370.4" font-size="11" text-anchor="middle" fill="#111" font-family="Liberation Sans" >0</text>
<text x="308.8" y="370.4" font-size="11" text-anchor="middle" fill="#111" font-family="Liberation Sans" >1</text>
<text x="338.4" y="370.4" font-size="11" text-anchor="middle" fill="#111" font-family="Liberation Sans" >2</text>
<text x="368" y="370.4" font-size="11" text-anchor="middle" fill="#111" font-family="Liberation Sans" >3</text>
<text x="397.6" y="370.4" font-size="11" text-anchor="middle" fill="#111" font-family="Liberation Sans" >4</text>
<text x="427.2" y="370.4" font-size="11" text-anchor="middle" fill="#111" font-family="Liberation Sans" >5</text>
<text x="256.6" y="230.4" font-size="11" text-anchor="start" fill="#111">10<tspan font-size="7.5" dy="-5">-2</tspan></text>
<text x="256.6" y="296.3" font-size="11" text-anchor="start" fill="#111">10<tspan font-size="7.5" dy="-5">-3</tspan></text>
<text x="256.6" y="361.9" font-size="11" text-anchor="start" fill="#111">10<tspan font-size="7.5" dy="-5">-4</tspan></text>
<text x="360.6" y="390.9" font-size="12.4" text-anchor="middle" fill="#111">light intensity (mW cm<tspan font-size="8" dy="-5">-2</tspan><tspan dy="5">)</tspan></text>
<text x="0" y="0" font-size="12.5" text-anchor="middle" fill="#111" transform="translate(250.2,290.7) rotate(-90)">Responsivity (AW<tspan font-size="8" dy="-5">-1</tspan><tspan dy="5">)</tspan></text>
<text x="465.6" y="209.2" font-size="18.5" text-anchor="start" fill="#000" font-family="Liberation Sans" >f</text>
<line x1="479.3" y1="356.6" x2="471.4" y2="247" stroke="#cfcfcf" stroke-width="0.55" />
<line x1="489.3" y1="349" x2="482.6" y2="241.4" stroke="#cfcfcf" stroke-width="0.55" />
<line x1="499.4" y1="341.3" x2="493.8" y2="235.7" stroke="#cfcfcf" stroke-width="0.55" />
<line x1="509.4" y1="333.7" x2="505" y2="230.1" stroke="#cfcfcf" stroke-width="0.55" />
<line x1="519.4" y1="326.1" x2="516.2" y2="224.4" stroke="#cfcfcf" stroke-width="0.55" />
<line x1="529.5" y1="318.4" x2="527.4" y2="218.8" stroke="#cfcfcf" stroke-width="0.55" />
<line x1="539.5" y1="310.8" x2="538.6" y2="213.1" stroke="#cfcfcf" stroke-width="0.55" />
<line x1="478.7" y1="348.9" x2="539.4" y2="304" stroke="#cfcfcf" stroke-width="0.55" />
<line x1="477.8" y1="336.2" x2="539.3" y2="292.6" stroke="#cfcfcf" stroke-width="0.55" />
<line x1="476.9" y1="323.4" x2="539.2" y2="281.2" stroke="#cfcfcf" stroke-width="0.55" />
<line x1="476" y1="310.7" x2="539.1" y2="269.9" stroke="#cfcfcf" stroke-width="0.55" />
<line x1="475.1" y1="298" x2="539" y2="258.5" stroke="#cfcfcf" stroke-width="0.55" />
<line x1="474.2" y1="285.2" x2="538.9" y2="247.2" stroke="#cfcfcf" stroke-width="0.55" />
<line x1="473.2" y1="272.5" x2="538.8" y2="235.8" stroke="#cfcfcf" stroke-width="0.55" />
<line x1="472.3" y1="259.7" x2="538.7" y2="224.4" stroke="#cfcfcf" stroke-width="0.55" />
<line x1="471.4" y1="247" x2="538.6" y2="213.1" stroke="#cfcfcf" stroke-width="0.55" />
<line x1="539.5" y1="310.8" x2="538.6" y2="213.1" stroke="#cfcfcf" stroke-width="0.55" />
<line x1="550.3" y1="314.3" x2="551" y2="215.3" stroke="#cfcfcf" stroke-width="0.55" />
<line x1="561.1" y1="317.7" x2="563.3" y2="217.4" stroke="#cfcfcf" stroke-width="0.55" />
<line x1="571.9" y1="321.2" x2="575.7" y2="219.6" stroke="#cfcfcf" stroke-width="0.55" />
<line x1="582.8" y1="324.6" x2="588" y2="221.8" stroke="#cfcfcf" stroke-width="0.55" />
<line x1="593.6" y1="328.1" x2="600.4" y2="224" stroke="#cfcfcf" stroke-width="0.55" />
<line x1="604.4" y1="331.6" x2="612.8" y2="226.2" stroke="#cfcfcf" stroke-width="0.55" />
<line x1="615.2" y1="335" x2="625.1" y2="228.3" stroke="#cfcfcf" stroke-width="0.55" />
<line x1="626" y1="338.5" x2="637.5" y2="230.5" stroke="#cfcfcf" stroke-width="0.55" />
<line x1="539.4" y1="304" x2="626.8" y2="330.9" stroke="#cfcfcf" stroke-width="0.55" />
<line x1="539.3" y1="292.6" x2="628.1" y2="318.4" stroke="#cfcfcf" stroke-width="0.55" />
<line x1="539.2" y1="281.2" x2="629.5" y2="305.8" stroke="#cfcfcf" stroke-width="0.55" />
<line x1="539.1" y1="269.9" x2="630.8" y2="293.3" stroke="#cfcfcf" stroke-width="0.55" />
<line x1="539" y1="258.5" x2="632.2" y2="280.7" stroke="#cfcfcf" stroke-width="0.55" />
<line x1="538.9" y1="247.2" x2="633.5" y2="268.1" stroke="#cfcfcf" stroke-width="0.55" />
<line x1="538.8" y1="235.8" x2="634.8" y2="255.6" stroke="#cfcfcf" stroke-width="0.55" />
<line x1="538.7" y1="224.4" x2="636.2" y2="243" stroke="#cfcfcf" stroke-width="0.55" />
<line x1="538.6" y1="213.1" x2="637.5" y2="230.5" stroke="#cfcfcf" stroke-width="0.55" />
<line x1="538.6" y1="213.1" x2="637.5" y2="230.5" stroke="#cfcfcf" stroke-width="0.8" />
<line x1="471.4" y1="247" x2="538.6" y2="213.1" stroke="#cfcfcf" stroke-width="0.8" />
<line x1="479.3" y1="356.6" x2="539.5" y2="310.8" stroke="#cfcfcf" stroke-width="0.55" />
<line x1="491.9" y1="361" x2="550.3" y2="314.3" stroke="#cfcfcf" stroke-width="0.55" />
<line x1="504.5" y1="365.5" x2="561.1" y2="317.7" stroke="#cfcfcf" stroke-width="0.55" />
<line x1="517.1" y1="369.9" x2="571.9" y2="321.2" stroke="#cfcfcf" stroke-width="0.55" />
<line x1="529.6" y1="374.3" x2="582.8" y2="324.6" stroke="#cfcfcf" stroke-width="0.55" />
<line x1="542.2" y1="378.7" x2="593.6" y2="328.1" stroke="#cfcfcf" stroke-width="0.55" />
<line x1="554.8" y1="383.1" x2="604.4" y2="331.6" stroke="#cfcfcf" stroke-width="0.55" />
<line x1="567.4" y1="387.6" x2="615.2" y2="335" stroke="#cfcfcf" stroke-width="0.55" />
<line x1="580" y1="392" x2="626" y2="338.5" stroke="#cfcfcf" stroke-width="0.55" />
<line x1="479.3" y1="356.6" x2="580" y2="392" stroke="#cfcfcf" stroke-width="0.55" />
<line x1="491.3" y1="347.4" x2="589.2" y2="381.3" stroke="#cfcfcf" stroke-width="0.55" />
<line x1="503.4" y1="338.3" x2="598.4" y2="370.6" stroke="#cfcfcf" stroke-width="0.55" />
<line x1="515.4" y1="329.1" x2="607.6" y2="359.9" stroke="#cfcfcf" stroke-width="0.55" />
<line x1="527.5" y1="320" x2="616.8" y2="349.2" stroke="#cfcfcf" stroke-width="0.55" />
<line x1="539.5" y1="310.8" x2="626" y2="338.5" stroke="#cfcfcf" stroke-width="0.55" />
<line x1="538.6" y1="213.1" x2="539.5" y2="310.8" stroke="#bbb" stroke-width="0.8" />
<line x1="471.4" y1="247" x2="479.3" y2="356.6" stroke="#333" stroke-width="0.9" />
<line x1="479.3" y1="356.6" x2="580" y2="392" stroke="#333" stroke-width="0.9" />
<line x1="580" y1="392" x2="626" y2="338.5" stroke="#333" stroke-width="0.9" />
<text x="0" y="0" font-size="6.5" font-style="italic" fill="#222" text-anchor="middle" dominant-baseline="central" transform="translate(464.9,251.1) rotate(-18)">120</text>
<text x="0" y="0" font-size="6.5" font-style="italic" fill="#222" text-anchor="middle" dominant-baseline="central" transform="translate(466,265.7) rotate(-18)">110</text>
<text x="0" y="0" font-size="6.5" font-style="italic" fill="#222" text-anchor="middle" dominant-baseline="central" transform="translate(466.8,281.6) rotate(-18)">100</text>
<text x="0" y="0" font-size="6.5" font-style="italic" fill="#222" text-anchor="middle" dominant-baseline="central" transform="translate(468.6,294.7) rotate(-18)">90</text>
<text x="0" y="0" font-size="6.5" font-style="italic" fill="#222" text-anchor="middle" dominant-baseline="central" transform="translate(470,308.4) rotate(-18)">80</text>
<text x="0" y="0" font-size="6.5" font-style="italic" fill="#222" text-anchor="middle" dominant-baseline="central" transform="translate(470.6,322.3) rotate(-18)">70</text>
<text x="0" y="0" font-size="6.5" font-style="italic" fill="#222" text-anchor="middle" dominant-baseline="central" transform="translate(473,335.5) rotate(-18)">60</text>
<text x="0" y="0" font-size="6.5" font-style="italic" fill="#222" text-anchor="middle" dominant-baseline="central" transform="translate(474.9,348.4) rotate(-18)">50</text>
<text x="0" y="0" font-size="6.3" fill="#444" text-anchor="middle" dominant-baseline="central" transform="translate(461.9,314) rotate(90)">value (s)</text>
<text x="0" y="0" font-size="6.3" fill="#444" text-anchor="middle" dominant-baseline="central" transform="translate(474.4,360.7) rotate(-52)">100</text>
<text x="0" y="0" font-size="6.3" fill="#444" text-anchor="middle" dominant-baseline="central" transform="translate(486,364.9) rotate(-52)">150</text>
<text x="0" y="0" font-size="6.3" fill="#444" text-anchor="middle" dominant-baseline="central" transform="translate(497.7,369.1) rotate(-52)">200</text>
<text x="0" y="0" font-size="6.3" fill="#444" text-anchor="middle" dominant-baseline="central" transform="translate(509.3,373.3) rotate(-52)">250</text>
<text x="0" y="0" font-size="6.3" fill="#444" text-anchor="middle" dominant-baseline="central" transform="translate(521,377.5) rotate(-52)">300</text>
<text x="0" y="0" font-size="6.3" fill="#444" text-anchor="middle" dominant-baseline="central" transform="translate(532.6,381.7) rotate(-52)">350</text>
<text x="0" y="0" font-size="6.3" fill="#444" text-anchor="middle" dominant-baseline="central" transform="translate(544.3,385.9) rotate(-52)">400</text>
<text x="0" y="0" font-size="6.3" fill="#444" text-anchor="middle" dominant-baseline="central" transform="translate(555.9,390.1) rotate(-52)">450</text>
<text x="0" y="0" font-size="6.3" fill="#444" text-anchor="middle" dominant-baseline="central" transform="translate(567.6,394.3) rotate(-52)">500</text>
<text x="0" y="0" font-size="7" fill="#444" text-anchor="middle" dominant-baseline="central" transform="translate(515.7,385.2) rotate(23)">PPF index</text>
<text x="0" y="0" font-size="6.3" fill="#444" text-anchor="middle" dominant-baseline="central" transform="translate(590.5,388.5) rotate(25)">0</text>
<text x="0" y="0" font-size="6.3" fill="#444" text-anchor="middle" dominant-baseline="central" transform="translate(603.5,379.5) rotate(25)">200</text>
<text x="0" y="0" font-size="6.3" fill="#444" text-anchor="middle" dominant-baseline="central" transform="translate(612.4,369.5) rotate(25)">400</text>
<text x="0" y="0" font-size="6.3" fill="#444" text-anchor="middle" dominant-baseline="central" transform="translate(620.5,359.3) rotate(25)">600</text>
<text x="0" y="0" font-size="6.3" fill="#444" text-anchor="middle" dominant-baseline="central" transform="translate(628.5,349.5) rotate(25)">800</text>
<text x="0" y="0" font-size="6.3" fill="#444" text-anchor="middle" dominant-baseline="central" transform="translate(638,341.3) rotate(25)">1000</text>
<text x="0" y="0" font-size="6.5" fill="#444" text-anchor="middle" dominant-baseline="central" transform="translate(632,366) rotate(-62)">Δt (ms)</text>
<text x="587" y="205" font-size="11" text-anchor="middle" fill="#111" font-family="Liberation Sans" >Δt(s)</text>
<circle cx="520.4" cy="335.5" r="12.1" fill="url(#gCyanBig)" opacity="0.8"/>
<circle cx="520.0" cy="335.5" r="4.2" fill="url(#gOlive)" />
<circle cx="497.0" cy="340.9" r="2.8" fill="url(#gTeal)" />
<circle cx="504.5" cy="343.3" r="2.3" fill="url(#gBlue)" />
<circle cx="526.2" cy="350.3" r="6.3" fill="url(#gLightBlue)" />
<circle cx="519.1" cy="258.7" r="7.7" fill="url(#gGreen)" />
<circle cx="529.0" cy="260.6" r="4.8" fill="url(#gBlack)" />
<circle cx="527.9" cy="291.9" r="4.4" fill="url(#gMaroon)" />
<circle cx="581.3" cy="291.9" r="3.3" fill="url(#gNavy)" />
<circle cx="553.0" cy="305.8" r="1.8" fill="url(#gPurple2)" />
<circle cx="540.6" cy="242.7" r="1.2" fill="#e03030"/>
<circle cx="589.8" cy="252.6" r="3.4" fill="url(#gBlack)"/>
<text x="599" y="254.9" font-size="6.4" fill="#222">IDT-BT<tspan font-size="4.3" dy="-2.8">[13]</tspan></text>
<circle cx="589.8" cy="261.3" r="3.4" fill="url(#gGreen)"/>
<text x="599" y="263.6" font-size="6.4" fill="#222">CsPbBr3 QCM film<tspan font-size="4.3" dy="-2.8">[14]</tspan></text>
<circle cx="589.8" cy="270" r="3.4" fill="url(#gBlue)"/>
<text x="599" y="272.3" font-size="6.4" fill="#222">N2200<tspan font-size="4.3" dy="-2.8">[10]</tspan></text>
<circle cx="589.8" cy="278.7" r="3.4" fill="url(#gCyan)"/>
<text x="599" y="281" font-size="6.4" fill="#222">N2200/s-CNT#1<tspan font-size="4.3" dy="-2.8">[10]</tspan></text>
<circle cx="589.8" cy="287.4" r="3.4" fill="url(#gOrange)"/>
<text x="599" y="289.7" font-size="6.4" fill="#222">N2200/s-CNT#2<tspan font-size="4.3" dy="-2.8">[10]</tspan></text>
<circle cx="589.8" cy="296.1" r="3.4" fill="url(#gTeal)"/>
<text x="599" y="298.4" font-size="6.4" fill="#222">P3HT NFs<tspan font-size="4.3" dy="-2.8">[15]</tspan></text>
<circle cx="589.8" cy="304.8" r="3.4" fill="url(#gPurple2)"/>
<text x="599" y="307.1" font-size="6.4" fill="#222">PTDPP-Se-6Si<tspan font-size="4.3" dy="-2.8">[16]</tspan></text>
<circle cx="589.8" cy="313.5" r="3.4" fill="url(#gLightBlue)"/>
<text x="599" y="315.8" font-size="6.4" fill="#222">P3HT/PEO NWs<tspan font-size="4.3" dy="-2.8">[18]</tspan></text>
<circle cx="589.8" cy="322.2" r="3.4" fill="url(#gNavy)"/>
<text x="599" y="324.5" font-size="6.4" fill="#222">PEDOT:PSS/GOPS<tspan font-size="4.3" dy="-2.8">[12]</tspan></text>
<circle cx="589.8" cy="330.9" r="3.4" fill="url(#gMaroon)"/>
<text x="599" y="333.2" font-size="6.4" fill="#222">SC-SWCTs+CdSe/ZnS QDs<tspan font-size="4.3" dy="-2.8">[11]</tspan></text>
<circle cx="589.8" cy="339.6" r="1.1" fill="#e02020"/>
<text x="599" y="341.9" font-size="6.4" fill="#222">this work</text>
<text x="9.5" y="403.5" font-size="18.5" text-anchor="start" fill="#000" font-family="Liberation Sans" >g</text>
<rect x="38.3" y="445.2" width="9.2" height="109.1" fill="#6fa7d5" />
<rect x="47.5" y="452.8" width="9.5" height="101.5" fill="#7e4fc6" />
<rect x="65.6" y="451.7" width="9.2" height="102.6" fill="#6fa7d5" />
<rect x="74.8" y="490.1" width="9.5" height="64.2" fill="#7e4fc6" />
<rect x="92.9" y="459.3" width="9.2" height="95" fill="#6fa7d5" />
<rect x="102.1" y="512.3" width="9.5" height="42" fill="#7e4fc6" />
<rect x="120.2" y="459.3" width="9.2" height="95" fill="#6fa7d5" />
<rect x="129.4" y="526.7" width="9.5" height="27.6" fill="#7e4fc6" />
<rect x="147.5" y="462.2" width="9.2" height="92.1" fill="#6fa7d5" />
<rect x="156.7" y="548" width="9.5" height="6.3" fill="#7e4fc6" />
<rect x="174.8" y="465.8" width="9.2" height="88.5" fill="#6fa7d5" />
<rect x="35.9" y="422.3" width="164.2" height="132" fill="none" stroke="#111" stroke-width="1.1"/>
<line x1="47.5" y1="554.3" x2="47.5" y2="556.8" stroke="#111" stroke-width="0.9" />
<line x1="74.8" y1="554.3" x2="74.8" y2="556.8" stroke="#111" stroke-width="0.9" />
<line x1="102.1" y1="554.3" x2="102.1" y2="556.8" stroke="#111" stroke-width="0.9" />
<line x1="129.4" y1="554.3" x2="129.4" y2="556.8" stroke="#111" stroke-width="0.9" />
<line x1="156.7" y1="554.3" x2="156.7" y2="556.8" stroke="#111" stroke-width="0.9" />
<line x1="184" y1="554.3" x2="184" y2="556.8" stroke="#111" stroke-width="0.9" />
<line x1="61.1" y1="554.3" x2="61.1" y2="552.8" stroke="#111" stroke-width="0.9" />
<line x1="88.5" y1="554.3" x2="88.5" y2="552.8" stroke="#111" stroke-width="0.9" />
<line x1="115.8" y1="554.3" x2="115.8" y2="552.8" stroke="#111" stroke-width="0.9" />
<line x1="143.1" y1="554.3" x2="143.1" y2="552.8" stroke="#111" stroke-width="0.9" />
<line x1="170.3" y1="554.3" x2="170.3" y2="552.8" stroke="#111" stroke-width="0.9" />
<line x1="35.9" y1="554.3" x2="33.4" y2="554.3" stroke="#111" stroke-width="0.9" />
<line x1="35.9" y1="537" x2="34.6" y2="537" stroke="#111" stroke-width="0.7" />
<line x1="35.9" y1="526.9" x2="34.6" y2="526.9" stroke="#111" stroke-width="0.7" />
<line x1="35.9" y1="519.7" x2="34.6" y2="519.7" stroke="#111" stroke-width="0.7" />
<line x1="35.9" y1="514.2" x2="34.6" y2="514.2" stroke="#111" stroke-width="0.7" />
<line x1="35.9" y1="509.6" x2="34.6" y2="509.6" stroke="#111" stroke-width="0.7" />
<line x1="35.9" y1="505.8" x2="34.6" y2="505.8" stroke="#111" stroke-width="0.7" />
<line x1="35.9" y1="502.5" x2="34.6" y2="502.5" stroke="#111" stroke-width="0.7" />
<line x1="35.9" y1="499.5" x2="34.6" y2="499.5" stroke="#111" stroke-width="0.7" />
<line x1="35.9" y1="496.9" x2="33.4" y2="496.9" stroke="#111" stroke-width="0.9" />
<line x1="35.9" y1="479.6" x2="34.6" y2="479.6" stroke="#111" stroke-width="0.7" />
<line x1="35.9" y1="469.5" x2="34.6" y2="469.5" stroke="#111" stroke-width="0.7" />
<line x1="35.9" y1="462.3" x2="34.6" y2="462.3" stroke="#111" stroke-width="0.7" />
<line x1="35.9" y1="456.8" x2="34.6" y2="456.8" stroke="#111" stroke-width="0.7" />
<line x1="35.9" y1="452.2" x2="34.6" y2="452.2" stroke="#111" stroke-width="0.7" />
<line x1="35.9" y1="448.4" x2="34.6" y2="448.4" stroke="#111" stroke-width="0.7" />
<line x1="35.9" y1="445.1" x2="34.6" y2="445.1" stroke="#111" stroke-width="0.7" />
<line x1="35.9" y1="442.1" x2="34.6" y2="442.1" stroke="#111" stroke-width="0.7" />
<line x1="35.9" y1="439.5" x2="33.4" y2="439.5" stroke="#111" stroke-width="0.9" />
<line x1="35.9" y1="422.2" x2="34.6" y2="422.2" stroke="#111" stroke-width="0.7" />
<text x="47.5" y="567.2" font-size="11" text-anchor="middle" fill="#111" font-family="Liberation Sans" >0</text>
<text x="74.8" y="567.2" font-size="11" text-anchor="middle" fill="#111" font-family="Liberation Sans" >25</text>
<text x="102.1" y="567.2" font-size="11" text-anchor="middle" fill="#111" font-family="Liberation Sans" >50</text>
<text x="129.4" y="567.2" font-size="11" text-anchor="middle" fill="#111" font-family="Liberation Sans" >75</text>
<text x="156.7" y="567.2" font-size="11" text-anchor="middle" fill="#111" font-family="Liberation Sans" >100</text>
<text x="184" y="567.2" font-size="11" text-anchor="middle" fill="#111" font-family="Liberation Sans" >125</text>
<text x="33" y="558.3" font-size="11" text-anchor="end" fill="#111" font-family="Liberation Sans" >1</text>
<text x="33" y="500.9" font-size="11" text-anchor="end" fill="#111" font-family="Liberation Sans" >10</text>
<text x="33" y="443.5" font-size="11" text-anchor="end" fill="#111" font-family="Liberation Sans" >100</text>
<rect x="129.8" y="426.9" width="20.9" height="10.8" fill="#6fa7d5" />
<rect x="129.8" y="439.5" width="20.9" height="10.1" fill="#7e4fc6" />
<text x="154.3" y="435.9" font-size="10" text-anchor="start" fill="#111" font-family="Liberation Sans" >FMM film</text>
<text x="154.3" y="447.8" font-size="10" text-anchor="start" fill="#111" font-family="Liberation Sans" >neat film</text>
<text x="118.2" y="586.2" font-size="12.4" text-anchor="middle" fill="#111" font-family="Liberation Sans" >strain (%)</text>
<text x="0" y="0" font-size="12.7" text-anchor="middle" fill="#111" dominant-baseline="central" transform="translate(7.4,488.2) rotate(-90)" >light current (nA)</text>
<text x="243.6" y="403.4" font-size="18.5" text-anchor="start" fill="#000" font-family="Liberation Sans" >h</text>
<polygon points="289.7,488.3 290,483.9 290.2,480.7 290.5,478.9 290.8,477.7 291,475.9 291.3,475.8 291.6,473.7 291.8,471.4 292.1,470.5 292.4,469.6 292.6,470.2 292.9,469 293.2,468.8 293.4,467.7 293.7,467.1 294,467.3 294.2,466.4 294.5,465.9 294.8,464.6 295,464.5 295.3,465.2 295.6,463.9 295.8,464.6 296.1,463.6 296.4,464 296.6,463.9 296.9,462.3 297.2,463 297.4,462.7 297.7,461.3 298,461.2 298.2,461.8 298.5,460.5 298.8,460.9 299,460.4 299.3,460.9 299.5,459.5 299.8,459.6 300.1,458.9 300.3,458.8 300.6,459.4 300.9,459.1 301.1,459.1 301.4,458.9 301.7,458.7 301.9,458.1 302.2,457.5 302.5,458.2 302.7,457 303,457.3 303.3,457.1 303.5,456.2 303.8,456.5 304.1,456.5 304.3,456.1 304.6,455.6 304.9,456.4 305.1,454.7 305.4,456 305.7,454.7 305.9,454.4 306.2,455.4 306.5,454 306.7,454.5 307,454 307.3,454.7 307.5,454.5 307.8,454.1 308.1,452.8 308.3,453.8 308.6,452.9 308.9,452.5 309.1,452.3 309.4,453.1 309.7,453 309.9,452.6 310.2,452 310.5,452.9 310.7,451.8 311,451.6 311.3,451.4 311.5,452.5 311.8,451 312.1,452.2 312.3,451.7 312.6,451.1 312.8,450.5 313.1,451.3 313.4,450.3 313.6,450.7 313.9,450.9 314.2,450.8 314.4,450.9 314.7,450.9 315,450.7 315.2,449.7 315.5,449.1 315.8,450.3 316,450.3 316.3,448.7 316.6,449.3 316.8,449.4 317.1,449.5 317.4,448.8 317.6,448.4 317.9,448.8 318.2,448.8 318.4,449.3 318.7,447.9 319,449.2 319.2,448.4 319.5,447.7 319.8,448.7 320,447.7 320.3,447.3 320.6,447.7 320.8,447.4 321.1,448.3 321.4,447.7 321.6,448.1 321.9,446.9 322.2,447.7 322.4,447.4 322.7,446.4 323,446.6 323.2,446.3 323.5,447 323.8,446.9 324,446.4 324.3,446.8 324.6,447 324.8,446.7 325.1,447 325.4,446.6 325.6,445.6 325.9,445.5 326.1,445.9 326.4,446.1 326.7,446.2 326.9,446.5 327.2,446.2 327.5,445.3 327.7,445.1 328,445.8 328.3,445 328.5,445 328.8,445 329.1,445 329.3,444.8 329.6,445.3 329.9,444.7 330.1,445.3 330.4,444.9 330.7,444.3 330.9,444.4 331.2,444.9 331.5,443.8 331.7,444.2 332,444.2 332.3,445 332.5,444.1 332.8,444.5 333.1,443.7 333.3,444 333.6,443.4 333.9,443.5 334.1,443.2 334.4,443.8 334.7,443.3 334.9,443.1 335.2,442.8 335.5,443.5 335.7,442.7 336,442.5 336.3,442.7 336.5,442.2 336.8,442.2 337.1,442.8 337.3,442.7 337.6,443.1 337.9,442 338.1,441.8 338.4,442.4 338.7,442 338.9,441.9 339.2,441.8 339.4,442.6 339.7,441.6 340,441.8 340.2,441.7 340.5,442 340.8,441.6 341,441.3 341.3,441.5 341.6,441.3 341.8,442.3 342.1,442.1 342.4,441.6 342.6,441.2 342.9,441.8 343.2,441 343.4,441 343.7,441.9 344,441.2 344.2,441.5 344.5,441.7 344.8,441.5 345,441.2 345.3,441.4 345.6,441.3 345.8,441.5 346.1,440.8 346.4,440.8 346.6,440.4 346.9,440.4 347.2,440.9 347.4,439.8 347.7,441.1 348,440.5 348.2,440.6 348.5,440.3 348.8,440.7 349,439.6 349.3,440.2 349.6,440.7 349.8,439.8 350.1,440.5 350.4,439.7 350.6,440 350.9,439.6 351.2,438.9 351.4,439.1 351.7,439.7 352,439 352.2,439.2 352.5,439.6 352.7,439.9 353,439.1 353.3,439.1 353.5,438.4 353.8,438.4 354.1,438.9 354.3,439.2 354.6,438.3 354.9,439.7 355.1,439.4 355.4,438.7 355.7,438.5 355.9,439.2 356.2,438.4 356.5,437.9 356.7,438.7 357,438.5 357.3,438.8 357.5,438.6 357.8,437.5 358.1,438.4 358.3,437.4 358.6,437.5 358.9,437.9 359.1,438.4 359.4,437.2 359.7,437.9 359.9,438 360.2,438.1 360.5,437 360.7,437.7 361,437.9 361.3,437.6 361.5,438.1 361.8,437.3 362.1,437.5 362.3,437.7 362.6,436.9 362.9,436.8 363.1,438 363.4,437.1 363.7,437.5 363.9,436.4 364.2,436.6 364.5,437.4 364.7,437.3 365,437.4 365.3,436.1 365.5,437.1 365.8,436.6 366,436.8 366.3,436.4 366.6,436.5 366.8,436.2 367.1,437.1 367.4,436.1 367.6,436.7 367.9,436.3 368.2,436.6 368.4,436.6 368.7,436.2 369,436.3 369.2,436.4 369.5,435.7 369.8,435.9 370,436.7 370.3,436.4 370.6,436 370.8,435.2 371.1,435.2 371.4,435.7 371.6,436.5 371.9,435.3 372.2,435.8 372.4,435.5 372.7,435.2 373,435.3 373.2,435.5 373.5,434.8 373.8,435.5 374,435.5 374.3,434.7 374.6,435.7 374.8,435.5 375.1,434.6 375.4,435.8 375.6,434.5 375.9,434.7 376.2,435.1 376.4,435.2 376.7,434.4 377,434.2 377.2,435.3 377.5,434.8 377.8,434.6 378,434.6 378.3,434.8 378.6,435.1 378.8,434.4 379.1,434 379.3,435.1 379.6,434.8 379.9,433.8 380.1,433.8 380.4,434 380.7,434.9 380.9,433.8 381.2,433.3 381.5,433.3 381.7,433.7 382,434.6 382.3,433.4 382.5,434.3 382.8,433.6 383.1,433 383.3,433.3 383.6,434.1 383.9,433.8 384.1,432.8 384.4,433.9 384.7,433.1 384.9,433.3 385.2,433.6 385.5,432.8 385.7,433.6 386,433.5 386.3,433 386.5,433.4 386.8,433.3 387.1,432.4 387.3,432.1 387.6,431.8 387.9,432.9 388.1,432.3 388.4,432.4 388.7,431.9 388.9,432 389.2,431.3 389.2,442.6 388.9,441.5 388.7,442.2 388.4,442.8 388.1,442.9 387.9,442.1 387.6,442.8 387.3,443 387.1,443.2 386.8,442.8 386.5,442.7 386.3,442.9 386,443.4 385.7,444.3 385.5,444.2 385.2,443.4 384.9,443.8 384.7,444.6 384.4,443.6 384.1,444.1 383.9,444.8 383.6,444.8 383.3,445.1 383.1,444.2 382.8,445.1 382.5,444.6 382.3,445 382,444.8 381.7,445.8 381.5,445.4 381.2,445.1 380.9,444.7 380.7,444.8 380.4,445.3 380.1,446.1 379.9,445.8 379.6,446.5 379.3,445.9 379.1,445.8 378.8,445.2 378.6,446.4 378.3,445.4 378,446.1 377.8,446.6 377.5,446.1 377.2,445.9 377,445.8 376.7,446.1 376.4,445.9 376.2,445.8 375.9,446.4 375.6,446.3 375.4,447.4 375.1,446.5 374.8,447.2 374.6,446.3 374.3,447.3 374,446.7 373.8,446.7 373.5,447.1 373.2,447.5 373,448 372.7,448.1 372.4,447.8 372.2,447.5 371.9,447.3 371.6,447.5 371.4,447.9 371.1,447.3 370.8,447.8 370.6,447.7 370.3,447.7 370,447.4 369.8,447.6 369.5,447.4 369.2,448.4 369,448 368.7,448.4 368.4,448.6 368.2,448.8 367.9,449.3 367.6,448.9 367.4,448.9 367.1,449.3 366.8,448.7 366.6,448.9 366.3,449.7 366,449.2 365.8,448.7 365.5,449 365.3,448.7 365,449 364.7,449.6 364.5,449 364.2,450 363.9,449 363.7,449.3 363.4,450.3 363.1,450.3 362.9,450.6 362.6,449.9 362.3,449.5 362.1,450.6 361.8,450.3 361.5,450 361.3,449.7 361,449.8 360.7,449.7 360.5,450.9 360.2,450.9 359.9,451.1 359.7,450.4 359.4,451.1 359.1,450.9 358.9,451.6 358.6,451.6 358.3,451.8 358.1,451.6 357.8,450.9 357.5,451.6 357.3,451.6 357,452.5 356.7,451.2 356.5,452.7 356.2,452.2 355.9,451.7 355.7,452.9 355.4,452.2 355.1,451.7 354.9,452.5 354.6,452 354.3,452.3 354.1,452.9 353.8,453.1 353.5,453.1 353.3,452.5 353,453.5 352.7,453.9 352.5,453 352.2,452.9 352,453.7 351.7,453.4 351.4,454.3 351.2,453.9 350.9,454.6 350.6,453.8 350.4,453.7 350.1,454.2 349.8,455.2 349.6,454.8 349.3,454.8 349,454.8 348.8,455.2 348.5,454.7 348.2,454.3 348,454.5 347.7,455.4 347.4,455.8 347.2,456.1 346.9,456.2 346.6,455.5 346.4,455.2 346.1,456.4 345.8,456.2 345.6,455.7 345.3,456.4 345,456.7 344.8,456.9 344.5,456.9 344.2,456.6 344,456 343.7,457 343.4,456.4 343.2,456.5 342.9,456.2 342.6,456.8 342.4,456.6 342.1,457.3 341.8,457.2 341.6,457 341.3,457.3 341,457 340.8,457.6 340.5,457.4 340.2,458.2 340,458.1 339.7,458.7 339.4,458.3 339.2,458.6 338.9,458.8 338.7,459.1 338.4,458.2 338.1,459.3 337.9,459.1 337.6,458.7 337.3,459 337.1,459.6 336.8,459.5 336.5,459.8 336.3,459.8 336,459.6 335.7,458.9 335.5,459.1 335.2,460.2 334.9,460 334.7,460.4 334.4,460.3 334.1,459.5 333.9,460.1 333.6,460.4 333.3,459.6 333.1,460 332.8,460.2 332.5,460.7 332.3,460.5 332,460.7 331.7,460.7 331.5,461.6 331.2,461.4 330.9,460.5 330.7,461 330.4,460.6 330.1,461.3 329.9,462 329.6,461.8 329.3,462.2 329.1,461.6 328.8,461.9 328.5,461.9 328.3,462.5 328,461.3 327.7,462.9 327.5,462.9 327.2,462.6 326.9,462.6 326.7,462.9 326.4,463.3 326.1,462.9 325.9,463.5 325.6,463.3 325.4,463.7 325.1,462.4 324.8,463.2 324.6,462.6 324.3,464 324,464.1 323.8,463.7 323.5,463.6 323.2,462.9 323,463.7 322.7,464.6 322.4,464.1 322.2,463.6 321.9,464.8 321.6,465 321.4,463.5 321.1,464.5 320.8,464.2 320.6,463.8 320.3,464.3 320,465 319.8,465.2 319.5,464.4 319.2,464.5 319,465.2 318.7,465 318.4,465.3 318.2,465.3 317.9,464.5 317.6,465.4 317.4,466 317.1,465.9 316.8,466.4 316.6,466.3 316.3,466.5 316,465.8 315.8,466 315.5,466.8 315.2,466.4 315,467.4 314.7,466.3 314.4,467.2 314.2,467 313.9,467.2 313.6,466.9 313.4,468 313.1,467.3 312.8,468.8 312.6,468.3 312.3,468.8 312.1,468.9 311.8,469.3 311.5,469.3 311.3,469.5 311,469.8 310.7,468.8 310.5,469.7 310.2,469.9 309.9,470.4 309.7,470.6 309.4,470.8 309.1,470.4 308.9,470.6 308.6,470.5 308.3,470.3 308.1,471.1 307.8,472 307.5,470.9 307.3,471.5 307,471.1 306.7,472.6 306.5,472.6 306.2,473.1 305.9,473.2 305.7,472.9 305.4,472.6 305.1,473.1 304.9,473.3 304.6,473.6 304.3,473.3 304.1,474.2 303.8,473.8 303.5,474.2 303.3,474.2 303,475.5 302.7,475.3 302.5,475.6 302.2,475.4 301.9,476 301.7,476.4 301.4,476.4 301.1,476.2 300.9,477.1 300.6,476.3 300.3,476.8 300.1,476.5 299.8,478 299.5,478.1 299.3,477.6 299,477.4 298.8,478.8 298.5,479.2 298.2,478.4 298,479.6 297.7,478.7 297.4,479.6 297.2,479.6 296.9,479.4 296.6,480.8 296.4,480.7 296.1,481.9 295.8,482.4 295.6,482 295.3,483.3 295,482.9 294.8,483.2 294.5,484.5 294.2,484.1 294,485.1 293.7,485.8 293.4,486.4 293.2,486.2 292.9,487.4 292.6,490 292.4,491.4 292.1,493.7 291.8,495 291.6,497 291.3,498.3 291,501.7 290.8,505 290.5,509.2 290.2,511.8 290,516.5 289.7,519.9" fill="#5a9ad2" opacity="0.38"/>
<path d="M289.1,499V528.7M290.1,482V513.2M291.2,476V499.3M292.3,470.7V491.9M293.3,468.3V485.7M294.4,466V483.9M295.5,464.8V482.1M296.5,463.6V480.3M297.6,462.4V478.9M298.6,461.4V478.1M299.7,460.3V477.2M300.8,459.3V476.4M301.8,458.2V475.5M302.9,457.4V474.7M304,456.6V473.8M305,455.9V473M306.1,455.1V472.1M307.2,454.3V471.3M308.2,453.7V470.6M309.3,453.2V470M310.3,452.7V469.3M311.4,452.2V468.7M312.5,451.7V468M313.5,451.1V467.4M314.6,450.6V466.7M315.7,450.1V466.1M316.7,449.6V465.4M317.8,449.1V464.9M318.9,448.8V464.6M319.9,448.4V464.3M321,448.1V464.1M322.1,447.7V463.8M323.1,447.4V463.4M324.2,447.1V463.1M325.2,446.7V462.7M326.3,446.4V462.3M327.4,446.1V462M328.4,445.7V461.6M329.5,445.4V461.2M330.6,445.1V460.9M331.6,444.8V460.5M332.7,444.4V460.2M333.8,444.1V459.8M334.8,443.8V459.4M335.9,443.5V459.1M336.9,443.1V458.7M338,442.8V458.3M339.1,442.5V458M340.1,442.2V457.6M341.2,442V457.2M342.3,441.8V456.8M343.3,441.6V456.4M344.4,441.4V456.1M345.5,441.1V455.7M346.5,440.9V455.3M347.6,440.7V454.9M348.7,440.5V454.5M349.7,440.3V454.1M350.8,440V453.7M351.8,439.8V453.4M352.9,439.6V453M354,439.4V452.6M355,439.2V452.2M356.1,438.9V451.8M357.2,438.7V451.4M358.2,438.5V451M359.3,438.3V450.7M360.4,438.1V450.3M361.4,437.8V449.9M362.5,437.6V449.6M363.5,437.5V449.4M364.6,437.3V449.1M365.7,437.1V448.8M366.7,436.9V448.6M367.8,436.7V448.3M368.9,436.5V448M369.9,436.3V447.8M371,436.2V447.5M372.1,436V447.3M373.1,435.8V447M374.2,435.6V446.7M375.3,435.4V446.5M376.3,435.2V446.2M377.4,435.1V445.9M378.4,434.9V445.7M379.5,434.7V445.4M380.6,434.5V445.2M381.6,434.3V444.9M382.7,434.1V444.6M383.8,433.8V444.2M384.8,433.5V443.7M385.9,433.2V443.2M387,432.9V442.8M388,432.6V442.3M389.1,432.3V441.8" stroke="#2a78bd" stroke-width="0.8" fill="none"/>
<polyline points="289.7,488.3 290,483.9 290.2,480.7 290.5,478.9 290.8,477.7 291,475.9 291.3,475.8 291.6,473.7 291.8,471.4 292.1,470.5 292.4,469.6 292.6,470.2 292.9,469 293.2,468.8 293.4,467.7 293.7,467.1 294,467.3 294.2,466.4 294.5,465.9 294.8,464.6 295,464.5 295.3,465.2 295.6,463.9 295.8,464.6 296.1,463.6 296.4,464 296.6,463.9 296.9,462.3 297.2,463 297.4,462.7 297.7,461.3 298,461.2 298.2,461.8 298.5,460.5 298.8,460.9 299,460.4 299.3,460.9 299.5,459.5 299.8,459.6 300.1,458.9 300.3,458.8 300.6,459.4 300.9,459.1 301.1,459.1 301.4,458.9 301.7,458.7 301.9,458.1 302.2,457.5 302.5,458.2 302.7,457 303,457.3 303.3,457.1 303.5,456.2 303.8,456.5 304.1,456.5 304.3,456.1 304.6,455.6 304.9,456.4 305.1,454.7 305.4,456 305.7,454.7 305.9,454.4 306.2,455.4 306.5,454 306.7,454.5 307,454 307.3,454.7 307.5,454.5 307.8,454.1 308.1,452.8 308.3,453.8 308.6,452.9 308.9,452.5 309.1,452.3 309.4,453.1 309.7,453 309.9,452.6 310.2,452 310.5,452.9 310.7,451.8 311,451.6 311.3,451.4 311.5,452.5 311.8,451 312.1,452.2 312.3,451.7 312.6,451.1 312.8,450.5 313.1,451.3 313.4,450.3 313.6,450.7 313.9,450.9 314.2,450.8 314.4,450.9 314.7,450.9 315,450.7 315.2,449.7 315.5,449.1 315.8,450.3 316,450.3 316.3,448.7 316.6,449.3 316.8,449.4 317.1,449.5 317.4,448.8 317.6,448.4 317.9,448.8 318.2,448.8 318.4,449.3 318.7,447.9 319,449.2 319.2,448.4 319.5,447.7 319.8,448.7 320,447.7 320.3,447.3 320.6,447.7 320.8,447.4 321.1,448.3 321.4,447.7 321.6,448.1 321.9,446.9 322.2,447.7 322.4,447.4 322.7,446.4 323,446.6 323.2,446.3 323.5,447 323.8,446.9 324,446.4 324.3,446.8 324.6,447 324.8,446.7 325.1,447 325.4,446.6 325.6,445.6 325.9,445.5 326.1,445.9 326.4,446.1 326.7,446.2 326.9,446.5 327.2,446.2 327.5,445.3 327.7,445.1 328,445.8 328.3,445 328.5,445 328.8,445 329.1,445 329.3,444.8 329.6,445.3 329.9,444.7 330.1,445.3 330.4,444.9 330.7,444.3 330.9,444.4 331.2,444.9 331.5,443.8 331.7,444.2 332,444.2 332.3,445 332.5,444.1 332.8,444.5 333.1,443.7 333.3,444 333.6,443.4 333.9,443.5 334.1,443.2 334.4,443.8 334.7,443.3 334.9,443.1 335.2,442.8 335.5,443.5 335.7,442.7 336,442.5 336.3,442.7 336.5,442.2 336.8,442.2 337.1,442.8 337.3,442.7 337.6,443.1 337.9,442 338.1,441.8 338.4,442.4 338.7,442 338.9,441.9 339.2,441.8 339.4,442.6 339.7,441.6 340,441.8 340.2,441.7 340.5,442 340.8,441.6 341,441.3 341.3,441.5 341.6,441.3 341.8,442.3 342.1,442.1 342.4,441.6 342.6,441.2 342.9,441.8 343.2,441 343.4,441 343.7,441.9 344,441.2 344.2,441.5 344.5,441.7 344.8,441.5 345,441.2 345.3,441.4 345.6,441.3 345.8,441.5 346.1,440.8 346.4,440.8 346.6,440.4 346.9,440.4 347.2,440.9 347.4,439.8 347.7,441.1 348,440.5 348.2,440.6 348.5,440.3 348.8,440.7 349,439.6 349.3,440.2 349.6,440.7 349.8,439.8 350.1,440.5 350.4,439.7 350.6,440 350.9,439.6 351.2,438.9 351.4,439.1 351.7,439.7 352,439 352.2,439.2 352.5,439.6 352.7,439.9 353,439.1 353.3,439.1 353.5,438.4 353.8,438.4 354.1,438.9 354.3,439.2 354.6,438.3 354.9,439.7 355.1,439.4 355.4,438.7 355.7,438.5 355.9,439.2 356.2,438.4 356.5,437.9 356.7,438.7 357,438.5 357.3,438.8 357.5,438.6 357.8,437.5 358.1,438.4 358.3,437.4 358.6,437.5 358.9,437.9 359.1,438.4 359.4,437.2 359.7,437.9 359.9,438 360.2,438.1 360.5,437 360.7,437.7 361,437.9 361.3,437.6 361.5,438.1 361.8,437.3 362.1,437.5 362.3,437.7 362.6,436.9 362.9,436.8 363.1,438 363.4,437.1 363.7,437.5 363.9,436.4 364.2,436.6 364.5,437.4 364.7,437.3 365,437.4 365.3,436.1 365.5,437.1 365.8,436.6 366,436.8 366.3,436.4 366.6,436.5 366.8,436.2 367.1,437.1 367.4,436.1 367.6,436.7 367.9,436.3 368.2,436.6 368.4,436.6 368.7,436.2 369,436.3 369.2,436.4 369.5,435.7 369.8,435.9 370,436.7 370.3,436.4 370.6,436 370.8,435.2 371.1,435.2 371.4,435.7 371.6,436.5 371.9,435.3 372.2,435.8 372.4,435.5 372.7,435.2 373,435.3 373.2,435.5 373.5,434.8 373.8,435.5 374,435.5 374.3,434.7 374.6,435.7 374.8,435.5 375.1,434.6 375.4,435.8 375.6,434.5 375.9,434.7 376.2,435.1 376.4,435.2 376.7,434.4 377,434.2 377.2,435.3 377.5,434.8 377.8,434.6 378,434.6 378.3,434.8 378.6,435.1 378.8,434.4 379.1,434 379.3,435.1 379.6,434.8 379.9,433.8 380.1,433.8 380.4,434 380.7,434.9 380.9,433.8 381.2,433.3 381.5,433.3 381.7,433.7 382,434.6 382.3,433.4 382.5,434.3 382.8,433.6 383.1,433 383.3,433.3 383.6,434.1 383.9,433.8 384.1,432.8 384.4,433.9 384.7,433.1 384.9,433.3 385.2,433.6 385.5,432.8 385.7,433.6 386,433.5 386.3,433 386.5,433.4 386.8,433.3 387.1,432.4 387.3,432.1 387.6,431.8 387.9,432.9 388.1,432.3 388.4,432.4 388.7,431.9 388.9,432 389.2,431.3" fill="none" stroke="#1c68ac" stroke-width="1.5" stroke-linejoin="round" stroke-linecap="round" />
<polyline points="289.7,519.9 290,516.5 290.2,511.8 290.5,509.2 290.8,505 291,501.7 291.3,498.3 291.6,497 291.8,495 292.1,493.7 292.4,491.4 292.6,490 292.9,487.4 293.2,486.2 293.4,486.4 293.7,485.8 294,485.1 294.2,484.1 294.5,484.5 294.8,483.2 295,482.9 295.3,483.3 295.6,482 295.8,482.4 296.1,481.9 296.4,480.7 296.6,480.8 296.9,479.4 297.2,479.6 297.4,479.6 297.7,478.7 298,479.6 298.2,478.4 298.5,479.2 298.8,478.8 299,477.4 299.3,477.6 299.5,478.1 299.8,478 300.1,476.5 300.3,476.8 300.6,476.3 300.9,477.1 301.1,476.2 301.4,476.4 301.7,476.4 301.9,476 302.2,475.4 302.5,475.6 302.7,475.3 303,475.5 303.3,474.2 303.5,474.2 303.8,473.8 304.1,474.2 304.3,473.3 304.6,473.6 304.9,473.3 305.1,473.1 305.4,472.6 305.7,472.9 305.9,473.2 306.2,473.1 306.5,472.6 306.7,472.6 307,471.1 307.3,471.5 307.5,470.9 307.8,472 308.1,471.1 308.3,470.3 308.6,470.5 308.9,470.6 309.1,470.4 309.4,470.8 309.7,470.6 309.9,470.4 310.2,469.9 310.5,469.7 310.7,468.8 311,469.8 311.3,469.5 311.5,469.3 311.8,469.3 312.1,468.9 312.3,468.8 312.6,468.3 312.8,468.8 313.1,467.3 313.4,468 313.6,466.9 313.9,467.2 314.2,467 314.4,467.2 314.7,466.3 315,467.4 315.2,466.4 315.5,466.8 315.8,466 316,465.8 316.3,466.5 316.6,466.3 316.8,466.4 317.1,465.9 317.4,466 317.6,465.4 317.9,464.5 318.2,465.3 318.4,465.3 318.7,465 319,465.2 319.2,464.5 319.5,464.4 319.8,465.2 320,465 320.3,464.3 320.6,463.8 320.8,464.2 321.1,464.5 321.4,463.5 321.6,465 321.9,464.8 322.2,463.6 322.4,464.1 322.7,464.6 323,463.7 323.2,462.9 323.5,463.6 323.8,463.7 324,464.1 324.3,464 324.6,462.6 324.8,463.2 325.1,462.4 325.4,463.7 325.6,463.3 325.9,463.5 326.1,462.9 326.4,463.3 326.7,462.9 326.9,462.6 327.2,462.6 327.5,462.9 327.7,462.9 328,461.3 328.3,462.5 328.5,461.9 328.8,461.9 329.1,461.6 329.3,462.2 329.6,461.8 329.9,462 330.1,461.3 330.4,460.6 330.7,461 330.9,460.5 331.2,461.4 331.5,461.6 331.7,460.7 332,460.7 332.3,460.5 332.5,460.7 332.8,460.2 333.1,460 333.3,459.6 333.6,460.4 333.9,460.1 334.1,459.5 334.4,460.3 334.7,460.4 334.9,460 335.2,460.2 335.5,459.1 335.7,458.9 336,459.6 336.3,459.8 336.5,459.8 336.8,459.5 337.1,459.6 337.3,459 337.6,458.7 337.9,459.1 338.1,459.3 338.4,458.2 338.7,459.1 338.9,458.8 339.2,458.6 339.4,458.3 339.7,458.7 340,458.1 340.2,458.2 340.5,457.4 340.8,457.6 341,457 341.3,457.3 341.6,457 341.8,457.2 342.1,457.3 342.4,456.6 342.6,456.8 342.9,456.2 343.2,456.5 343.4,456.4 343.7,457 344,456 344.2,456.6 344.5,456.9 344.8,456.9 345,456.7 345.3,456.4 345.6,455.7 345.8,456.2 346.1,456.4 346.4,455.2 346.6,455.5 346.9,456.2 347.2,456.1 347.4,455.8 347.7,455.4 348,454.5 348.2,454.3 348.5,454.7 348.8,455.2 349,454.8 349.3,454.8 349.6,454.8 349.8,455.2 350.1,454.2 350.4,453.7 350.6,453.8 350.9,454.6 351.2,453.9 351.4,454.3 351.7,453.4 352,453.7 352.2,452.9 352.5,453 352.7,453.9 353,453.5 353.3,452.5 353.5,453.1 353.8,453.1 354.1,452.9 354.3,452.3 354.6,452 354.9,452.5 355.1,451.7 355.4,452.2 355.7,452.9 355.9,451.7 356.2,452.2 356.5,452.7 356.7,451.2 357,452.5 357.3,451.6 357.5,451.6 357.8,450.9 358.1,451.6 358.3,451.8 358.6,451.6 358.9,451.6 359.1,450.9 359.4,451.1 359.7,450.4 359.9,451.1 360.2,450.9 360.5,450.9 360.7,449.7 361,449.8 361.3,449.7 361.5,450 361.8,450.3 362.1,450.6 362.3,449.5 362.6,449.9 362.9,450.6 363.1,450.3 363.4,450.3 363.7,449.3 363.9,449 364.2,450 364.5,449 364.7,449.6 365,449 365.3,448.7 365.5,449 365.8,448.7 366,449.2 366.3,449.7 366.6,448.9 366.8,448.7 367.1,449.3 367.4,448.9 367.6,448.9 367.9,449.3 368.2,448.8 368.4,448.6 368.7,448.4 369,448 369.2,448.4 369.5,447.4 369.8,447.6 370,447.4 370.3,447.7 370.6,447.7 370.8,447.8 371.1,447.3 371.4,447.9 371.6,447.5 371.9,447.3 372.2,447.5 372.4,447.8 372.7,448.1 373,448 373.2,447.5 373.5,447.1 373.8,446.7 374,446.7 374.3,447.3 374.6,446.3 374.8,447.2 375.1,446.5 375.4,447.4 375.6,446.3 375.9,446.4 376.2,445.8 376.4,445.9 376.7,446.1 377,445.8 377.2,445.9 377.5,446.1 377.8,446.6 378,446.1 378.3,445.4 378.6,446.4 378.8,445.2 379.1,445.8 379.3,445.9 379.6,446.5 379.9,445.8 380.1,446.1 380.4,445.3 380.7,444.8 380.9,444.7 381.2,445.1 381.5,445.4 381.7,445.8 382,444.8 382.3,445 382.5,444.6 382.8,445.1 383.1,444.2 383.3,445.1 383.6,444.8 383.9,444.8 384.1,444.1 384.4,443.6 384.7,444.6 384.9,443.8 385.2,443.4 385.5,444.2 385.7,444.3 386,443.4 386.3,442.9 386.5,442.7 386.8,442.8 387.1,443.2 387.3,443 387.6,442.8 387.9,442.1 388.1,442.9 388.4,442.8 388.7,442.2 388.9,441.5 389.2,442.6" fill="none" stroke="#2473b6" stroke-width="1.2" stroke-linejoin="round" stroke-linecap="round" />
<circle cx="288.3" cy="529.3" r="1.1" fill="none" stroke="#2a78bb" stroke-width="0.8"/>
<circle cx="287.4" cy="536.8" r="1.1" fill="none" stroke="#2a78bb" stroke-width="0.8"/>
<circle cx="287" cy="543" r="1.1" fill="none" stroke="#2a78bb" stroke-width="0.8"/>
<circle cx="289.6" cy="517.5" r="1.1" fill="none" stroke="#2a78bb" stroke-width="0.8"/>
<circle cx="288.6" cy="519.6" r="1.1" fill="none" stroke="#2a78bb" stroke-width="0.8"/>
<circle cx="287.1" cy="542.2" r="1.1" fill="none" stroke="#2a78bb" stroke-width="0.8"/>
<circle cx="289" cy="515.7" r="1.1" fill="none" stroke="#2a78bb" stroke-width="0.8"/>
<circle cx="289.1" cy="522.9" r="1.1" fill="none" stroke="#2a78bb" stroke-width="0.8"/>
<circle cx="287.6" cy="540" r="1.1" fill="none" stroke="#2a78bb" stroke-width="0.8"/>
<circle cx="288.4" cy="515.9" r="1.1" fill="none" stroke="#2a78bb" stroke-width="0.8"/>
<circle cx="288.7" cy="513.8" r="1.1" fill="none" stroke="#2a78bb" stroke-width="0.8"/>
<circle cx="288.1" cy="527" r="1.1" fill="none" stroke="#2a78bb" stroke-width="0.8"/>
<circle cx="287.2" cy="541" r="1.1" fill="none" stroke="#2a78bb" stroke-width="0.8"/>
<circle cx="288.9" cy="510" r="1.1" fill="none" stroke="#2a78bb" stroke-width="0.8"/>
<circle cx="288.2" cy="536.3" r="1.1" fill="none" stroke="#2a78bb" stroke-width="0.8"/>
<circle cx="287.7" cy="538.5" r="1.1" fill="none" stroke="#2a78bb" stroke-width="0.8"/>
<circle cx="287.8" cy="530.9" r="1.1" fill="none" stroke="#2a78bb" stroke-width="0.8"/>
<circle cx="287.5" cy="533.8" r="1.1" fill="none" stroke="#2a78bb" stroke-width="0.8"/>
<circle cx="289.6" cy="519" r="1.1" fill="none" stroke="#2a78bb" stroke-width="0.8"/>
<circle cx="288.1" cy="531.4" r="1.1" fill="none" stroke="#2a78bb" stroke-width="0.8"/>
<circle cx="287" cy="542.6" r="1.1" fill="none" stroke="#2a78bb" stroke-width="0.8"/>
<circle cx="289.6" cy="516.2" r="1.1" fill="none" stroke="#2a78bb" stroke-width="0.8"/>
<circle cx="288.7" cy="528.9" r="1.1" fill="none" stroke="#2a78bb" stroke-width="0.8"/>
<circle cx="288.7" cy="511.7" r="1.1" fill="none" stroke="#2a78bb" stroke-width="0.8"/>
<circle cx="287.5" cy="541.4" r="1.1" fill="none" stroke="#2a78bb" stroke-width="0.8"/>
<circle cx="287.2" cy="540.5" r="1.1" fill="none" stroke="#2a78bb" stroke-width="0.8"/>
<circle cx="287" cy="543" r="1.1" fill="none" stroke="#2a78bb" stroke-width="0.8"/>
<circle cx="288.4" cy="516.6" r="1.1" fill="none" stroke="#2a78bb" stroke-width="0.8"/>
<circle cx="288.2" cy="530.9" r="1.1" fill="none" stroke="#2a78bb" stroke-width="0.8"/>
<circle cx="288.8" cy="528" r="1.1" fill="none" stroke="#2a78bb" stroke-width="0.8"/>
<circle cx="288.7" cy="528.4" r="1.1" fill="none" stroke="#2a78bb" stroke-width="0.8"/>
<circle cx="288.8" cy="508.2" r="1.1" fill="none" stroke="#2a78bb" stroke-width="0.8"/>
<circle cx="287.1" cy="541.4" r="1.1" fill="none" stroke="#2a78bb" stroke-width="0.8"/>
<circle cx="288.7" cy="527.9" r="1.1" fill="none" stroke="#2a78bb" stroke-width="0.8"/>
<circle cx="287.7" cy="529.3" r="1.1" fill="none" stroke="#2a78bb" stroke-width="0.8"/>
<circle cx="289.9" cy="512" r="1.1" fill="none" stroke="#2a78bb" stroke-width="0.8"/>
<circle cx="289" cy="501.9" r="1.1" fill="none" stroke="#2a78bb" stroke-width="0.8"/>
<circle cx="287.6" cy="534.9" r="1.1" fill="none" stroke="#2a78bb" stroke-width="0.8"/>
<circle cx="287.1" cy="542.1" r="1.1" fill="none" stroke="#2a78bb" stroke-width="0.8"/>
<circle cx="288.9" cy="513.5" r="1.1" fill="none" stroke="#2a78bb" stroke-width="0.8"/>
<circle cx="289.2" cy="522.7" r="1.1" fill="none" stroke="#2a78bb" stroke-width="0.8"/>
<circle cx="288" cy="527.2" r="1.1" fill="none" stroke="#2a78bb" stroke-width="0.8"/>
<circle cx="288.7" cy="521.7" r="1.1" fill="none" stroke="#2a78bb" stroke-width="0.8"/>
<circle cx="288.1" cy="521.8" r="1.1" fill="none" stroke="#2a78bb" stroke-width="0.8"/>
<circle cx="288.7" cy="532.2" r="1.1" fill="none" stroke="#2a78bb" stroke-width="0.8"/>
<circle cx="289.3" cy="514.8" r="1.1" fill="none" stroke="#2a78bb" stroke-width="0.8"/>
<circle cx="276.3" cy="542.9" r="1.3" fill="none" stroke="#2a78bb" stroke-width="0.9"/>
<circle cx="277.3" cy="542.9" r="1.3" fill="none" stroke="#2a78bb" stroke-width="0.9"/>
<circle cx="278.2" cy="542.9" r="1.3" fill="none" stroke="#2a78bb" stroke-width="0.9"/>
<circle cx="279.2" cy="542.9" r="1.3" fill="none" stroke="#2a78bb" stroke-width="0.9"/>
<circle cx="280.1" cy="542.9" r="1.3" fill="none" stroke="#2a78bb" stroke-width="0.9"/>
<circle cx="281.1" cy="542.9" r="1.3" fill="none" stroke="#2a78bb" stroke-width="0.9"/>
<circle cx="282" cy="542.9" r="1.3" fill="none" stroke="#2a78bb" stroke-width="0.9"/>
<circle cx="283" cy="542.9" r="1.3" fill="none" stroke="#2a78bb" stroke-width="0.9"/>
<circle cx="284" cy="542.9" r="1.3" fill="none" stroke="#2a78bb" stroke-width="0.9"/>
<circle cx="284.9" cy="542.9" r="1.3" fill="none" stroke="#2a78bb" stroke-width="0.9"/>
<circle cx="285.9" cy="542.9" r="1.3" fill="none" stroke="#2a78bb" stroke-width="0.9"/>
<circle cx="286.8" cy="542.9" r="1.3" fill="none" stroke="#2a78bb" stroke-width="0.9"/>
<circle cx="287.5" cy="538.6" r="1.2" fill="#2a78bb"/>
<circle cx="288" cy="533.9" r="1.2" fill="#2a78bb"/>
<circle cx="288.3" cy="528.4" r="1.2" fill="#2a78bb"/>
<circle cx="288.6" cy="523.1" r="1.2" fill="#2a78bb"/>
<circle cx="289.1" cy="516.9" r="1.2" fill="#2a78bb"/>
<circle cx="289.4" cy="510.8" r="1.2" fill="#2a78bb"/>
<circle cx="289.7" cy="506.1" r="1.2" fill="#2a78bb"/>
<polyline points="389.1,433.8 389.5,437.8 389.9,440.3 390.4,444.1 390.8,445.8 391.2,448.3 391.6,450.7 392.1,451.7 392.5,454 392.9,454.8 393.3,456.6 393.8,457.8 394.2,458.4 394.6,458.8 395,460.8 395.5,461.6 395.9,461.8 396.3,462.2 396.7,463.5 397.2,464.6 397.6,464.4 398,466.5 398.4,466 398.9,467.5 399.3,468.4 399.7,469 400.1,469.4 400.6,469.2 401,470.7 401.4,470.7 401.9,471.1 402.3,472.1 402.7,472.3 403.1,473.6 403.6,474.1 404,474.4 404.4,474.1 404.8,475 405.3,475.6 405.7,475.6 406.1,476.3 406.5,477 407,476.6 407.4,477.2 407.8,478.3 408.2,478.2 408.7,478.6 409.1,478.5 409.5,479.1 409.9,480.1 410.4,479.4 410.8,481.1 411.2,480.9 411.6,480.8 412.1,482 412.5,481.8 412.9,482.8 413.3,482.2 413.8,482.3 414.2,482.9 414.6,482.7 415,483.9 415.5,483.6 415.9,484 416.3,484.3 416.7,484.7 417.2,484.4 417.6,484.5 418,485.4 418.5,485.4 418.9,486.6 419.3,485.8 419.7,486.1 420.2,485.8 420.6,486.3 421,487.3 421.4,487.4 421.9,487.1 422.3,488.3 422.7,487.8 423.1,488.5 423.6,488.7 424,489 424.4,488.1 424.8,489.3 425.3,489.2 425.7,489.2 426.1,488.6 426.5,490 427,489.6 427.4,489.6 427.8,489.2 428.2,489.5 428.7,489.5 429.1,490.6 429.5,490.5 429.9,490.7 430.4,490 430.8,490.1 431.2,491.4 431.6,491.5 432.1,491.6 432.5,491.7 432.9,491.4 433.3,491.3 433.8,492 434.2,492.5 434.6,491.9 435,492.1 435.5,491.9 435.9,491.4 436.3,491.9 436.8,492.3 437.2,492.2 437.6,492.2 438,493.3 438.5,492.1 438.9,492.3 439.3,492.3 439.7,492.5 440.2,493.2 440.6,493.3 441,493.8 441.4,493 441.9,494 442.3,494.1 442.7,493.9 443.1,494.1 443.6,493.9 444,494.4 444.4,494.5 444.8,494.4 445.3,494.5 445.7,494.1 446.1,494.7 446.5,493.5" fill="none" stroke="#1f6fb5" stroke-width="2.4" stroke-linejoin="round" stroke-linecap="round" />
<polyline points="389.1,433.8 389.5,437.8 389.9,440.3 390.4,444.1 390.8,445.8 391.2,448.3 391.6,450.7 392.1,451.7 392.5,454 392.9,454.8 393.3,456.6 393.8,457.8 394.2,458.4 394.6,458.8 395,460.8 395.5,461.6 395.9,461.8 396.3,462.2 396.7,463.5 397.2,464.6 397.6,464.4 398,466.5 398.4,466 398.9,467.5 399.3,468.4 399.7,469 400.1,469.4 400.6,469.2 401,470.7 401.4,470.7 401.9,471.1 402.3,472.1 402.7,472.3 403.1,473.6 403.6,474.1 404,474.4 404.4,474.1 404.8,475 405.3,475.6 405.7,475.6 406.1,476.3 406.5,477 407,476.6 407.4,477.2 407.8,478.3 408.2,478.2 408.7,478.6 409.1,478.5 409.5,479.1 409.9,480.1 410.4,479.4 410.8,481.1 411.2,480.9 411.6,480.8 412.1,482 412.5,481.8 412.9,482.8 413.3,482.2 413.8,482.3 414.2,482.9 414.6,482.7 415,483.9 415.5,483.6 415.9,484 416.3,484.3 416.7,484.7 417.2,484.4 417.6,484.5 418,485.4 418.5,485.4 418.9,486.6 419.3,485.8 419.7,486.1 420.2,485.8 420.6,486.3 421,487.3 421.4,487.4 421.9,487.1 422.3,488.3 422.7,487.8 423.1,488.5 423.6,488.7 424,489 424.4,488.1 424.8,489.3 425.3,489.2 425.7,489.2 426.1,488.6 426.5,490 427,489.6 427.4,489.6 427.8,489.2 428.2,489.5 428.7,489.5 429.1,490.6 429.5,490.5 429.9,490.7 430.4,490 430.8,490.1 431.2,491.4 431.6,491.5 432.1,491.6 432.5,491.7 432.9,491.4 433.3,491.3 433.8,492 434.2,492.5 434.6,491.9 435,492.1 435.5,491.9 435.9,491.4 436.3,491.9 436.8,492.3 437.2,492.2 437.6,492.2 438,493.3 438.5,492.1 438.9,492.3 439.3,492.3 439.7,492.5 440.2,493.2 440.6,493.3 441,493.8 441.4,493 441.9,494 442.3,494.1 442.7,493.9 443.1,494.1 443.6,493.9 444,494.4 444.4,494.5 444.8,494.4 445.3,494.5 445.7,494.1 446.1,494.7 446.5,493.5" fill="none" stroke="#5a9bd5" stroke-width="0.6" stroke-linejoin="round" stroke-linecap="round" />
<line x1="286.9" y1="545.2" x2="414.8" y2="545.2" stroke="#d22cf0" stroke-width="1.1" stroke-dasharray="3 2.5"/>
<line x1="390" y1="432.4" x2="414.8" y2="432.4" stroke="#d22cf0" stroke-width="1.1" stroke-dasharray="3 2.5"/>
<line x1="407.3" y1="435" x2="407.3" y2="542.5" stroke="#d22cf0" stroke-width="1.1" />
<polygon points="405.2,438 409.4,438 407.3,432.6" fill="#d22cf0"/>
<polygon points="405.2,539.5 409.4,539.5 407.3,545" fill="#d22cf0"/>
<rect x="384.5" y="499.5" width="62.8" height="23" fill="#a9a6a6" />
<text x="416" y="508.8" font-size="9" text-anchor="middle" fill="#111" font-family="Liberation Sans" >Effective</text>
<text x="416" y="520" font-size="9" text-anchor="middle" fill="#111" font-family="Liberation Sans" >stimulus</text>
<rect x="331.3" y="465.1" width="41.5" height="7.7" fill="#a9d18e"/>
<text x="348" y="471.4" font-size="6.6" font-weight="bold" text-anchor="middle" fill="#c0161c">Next neuro</text>
<rect x="302" y="495.3" width="25" height="8.5" fill="#fbe0d0"/>
<text x="314.5" y="502" font-size="6.6" font-weight="bold" text-anchor="middle" fill="#d42020">EPSC</text>
<path d="M317.5,492.3 C324,490 332,485.5 339,485.6 C344,486 347,492 347.8,500.4 C347,504 344,505 343.1,506.5 C341,508 341,511 343.1,512.6 C346,513 347.5,515 347.2,518 C346,522 343,523 340,522.5 C334,521.5 327,519 320.2,515.3" fill="none" stroke="#4b8a2c" stroke-width="1.4"/>
<path d="M384,485 C378,485.5 372,484.5 368,479 C364,475.5 358,474.5 353,476.5 C350,479 350,483 351.2,487 C354,494 355.3,500 355.3,506 C355,512 354.6,516.6 352.5,522 C350,527 351,531 355,532.8 C360,533.5 366,529 370,526 C375,524 380,524.5 384.2,525.4" fill="none" stroke="#4b8a2c" stroke-width="1.4"/>
<polygon points="361.4,491.7 360.3,492.4 360.6,493.8 359.2,493.5 358.5,494.6 357.8,493.5 356.4,493.8 356.7,492.4 355.6,491.7 356.7,491 356.4,489.6 357.8,489.9 358.5,488.8 359.2,489.9 360.6,489.6 360.3,491" fill="#3a5e22"/>
<circle cx="355.9" cy="492.3" r="1.1" fill="#fff" stroke="#3a5e22" stroke-width="0.5"/>
<polygon points="362.4,505.8 361.3,506.5 361.6,507.9 360.2,507.6 359.5,508.7 358.8,507.6 357.4,507.9 357.7,506.5 356.6,505.8 357.7,505.1 357.4,503.7 358.8,504 359.5,502.9 360.2,504 361.6,503.7 361.3,505.1" fill="#3a5e22"/>
<circle cx="356.9" cy="506.40000000000003" r="1.1" fill="#fff" stroke="#3a5e22" stroke-width="0.5"/>
<polygon points="360.7,518 359.6,518.7 359.9,520.1 358.5,519.8 357.8,520.9 357.1,519.8 355.7,520.1 356,518.7 354.9,518 356,517.3 355.7,515.9 357.1,516.2 357.8,515.1 358.5,516.2 359.9,515.9 359.6,517.3" fill="#3a5e22"/>
<circle cx="355.2" cy="518.6" r="1.1" fill="#fff" stroke="#3a5e22" stroke-width="0.5"/>
<circle cx="334.4" cy="506.5" r="4" fill="#f2f7ea" stroke="#cfe0b8" stroke-width="0.5"/>
<path d="M331.2,503.6 C333,503.4 335,504.5 337.6,506.5 C335,508.5 333,509.6 331.2,509.4 C332.6,508 332.6,505 331.2,503.6 Z" fill="#d4a017"/>
<path d="M330,486 C337,482 344,484 349,494 C351,503 350,510 351,516 C348,521 343,523 336,523" fill="none" stroke="#f08080" stroke-width="1" stroke-dasharray="0.6 1"/>
<polyline points="313.5,486.3 317,486.3 318.2,477 320.2,490 321.5,484 322.5,486.3 327,486.3" fill="none" stroke="#d42020" stroke-width="0.8"/>
<polygon points="325.5,485 328,486.3 325.5,487.6" fill="#d42020"/>
<text x="281.3" y="436" font-size="10.3" text-anchor="start" fill="#111" font-family="Liberation Sans" >Strain =125%</text>
<rect x="276.3" y="422.6" width="170.1" height="135.8" fill="none" stroke="#111" stroke-width="1.1"/>
<line x1="276.3" y1="558.4" x2="276.3" y2="560.9" stroke="#222" stroke-width="0.9" />
<line x1="329.5" y1="558.4" x2="329.5" y2="560.9" stroke="#222" stroke-width="0.9" />
<line x1="382.7" y1="558.4" x2="382.7" y2="560.9" stroke="#222" stroke-width="0.9" />
<line x1="435.9" y1="558.4" x2="435.9" y2="560.9" stroke="#222" stroke-width="0.9" />
<line x1="302.9" y1="558.4" x2="302.9" y2="559.9" stroke="#222" stroke-width="0.9" />
<line x1="356.1" y1="558.4" x2="356.1" y2="559.9" stroke="#222" stroke-width="0.9" />
<line x1="409.3" y1="558.4" x2="409.3" y2="559.9" stroke="#222" stroke-width="0.9" />
<line x1="276.3" y1="543.2" x2="273.8" y2="543.2" stroke="#222" stroke-width="0.9" />
<line x1="276.3" y1="512.3" x2="273.8" y2="512.3" stroke="#222" stroke-width="0.9" />
<line x1="276.3" y1="481.4" x2="273.8" y2="481.4" stroke="#222" stroke-width="0.9" />
<line x1="276.3" y1="450.5" x2="273.8" y2="450.5" stroke="#222" stroke-width="0.9" />
<line x1="276.3" y1="527.8" x2="274.8" y2="527.8" stroke="#222" stroke-width="0.9" />
<line x1="276.3" y1="496.9" x2="274.8" y2="496.9" stroke="#222" stroke-width="0.9" />
<line x1="276.3" y1="466" x2="274.8" y2="466" stroke="#222" stroke-width="0.9" />
<line x1="276.3" y1="435.1" x2="274.8" y2="435.1" stroke="#222" stroke-width="0.9" />
<text x="276.3" y="573" font-size="11" text-anchor="middle" fill="#111" font-family="Liberation Sans" >0</text>
<text x="329.5" y="573" font-size="11" text-anchor="middle" fill="#111" font-family="Liberation Sans" >50</text>
<text x="382.7" y="573" font-size="11" text-anchor="middle" fill="#111" font-family="Liberation Sans" >100</text>
<text x="435.9" y="573" font-size="11" text-anchor="middle" fill="#111" font-family="Liberation Sans" >150</text>
<text x="273" y="547.2" font-size="11" text-anchor="end" fill="#111" font-family="Liberation Sans" >40</text>
<text x="273" y="516.3" font-size="11" text-anchor="end" fill="#111" font-family="Liberation Sans" >50</text>
<text x="273" y="485.4" font-size="11" text-anchor="end" fill="#111" font-family="Liberation Sans" >60</text>
<text x="273" y="454.5" font-size="11" text-anchor="end" fill="#111" font-family="Liberation Sans" >70</text>
<text x="361.4" y="591" font-size="12.4" text-anchor="middle" fill="#111" font-family="Liberation Sans" >Time (s)</text>
<text x="0" y="0" font-size="12.4" text-anchor="middle" fill="#111" dominant-baseline="central" transform="translate(252.2,489.8) rotate(-90)" >Current (nA)</text>
<line x1="183" y1="469" x2="389.9" y2="436.5" stroke="#d42a2a" stroke-width="0.9" />
<line x1="183" y1="553.8" x2="389.9" y2="544.2" stroke="#d42a2a" stroke-width="0.9" />
<text x="462.1" y="403.6" font-size="18.5" text-anchor="start" fill="#000" font-family="Liberation Sans" >i</text>
<polyline points="522.2,452.1 555,452.1 587.6,453.2 620.3,461.1 652.7,459.3" fill="none" stroke="#111" stroke-width="1.0" stroke-linejoin="round" stroke-linecap="round" />
<polyline points="522.2,462.2 555,460.4 587.6,459.3 620.3,472.2 652.7,515.8" fill="none" stroke="#6ea4d6" stroke-width="1.0" stroke-linejoin="round" stroke-linecap="round" />
<circle cx="522.2" cy="452.1" r="2.6" fill="#fff" stroke="#5b9bd5" stroke-width="0.9"/>
<circle cx="555.0" cy="452.1" r="2.6" fill="#fff" stroke="#5b9bd5" stroke-width="0.9"/>
<circle cx="587.6" cy="453.2" r="2.6" fill="#fff" stroke="#5b9bd5" stroke-width="0.9"/>
<circle cx="620.3" cy="461.1" r="2.6" fill="#fff" stroke="#5b9bd5" stroke-width="0.9"/>
<circle cx="652.7" cy="459.3" r="2.6" fill="#fff" stroke="#5b9bd5" stroke-width="0.9"/>
<circle cx="522.2" cy="462.2" r="2.6" fill="url(#gBall1)"/>
<circle cx="555.0" cy="460.4" r="2.6" fill="url(#gBall1)"/>
<circle cx="587.6" cy="459.3" r="2.6" fill="url(#gBall1)"/>
<circle cx="620.3" cy="472.2" r="2.6" fill="url(#gBall1)"/>
<circle cx="652.7" cy="515.8" r="2.6" fill="url(#gBall1)"/>
<line x1="588" y1="433" x2="591.5" y2="433" stroke="#6ea4d6" stroke-width="1.1" />
<line x1="597" y1="433" x2="600.5" y2="433" stroke="#6ea4d6" stroke-width="1.1" />
<circle cx="594.2" cy="433" r="2.5" fill="url(#gBall1)"/>
<text x="605.7" y="436.2" font-size="8.8" text-anchor="start" fill="#111" font-family="Liberation Sans" >50% strain</text>
<line x1="588" y1="443.4" x2="591.5" y2="443.4" stroke="#111" stroke-width="1.1" />
<line x1="597" y1="443.4" x2="600.5" y2="443.4" stroke="#111" stroke-width="1.1" />
<circle cx="594.2" cy="443.4" r="2.5" fill="#fff" stroke="#5b9bd5" stroke-width="0.9"/>
<text x="605.7" y="446.6" font-size="8.8" text-anchor="start" fill="#111" font-family="Liberation Sans" >released</text>
<text x="514.2" y="434.8" font-size="10" text-anchor="start" fill="#111" font-family="Liberation Sans" >pulse width=1s</text>
<text x="514.2" y="447.8" font-size="10" fill="#111">1mW/cm<tspan font-size="6.5" dy="-4">2</tspan></text>
<rect x="505.9" y="422.3" width="163.3" height="131.5" fill="none" stroke="#111" stroke-width="1.1"/>
<line x1="522.2" y1="553.8" x2="522.2" y2="556.3" stroke="#222" stroke-width="0.9" />
<line x1="555" y1="553.8" x2="555" y2="556.3" stroke="#222" stroke-width="0.9" />
<line x1="587.6" y1="553.8" x2="587.6" y2="556.3" stroke="#222" stroke-width="0.9" />
<line x1="620.3" y1="553.8" x2="620.3" y2="556.3" stroke="#222" stroke-width="0.9" />
<line x1="652.7" y1="553.8" x2="652.7" y2="556.3" stroke="#222" stroke-width="0.9" />
<line x1="538.6" y1="553.8" x2="538.6" y2="555.3" stroke="#222" stroke-width="0.9" />
<line x1="571.3" y1="553.8" x2="571.3" y2="555.3" stroke="#222" stroke-width="0.9" />
<line x1="603.9" y1="553.8" x2="603.9" y2="555.3" stroke="#222" stroke-width="0.9" />
<line x1="636.5" y1="553.8" x2="636.5" y2="555.3" stroke="#222" stroke-width="0.9" />
<line x1="505.9" y1="554.4" x2="503.4" y2="554.4" stroke="#111" stroke-width="0.9" />
<line x1="505.9" y1="544.5" x2="504.6" y2="544.5" stroke="#111" stroke-width="0.7" />
<line x1="505.9" y1="538.7" x2="504.6" y2="538.7" stroke="#111" stroke-width="0.7" />
<line x1="505.9" y1="534.5" x2="504.6" y2="534.5" stroke="#111" stroke-width="0.7" />
<line x1="505.9" y1="531.3" x2="504.6" y2="531.3" stroke="#111" stroke-width="0.7" />
<line x1="505.9" y1="528.7" x2="504.6" y2="528.7" stroke="#111" stroke-width="0.7" />
<line x1="505.9" y1="526.5" x2="504.6" y2="526.5" stroke="#111" stroke-width="0.7" />
<line x1="505.9" y1="524.6" x2="504.6" y2="524.6" stroke="#111" stroke-width="0.7" />
<line x1="505.9" y1="522.9" x2="504.6" y2="522.9" stroke="#111" stroke-width="0.7" />
<line x1="505.9" y1="521.4" x2="503.4" y2="521.4" stroke="#111" stroke-width="0.9" />
<line x1="505.9" y1="511.5" x2="504.6" y2="511.5" stroke="#111" stroke-width="0.7" />
<line x1="505.9" y1="505.7" x2="504.6" y2="505.7" stroke="#111" stroke-width="0.7" />
<line x1="505.9" y1="501.5" x2="504.6" y2="501.5" stroke="#111" stroke-width="0.7" />
<line x1="505.9" y1="498.3" x2="504.6" y2="498.3" stroke="#111" stroke-width="0.7" />
<line x1="505.9" y1="495.7" x2="504.6" y2="495.7" stroke="#111" stroke-width="0.7" />
<line x1="505.9" y1="493.5" x2="504.6" y2="493.5" stroke="#111" stroke-width="0.7" />
<line x1="505.9" y1="491.6" x2="504.6" y2="491.6" stroke="#111" stroke-width="0.7" />
<line x1="505.9" y1="489.9" x2="504.6" y2="489.9" stroke="#111" stroke-width="0.7" />
<line x1="505.9" y1="488.4" x2="503.4" y2="488.4" stroke="#111" stroke-width="0.9" />
<line x1="505.9" y1="478.5" x2="504.6" y2="478.5" stroke="#111" stroke-width="0.7" />
<line x1="505.9" y1="472.7" x2="504.6" y2="472.7" stroke="#111" stroke-width="0.7" />
<line x1="505.9" y1="468.5" x2="504.6" y2="468.5" stroke="#111" stroke-width="0.7" />
<line x1="505.9" y1="465.3" x2="504.6" y2="465.3" stroke="#111" stroke-width="0.7" />
<line x1="505.9" y1="462.7" x2="504.6" y2="462.7" stroke="#111" stroke-width="0.7" />
<line x1="505.9" y1="460.5" x2="504.6" y2="460.5" stroke="#111" stroke-width="0.7" />
<line x1="505.9" y1="458.6" x2="504.6" y2="458.6" stroke="#111" stroke-width="0.7" />
<line x1="505.9" y1="456.9" x2="504.6" y2="456.9" stroke="#111" stroke-width="0.7" />
<line x1="505.9" y1="455.4" x2="503.4" y2="455.4" stroke="#111" stroke-width="0.9" />
<line x1="505.9" y1="445.5" x2="504.6" y2="445.5" stroke="#111" stroke-width="0.7" />
<line x1="505.9" y1="439.7" x2="504.6" y2="439.7" stroke="#111" stroke-width="0.7" />
<line x1="505.9" y1="435.5" x2="504.6" y2="435.5" stroke="#111" stroke-width="0.7" />
<line x1="505.9" y1="432.3" x2="504.6" y2="432.3" stroke="#111" stroke-width="0.7" />
<line x1="505.9" y1="429.7" x2="504.6" y2="429.7" stroke="#111" stroke-width="0.7" />
<line x1="505.9" y1="427.5" x2="504.6" y2="427.5" stroke="#111" stroke-width="0.7" />
<line x1="505.9" y1="425.6" x2="504.6" y2="425.6" stroke="#111" stroke-width="0.7" />
<line x1="505.9" y1="423.9" x2="504.6" y2="423.9" stroke="#111" stroke-width="0.7" />
<line x1="505.9" y1="422.4" x2="503.4" y2="422.4" stroke="#111" stroke-width="0.9" />
<text x="502.2" y="426.4" font-size="11" text-anchor="end" fill="#111" font-family="Liberation Sans" >100</text>
<text x="502.2" y="459.4" font-size="11" text-anchor="end" fill="#111" font-family="Liberation Sans" >10</text>
<text x="502.2" y="492.4" font-size="11" text-anchor="end" fill="#111" font-family="Liberation Sans" >1</text>
<text x="502.2" y="525.4" font-size="11" text-anchor="end" fill="#111" font-family="Liberation Sans" >0.1</text>
<text x="502.2" y="558.4" font-size="11" text-anchor="end" fill="#111" font-family="Liberation Sans" >0.01</text>
<text x="520" y="571.2" font-size="11" text-anchor="middle" fill="#111" font-family="Liberation Sans" >0</text>
<text x="547.1" y="571.2" font-size="11" text-anchor="middle" fill="#111" font-family="Liberation Sans" >1</text>
<text x="570.7" y="571.2" font-size="11" text-anchor="middle" fill="#111">10<tspan font-size="7.5" dy="-4.5">1</tspan></text>
<text x="598.4" y="571.2" font-size="11" text-anchor="middle" fill="#111">10<tspan font-size="7.5" dy="-4.5">2</tspan></text>
<text x="625.6" y="571.2" font-size="11" text-anchor="middle" fill="#111">10<tspan font-size="7.5" dy="-4.5">3</tspan></text>
<text x="652.5" y="571.2" font-size="11" text-anchor="middle" fill="#111">10<tspan font-size="7.5" dy="-4.5">4</tspan></text>
<text x="587.5" y="583.7" font-size="12" text-anchor="middle" fill="#111" font-family="Liberation Sans" >cycles</text>
<text x="0" y="0" font-size="12.5" text-anchor="middle" fill="#111" dominant-baseline="central" transform="translate(473.4,488) rotate(-90)" >light current (nA)</text>
</svg></body></html>
